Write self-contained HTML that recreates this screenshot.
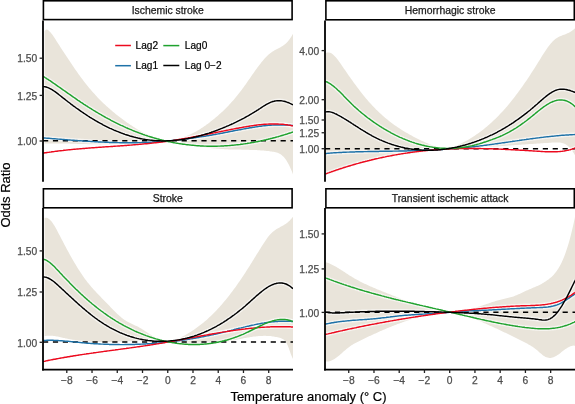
<!DOCTYPE html><html><head><meta charset="utf-8"><style>html,body{margin:0;padding:0;background:#fff;width:575px;height:404px;overflow:hidden;}svg{display:block;}text{font-family:"Liberation Sans",sans-serif;}</style></head><body>
<div style="position:absolute;left:0;top:0;width:575px;height:404px;will-change:transform">
<svg width="575" height="404" viewBox="0 0 575 404">
<rect width="575" height="404" fill="#fff"/>
<defs>
<clipPath id="cTL"><rect x="43.0" y="20.4" width="250.0" height="161.3"/></clipPath>
<clipPath id="cTR"><rect x="325.0" y="20.4" width="250.5" height="161.4"/></clipPath>
<clipPath id="cBL"><rect x="43.0" y="208.0" width="250.0" height="161.7"/></clipPath>
<clipPath id="cBR"><rect x="325.0" y="208.0" width="250.5" height="161.7"/></clipPath>
</defs>
<g clip-path="url(#cTL)">
<path d="M44.6,31.1 L45.6,29.9 L46.6,29.5 L47.6,29.7 L48.6,30.4 L49.6,31.4 L50.6,32.5 L51.6,33.7 L52.6,35.1 L53.6,36.6 L54.6,38.1 L55.6,39.6 L56.6,41.2 L57.6,42.7 L58.6,44.3 L59.6,45.8 L60.6,47.4 L61.6,48.9 L62.6,50.5 L63.6,52.0 L64.6,53.5 L65.6,55.1 L66.6,56.6 L67.6,58.1 L68.6,59.6 L69.6,61.1 L70.6,62.6 L71.6,64.1 L72.6,65.6 L73.6,67.0 L74.6,68.5 L75.6,69.9 L76.6,71.3 L77.6,72.8 L78.6,74.2 L79.6,75.5 L80.6,76.9 L81.6,78.3 L82.6,79.6 L83.6,80.9 L84.6,82.2 L85.6,83.5 L86.6,84.8 L87.6,86.0 L88.6,87.2 L89.6,88.4 L90.6,89.6 L91.6,90.8 L92.6,91.9 L93.6,93.0 L94.6,94.1 L95.6,95.2 L96.6,96.3 L97.6,97.4 L98.6,98.4 L99.6,99.4 L100.6,100.4 L101.6,101.4 L102.6,102.4 L103.6,103.4 L104.6,104.3 L105.6,105.2 L106.6,106.2 L107.6,107.1 L108.6,108.0 L109.6,108.8 L110.6,109.7 L111.6,110.6 L112.6,111.4 L113.6,112.2 L114.6,113.1 L115.6,113.9 L116.6,114.7 L117.6,115.5 L118.6,116.3 L119.6,117.0 L120.6,117.8 L121.6,118.5 L122.6,119.3 L123.6,120.0 L124.6,120.7 L125.6,121.5 L126.6,122.2 L127.6,122.9 L128.6,123.6 L129.6,124.3 L130.6,124.9 L131.6,125.6 L132.6,126.3 L133.6,126.9 L134.6,127.6 L135.6,128.2 L136.6,128.8 L137.6,129.4 L138.6,130.0 L139.6,130.6 L140.6,131.1 L141.6,131.7 L142.6,132.2 L143.6,132.7 L144.6,133.2 L145.6,133.7 L146.6,134.2 L147.6,134.6 L148.6,135.1 L149.6,135.5 L150.6,135.9 L151.6,136.3 L152.6,136.7 L153.6,137.0 L154.6,137.3 L155.6,137.6 L156.6,137.9 L157.6,138.2 L158.6,138.5 L159.6,138.7 L160.6,138.9 L161.6,139.1 L162.6,139.2 L163.6,139.4 L164.6,139.5 L165.6,139.6 L166.6,139.6 L167.6,139.7 L168.6,139.7 L169.6,139.7 L170.6,139.7 L171.6,139.6 L172.6,139.5 L173.6,139.4 L174.6,139.3 L175.6,139.1 L176.6,139.0 L177.6,138.8 L178.6,138.6 L179.6,138.3 L180.6,138.1 L181.6,137.8 L182.6,137.5 L183.6,137.1 L184.6,136.8 L185.6,136.4 L186.6,136.0 L187.6,135.6 L188.6,135.2 L189.6,134.8 L190.6,134.3 L191.6,133.8 L192.6,133.3 L193.6,132.8 L194.6,132.3 L195.6,131.7 L196.6,131.2 L197.6,130.6 L198.6,130.0 L199.6,129.4 L200.6,128.7 L201.6,128.1 L202.6,127.4 L203.6,126.7 L204.6,126.1 L205.6,125.4 L206.6,124.6 L207.6,123.9 L208.6,123.2 L209.6,122.4 L210.6,121.6 L211.6,120.8 L212.6,120.0 L213.6,119.2 L214.6,118.4 L215.6,117.6 L216.6,116.7 L217.6,115.9 L218.6,115.0 L219.6,114.1 L220.6,113.2 L221.6,112.3 L222.6,111.4 L223.6,110.4 L224.6,109.4 L225.6,108.4 L226.6,107.4 L227.6,106.4 L228.6,105.4 L229.6,104.3 L230.6,103.2 L231.6,102.1 L232.6,101.0 L233.6,99.9 L234.6,98.7 L235.6,97.5 L236.6,96.3 L237.6,95.1 L238.6,93.8 L239.6,92.6 L240.6,91.3 L241.6,89.9 L242.6,88.6 L243.6,87.2 L244.6,85.8 L245.6,84.4 L246.6,83.0 L247.6,81.6 L248.6,80.1 L249.6,78.7 L250.6,77.2 L251.6,75.8 L252.6,74.3 L253.6,72.9 L254.6,71.5 L255.6,70.1 L256.6,68.7 L257.6,67.3 L258.6,66.0 L259.6,64.7 L260.6,63.4 L261.6,62.1 L262.6,60.9 L263.6,59.7 L264.6,58.6 L265.6,57.5 L266.6,56.5 L267.6,55.5 L268.6,54.6 L269.6,53.7 L270.6,52.9 L271.6,52.2 L272.6,51.5 L273.6,50.9 L274.6,50.3 L275.6,49.8 L276.6,49.3 L277.6,48.8 L278.6,48.3 L279.6,47.7 L280.6,47.2 L281.6,46.6 L282.6,46.0 L283.6,45.3 L284.6,44.5 L285.6,43.7 L286.6,42.7 L287.6,41.7 L288.6,40.5 L289.6,39.2 L290.6,37.8 L291.6,36.2 L292.6,34.5 L293.0,33.7 L293.0,174.4 L292.6,173.3 L291.6,170.8 L290.6,168.5 L289.6,166.3 L288.6,164.3 L287.6,162.5 L286.6,160.8 L285.6,159.3 L284.6,158.0 L283.6,156.8 L282.6,155.9 L281.6,155.0 L280.6,154.3 L279.6,153.7 L278.6,153.2 L277.6,152.8 L276.6,152.5 L275.6,152.2 L274.6,152.0 L273.6,151.8 L272.6,151.7 L271.6,151.5 L270.6,151.4 L269.6,151.3 L268.6,151.1 L267.6,151.0 L266.6,150.9 L265.6,150.8 L264.6,150.7 L263.6,150.6 L262.6,150.5 L261.6,150.5 L260.6,150.4 L259.6,150.3 L258.6,150.2 L257.6,150.2 L256.6,150.1 L255.6,150.1 L254.6,150.0 L253.6,150.0 L252.6,150.0 L251.6,149.9 L250.6,149.9 L249.6,149.9 L248.6,149.8 L247.6,149.8 L246.6,149.8 L245.6,149.7 L244.6,149.7 L243.6,149.7 L242.6,149.7 L241.6,149.7 L240.6,149.6 L239.6,149.6 L238.6,149.6 L237.6,149.6 L236.6,149.6 L235.6,149.5 L234.6,149.5 L233.6,149.5 L232.6,149.5 L231.6,149.5 L230.6,149.4 L229.6,149.4 L228.6,149.4 L227.6,149.3 L226.6,149.3 L225.6,149.2 L224.6,149.2 L223.6,149.1 L222.6,149.1 L221.6,149.0 L220.6,149.0 L219.6,148.9 L218.6,148.8 L217.6,148.8 L216.6,148.7 L215.6,148.6 L214.6,148.5 L213.6,148.4 L212.6,148.3 L211.6,148.2 L210.6,148.0 L209.6,147.9 L208.6,147.8 L207.6,147.7 L206.6,147.5 L205.6,147.4 L204.6,147.2 L203.6,147.0 L202.6,146.9 L201.6,146.7 L200.6,146.5 L199.6,146.4 L198.6,146.2 L197.6,146.0 L196.6,145.8 L195.6,145.7 L194.6,145.5 L193.6,145.3 L192.6,145.1 L191.6,144.9 L190.6,144.8 L189.6,144.6 L188.6,144.4 L187.6,144.2 L186.6,144.0 L185.6,143.9 L184.6,143.7 L183.6,143.5 L182.6,143.4 L181.6,143.2 L180.6,143.0 L179.6,142.9 L178.6,142.7 L177.6,142.6 L176.6,142.5 L175.6,142.3 L174.6,142.2 L173.6,142.1 L172.6,142.0 L171.6,141.8 L170.6,141.7 L169.6,141.7 L168.6,141.6 L167.6,141.5 L166.6,141.4 L165.6,141.4 L164.6,141.3 L163.6,141.3 L162.6,141.2 L161.6,141.2 L160.6,141.2 L159.6,141.2 L158.6,141.2 L157.6,141.2 L156.6,141.2 L155.6,141.2 L154.6,141.2 L153.6,141.2 L152.6,141.3 L151.6,141.3 L150.6,141.4 L149.6,141.4 L148.6,141.4 L147.6,141.5 L146.6,141.6 L145.6,141.6 L144.6,141.7 L143.6,141.8 L142.6,141.8 L141.6,141.9 L140.6,142.0 L139.6,142.0 L138.6,142.1 L137.6,142.2 L136.6,142.3 L135.6,142.4 L134.6,142.5 L133.6,142.5 L132.6,142.6 L131.6,142.7 L130.6,142.8 L129.6,142.9 L128.6,143.0 L127.6,143.1 L126.6,143.1 L125.6,143.2 L124.6,143.3 L123.6,143.4 L122.6,143.5 L121.6,143.5 L120.6,143.6 L119.6,143.7 L118.6,143.8 L117.6,143.8 L116.6,143.9 L115.6,143.9 L114.6,144.0 L113.6,144.1 L112.6,144.1 L111.6,144.1 L110.6,144.2 L109.6,144.2 L108.6,144.2 L107.6,144.3 L106.6,144.3 L105.6,144.3 L104.6,144.3 L103.6,144.3 L102.6,144.3 L101.6,144.3 L100.6,144.4 L99.6,144.4 L98.6,144.3 L97.6,144.3 L96.6,144.3 L95.6,144.3 L94.6,144.3 L93.6,144.3 L92.6,144.3 L91.6,144.3 L90.6,144.2 L89.6,144.2 L88.6,144.2 L87.6,144.2 L86.6,144.1 L85.6,144.1 L84.6,144.1 L83.6,144.1 L82.6,144.0 L81.6,144.0 L80.6,144.0 L79.6,143.9 L78.6,143.9 L77.6,143.9 L76.6,143.8 L75.6,143.8 L74.6,143.8 L73.6,143.8 L72.6,143.7 L71.6,143.7 L70.6,143.7 L69.6,143.6 L68.6,143.6 L67.6,143.6 L66.6,143.6 L65.6,143.5 L64.6,143.5 L63.6,143.5 L62.6,143.5 L61.6,143.5 L60.6,143.5 L59.6,143.5 L58.6,143.4 L57.6,143.4 L56.6,143.4 L55.6,143.4 L54.6,143.4 L53.6,143.4 L52.6,143.5 L51.6,143.5 L50.6,143.5 L49.6,143.5 L48.6,143.5 L47.6,143.6 L46.6,143.6 L45.6,143.6 L44.6,143.7 Z" fill="#E9E4DA"/>
<path d="M43.0,153.2 L44.0,153.0 L45.0,152.8 L46.0,152.7 L47.0,152.5 L48.0,152.4 L49.0,152.3 L50.0,152.1 L51.0,152.0 L52.0,151.8 L53.0,151.7 L54.0,151.6 L55.0,151.4 L56.0,151.3 L57.0,151.2 L58.0,151.0 L59.0,150.9 L60.0,150.8 L61.0,150.7 L62.0,150.6 L63.0,150.5 L64.0,150.3 L65.0,150.2 L66.0,150.1 L67.0,150.0 L68.0,149.9 L69.0,149.8 L70.0,149.7 L71.0,149.6 L72.0,149.5 L73.0,149.4 L74.0,149.3 L75.0,149.2 L76.0,149.1 L77.0,149.0 L78.0,149.0 L79.0,148.9 L80.0,148.8 L81.0,148.7 L82.0,148.6 L83.0,148.5 L84.0,148.4 L85.0,148.4 L86.0,148.3 L87.0,148.2 L88.0,148.1 L89.0,148.0 L90.0,148.0 L91.0,147.9 L92.0,147.8 L93.0,147.7 L94.0,147.7 L95.0,147.6 L96.0,147.5 L97.0,147.5 L98.0,147.4 L99.0,147.3 L100.0,147.2 L101.0,147.2 L102.0,147.1 L103.0,147.0 L104.0,147.0 L105.0,146.9 L106.0,146.8 L107.0,146.8 L108.0,146.7 L109.0,146.6 L110.0,146.6 L111.0,146.5 L112.0,146.4 L113.0,146.4 L114.0,146.3 L115.0,146.2 L116.0,146.1 L117.0,146.1 L118.0,146.0 L119.0,145.9 L120.0,145.9 L121.0,145.8 L122.0,145.7 L123.0,145.7 L124.0,145.6 L125.0,145.5 L126.0,145.4 L127.0,145.4 L128.0,145.3 L129.0,145.2 L130.0,145.1 L131.0,145.1 L132.0,145.0 L133.0,144.9 L134.0,144.8 L135.0,144.7 L136.0,144.6 L137.0,144.6 L138.0,144.5 L139.0,144.4 L140.0,144.3 L141.0,144.2 L142.0,144.1 L143.0,144.0 L144.0,143.9 L145.0,143.8 L146.0,143.8 L147.0,143.7 L148.0,143.6 L149.0,143.5 L150.0,143.4 L151.0,143.3 L152.0,143.1 L153.0,143.0 L154.0,142.9 L155.0,142.8 L156.0,142.7 L157.0,142.6 L158.0,142.5 L159.0,142.4 L160.0,142.2 L161.0,142.1 L162.0,142.0 L163.0,141.9 L164.0,141.7 L165.0,141.6 L166.0,141.5 L167.0,141.3 L168.0,141.2 L169.0,141.0 L170.0,140.9 L171.0,140.8 L172.0,140.6 L173.0,140.5 L174.0,140.3 L175.0,140.1 L176.0,140.0 L177.0,139.8 L178.0,139.7 L179.0,139.5 L180.0,139.3 L181.0,139.2 L182.0,139.0 L183.0,138.8 L184.0,138.7 L185.0,138.5 L186.0,138.3 L187.0,138.1 L188.0,138.0 L189.0,137.8 L190.0,137.6 L191.0,137.4 L192.0,137.2 L193.0,137.0 L194.0,136.8 L195.0,136.7 L196.0,136.5 L197.0,136.3 L198.0,136.1 L199.0,135.9 L200.0,135.7 L201.0,135.5 L202.0,135.3 L203.0,135.1 L204.0,134.9 L205.0,134.7 L206.0,134.5 L207.0,134.3 L208.0,134.1 L209.0,133.9 L210.0,133.7 L211.0,133.5 L212.0,133.3 L213.0,133.1 L214.0,132.9 L215.0,132.7 L216.0,132.5 L217.0,132.3 L218.0,132.1 L219.0,131.9 L220.0,131.7 L221.0,131.5 L222.0,131.3 L223.0,131.1 L224.0,130.9 L225.0,130.7 L226.0,130.5 L227.0,130.3 L228.0,130.1 L229.0,129.9 L230.0,129.7 L231.0,129.5 L232.0,129.3 L233.0,129.1 L234.0,128.9 L235.0,128.7 L236.0,128.5 L237.0,128.3 L238.0,128.2 L239.0,128.0 L240.0,127.8 L241.0,127.6 L242.0,127.4 L243.0,127.2 L244.0,127.0 L245.0,126.9 L246.0,126.7 L247.0,126.5 L248.0,126.4 L249.0,126.2 L250.0,126.0 L251.0,125.9 L252.0,125.7 L253.0,125.6 L254.0,125.4 L255.0,125.3 L256.0,125.2 L257.0,125.0 L258.0,124.9 L259.0,124.8 L260.0,124.7 L261.0,124.6 L262.0,124.5 L263.0,124.4 L264.0,124.3 L265.0,124.3 L266.0,124.2 L267.0,124.1 L268.0,124.1 L269.0,124.0 L270.0,124.0 L271.0,124.0 L272.0,123.9 L273.0,123.9 L274.0,123.9 L275.0,123.9 L276.0,124.0 L277.0,124.0 L278.0,124.0 L279.0,124.1 L280.0,124.1 L281.0,124.2 L282.0,124.3 L283.0,124.3 L284.0,124.4 L285.0,124.6 L286.0,124.7 L287.0,124.8 L288.0,125.0 L289.0,125.1 L290.0,125.3 L291.0,125.5 L292.0,125.7 L293.0,125.9" fill="none" stroke="#fff" stroke-opacity="0.6" stroke-width="4.2" stroke-linejoin="round"/>
<path d="M43.0,137.9 L44.0,137.9 L45.0,138.0 L46.0,138.1 L47.0,138.2 L48.0,138.3 L49.0,138.3 L50.0,138.4 L51.0,138.5 L52.0,138.6 L53.0,138.7 L54.0,138.7 L55.0,138.8 L56.0,138.9 L57.0,139.0 L58.0,139.1 L59.0,139.1 L60.0,139.2 L61.0,139.3 L62.0,139.4 L63.0,139.5 L64.0,139.5 L65.0,139.6 L66.0,139.7 L67.0,139.8 L68.0,139.9 L69.0,139.9 L70.0,140.0 L71.0,140.1 L72.0,140.2 L73.0,140.2 L74.0,140.3 L75.0,140.4 L76.0,140.5 L77.0,140.5 L78.0,140.6 L79.0,140.7 L80.0,140.7 L81.0,140.8 L82.0,140.9 L83.0,140.9 L84.0,141.0 L85.0,141.1 L86.0,141.1 L87.0,141.2 L88.0,141.3 L89.0,141.3 L90.0,141.4 L91.0,141.5 L92.0,141.5 L93.0,141.6 L94.0,141.6 L95.0,141.7 L96.0,141.8 L97.0,141.8 L98.0,141.9 L99.0,141.9 L100.0,142.0 L101.0,142.0 L102.0,142.1 L103.0,142.1 L104.0,142.1 L105.0,142.2 L106.0,142.2 L107.0,142.3 L108.0,142.3 L109.0,142.4 L110.0,142.4 L111.0,142.4 L112.0,142.5 L113.0,142.5 L114.0,142.5 L115.0,142.5 L116.0,142.6 L117.0,142.6 L118.0,142.6 L119.0,142.6 L120.0,142.7 L121.0,142.7 L122.0,142.7 L123.0,142.7 L124.0,142.7 L125.0,142.7 L126.0,142.7 L127.0,142.7 L128.0,142.7 L129.0,142.7 L130.0,142.7 L131.0,142.7 L132.0,142.7 L133.0,142.7 L134.0,142.7 L135.0,142.7 L136.0,142.7 L137.0,142.7 L138.0,142.6 L139.0,142.6 L140.0,142.6 L141.0,142.6 L142.0,142.5 L143.0,142.5 L144.0,142.5 L145.0,142.4 L146.0,142.4 L147.0,142.4 L148.0,142.3 L149.0,142.3 L150.0,142.2 L151.0,142.2 L152.0,142.1 L153.0,142.1 L154.0,142.0 L155.0,141.9 L156.0,141.9 L157.0,141.8 L158.0,141.7 L159.0,141.7 L160.0,141.6 L161.0,141.5 L162.0,141.4 L163.0,141.4 L164.0,141.3 L165.0,141.2 L166.0,141.1 L167.0,141.0 L168.0,140.9 L169.0,140.8 L170.0,140.7 L171.0,140.6 L172.0,140.5 L173.0,140.4 L174.0,140.3 L175.0,140.2 L176.0,140.1 L177.0,140.0 L178.0,139.9 L179.0,139.8 L180.0,139.7 L181.0,139.6 L182.0,139.4 L183.0,139.3 L184.0,139.2 L185.0,139.1 L186.0,138.9 L187.0,138.8 L188.0,138.7 L189.0,138.5 L190.0,138.4 L191.0,138.3 L192.0,138.1 L193.0,138.0 L194.0,137.8 L195.0,137.7 L196.0,137.6 L197.0,137.4 L198.0,137.3 L199.0,137.1 L200.0,136.9 L201.0,136.8 L202.0,136.6 L203.0,136.5 L204.0,136.3 L205.0,136.2 L206.0,136.0 L207.0,135.8 L208.0,135.7 L209.0,135.5 L210.0,135.3 L211.0,135.2 L212.0,135.0 L213.0,134.8 L214.0,134.6 L215.0,134.5 L216.0,134.3 L217.0,134.1 L218.0,133.9 L219.0,133.7 L220.0,133.5 L221.0,133.4 L222.0,133.2 L223.0,133.0 L224.0,132.8 L225.0,132.6 L226.0,132.4 L227.0,132.2 L228.0,132.0 L229.0,131.8 L230.0,131.6 L231.0,131.4 L232.0,131.2 L233.0,131.0 L234.0,130.8 L235.0,130.6 L236.0,130.4 L237.0,130.2 L238.0,130.0 L239.0,129.9 L240.0,129.7 L241.0,129.5 L242.0,129.3 L243.0,129.1 L244.0,128.9 L245.0,128.7 L246.0,128.5 L247.0,128.4 L248.0,128.2 L249.0,128.0 L250.0,127.8 L251.0,127.7 L252.0,127.5 L253.0,127.3 L254.0,127.2 L255.0,127.0 L256.0,126.9 L257.0,126.7 L258.0,126.6 L259.0,126.4 L260.0,126.3 L261.0,126.2 L262.0,126.0 L263.0,125.9 L264.0,125.8 L265.0,125.7 L266.0,125.6 L267.0,125.5 L268.0,125.4 L269.0,125.3 L270.0,125.3 L271.0,125.2 L272.0,125.1 L273.0,125.1 L274.0,125.0 L275.0,125.0 L276.0,124.9 L277.0,124.9 L278.0,124.9 L279.0,124.9 L280.0,124.9 L281.0,124.9 L282.0,124.9 L283.0,124.9 L284.0,124.9 L285.0,125.0 L286.0,125.0 L287.0,125.1 L288.0,125.1 L289.0,125.2 L290.0,125.3 L291.0,125.4 L292.0,125.5 L293.0,125.6" fill="none" stroke="#fff" stroke-opacity="0.6" stroke-width="4.2" stroke-linejoin="round"/>
<path d="M43.0,76.2 L44.0,76.8 L45.0,77.5 L46.0,78.1 L47.0,78.8 L48.0,79.4 L49.0,80.1 L50.0,80.7 L51.0,81.4 L52.0,82.1 L53.0,82.8 L54.0,83.5 L55.0,84.2 L56.0,84.9 L57.0,85.6 L58.0,86.3 L59.0,87.0 L60.0,87.7 L61.0,88.4 L62.0,89.1 L63.0,89.8 L64.0,90.5 L65.0,91.2 L66.0,91.9 L67.0,92.6 L68.0,93.3 L69.0,94.0 L70.0,94.7 L71.0,95.4 L72.0,96.1 L73.0,96.8 L74.0,97.5 L75.0,98.2 L76.0,98.9 L77.0,99.6 L78.0,100.3 L79.0,100.9 L80.0,101.6 L81.0,102.3 L82.0,102.9 L83.0,103.6 L84.0,104.3 L85.0,104.9 L86.0,105.6 L87.0,106.2 L88.0,106.9 L89.0,107.5 L90.0,108.1 L91.0,108.7 L92.0,109.4 L93.0,110.0 L94.0,110.6 L95.0,111.2 L96.0,111.8 L97.0,112.4 L98.0,113.0 L99.0,113.6 L100.0,114.2 L101.0,114.7 L102.0,115.3 L103.0,115.9 L104.0,116.5 L105.0,117.0 L106.0,117.6 L107.0,118.1 L108.0,118.7 L109.0,119.2 L110.0,119.7 L111.0,120.3 L112.0,120.8 L113.0,121.3 L114.0,121.8 L115.0,122.3 L116.0,122.8 L117.0,123.3 L118.0,123.8 L119.0,124.3 L120.0,124.8 L121.0,125.3 L122.0,125.7 L123.0,126.2 L124.0,126.7 L125.0,127.1 L126.0,127.6 L127.0,128.0 L128.0,128.5 L129.0,128.9 L130.0,129.3 L131.0,129.7 L132.0,130.2 L133.0,130.6 L134.0,131.0 L135.0,131.4 L136.0,131.8 L137.0,132.1 L138.0,132.5 L139.0,132.9 L140.0,133.3 L141.0,133.6 L142.0,134.0 L143.0,134.4 L144.0,134.7 L145.0,135.1 L146.0,135.4 L147.0,135.7 L148.0,136.1 L149.0,136.4 L150.0,136.7 L151.0,137.0 L152.0,137.3 L153.0,137.6 L154.0,137.9 L155.0,138.2 L156.0,138.5 L157.0,138.8 L158.0,139.0 L159.0,139.3 L160.0,139.6 L161.0,139.8 L162.0,140.1 L163.0,140.3 L164.0,140.6 L165.0,140.8 L166.0,141.0 L167.0,141.3 L168.0,141.5 L169.0,141.7 L170.0,141.9 L171.0,142.1 L172.0,142.3 L173.0,142.5 L174.0,142.7 L175.0,142.9 L176.0,143.1 L177.0,143.2 L178.0,143.4 L179.0,143.6 L180.0,143.7 L181.0,143.9 L182.0,144.0 L183.0,144.2 L184.0,144.3 L185.0,144.4 L186.0,144.6 L187.0,144.7 L188.0,144.8 L189.0,144.9 L190.0,145.0 L191.0,145.1 L192.0,145.2 L193.0,145.3 L194.0,145.4 L195.0,145.5 L196.0,145.6 L197.0,145.7 L198.0,145.7 L199.0,145.8 L200.0,145.9 L201.0,145.9 L202.0,146.0 L203.0,146.0 L204.0,146.1 L205.0,146.1 L206.0,146.1 L207.0,146.2 L208.0,146.2 L209.0,146.2 L210.0,146.2 L211.0,146.2 L212.0,146.2 L213.0,146.2 L214.0,146.2 L215.0,146.2 L216.0,146.2 L217.0,146.2 L218.0,146.1 L219.0,146.1 L220.0,146.1 L221.0,146.0 L222.0,146.0 L223.0,145.9 L224.0,145.9 L225.0,145.8 L226.0,145.8 L227.0,145.7 L228.0,145.6 L229.0,145.6 L230.0,145.5 L231.0,145.4 L232.0,145.3 L233.0,145.2 L234.0,145.1 L235.0,145.0 L236.0,144.9 L237.0,144.8 L238.0,144.7 L239.0,144.6 L240.0,144.5 L241.0,144.3 L242.0,144.2 L243.0,144.1 L244.0,143.9 L245.0,143.8 L246.0,143.6 L247.0,143.5 L248.0,143.3 L249.0,143.1 L250.0,143.0 L251.0,142.8 L252.0,142.6 L253.0,142.5 L254.0,142.3 L255.0,142.1 L256.0,141.9 L257.0,141.7 L258.0,141.5 L259.0,141.3 L260.0,141.1 L261.0,140.9 L262.0,140.7 L263.0,140.4 L264.0,140.2 L265.0,140.0 L266.0,139.8 L267.0,139.5 L268.0,139.3 L269.0,139.0 L270.0,138.8 L271.0,138.5 L272.0,138.3 L273.0,138.0 L274.0,137.7 L275.0,137.5 L276.0,137.2 L277.0,136.9 L278.0,136.7 L279.0,136.4 L280.0,136.1 L281.0,135.8 L282.0,135.5 L283.0,135.2 L284.0,134.9 L285.0,134.6 L286.0,134.3 L287.0,134.0 L288.0,133.6 L289.0,133.3 L290.0,133.0 L291.0,132.7 L292.0,132.3 L293.0,132.0" fill="none" stroke="#fff" stroke-opacity="0.6" stroke-width="4.2" stroke-linejoin="round"/>
<path d="M43.0,86.5 L44.0,86.6 L45.0,86.8 L46.0,87.0 L47.0,87.3 L48.0,87.7 L49.0,88.1 L50.0,88.6 L51.0,89.1 L52.0,89.7 L53.0,90.3 L54.0,91.0 L55.0,91.7 L56.0,92.4 L57.0,93.1 L58.0,93.9 L59.0,94.7 L60.0,95.5 L61.0,96.3 L62.0,97.1 L63.0,97.9 L64.0,98.6 L65.0,99.4 L66.0,100.2 L67.0,101.0 L68.0,101.8 L69.0,102.5 L70.0,103.3 L71.0,104.1 L72.0,104.8 L73.0,105.6 L74.0,106.3 L75.0,107.0 L76.0,107.8 L77.0,108.5 L78.0,109.2 L79.0,109.9 L80.0,110.6 L81.0,111.3 L82.0,112.0 L83.0,112.7 L84.0,113.4 L85.0,114.0 L86.0,114.7 L87.0,115.3 L88.0,116.0 L89.0,116.6 L90.0,117.3 L91.0,117.9 L92.0,118.5 L93.0,119.1 L94.0,119.7 L95.0,120.3 L96.0,120.9 L97.0,121.5 L98.0,122.0 L99.0,122.6 L100.0,123.2 L101.0,123.7 L102.0,124.2 L103.0,124.8 L104.0,125.3 L105.0,125.8 L106.0,126.3 L107.0,126.8 L108.0,127.3 L109.0,127.8 L110.0,128.3 L111.0,128.7 L112.0,129.2 L113.0,129.6 L114.0,130.1 L115.0,130.5 L116.0,130.9 L117.0,131.3 L118.0,131.7 L119.0,132.1 L120.0,132.5 L121.0,132.9 L122.0,133.3 L123.0,133.6 L124.0,134.0 L125.0,134.4 L126.0,134.7 L127.0,135.0 L128.0,135.3 L129.0,135.6 L130.0,136.0 L131.0,136.2 L132.0,136.5 L133.0,136.8 L134.0,137.1 L135.0,137.3 L136.0,137.6 L137.0,137.8 L138.0,138.1 L139.0,138.3 L140.0,138.5 L141.0,138.7 L142.0,138.9 L143.0,139.1 L144.0,139.2 L145.0,139.4 L146.0,139.6 L147.0,139.7 L148.0,139.9 L149.0,140.0 L150.0,140.1 L151.0,140.2 L152.0,140.3 L153.0,140.4 L154.0,140.5 L155.0,140.6 L156.0,140.6 L157.0,140.7 L158.0,140.8 L159.0,140.8 L160.0,140.8 L161.0,140.9 L162.0,140.9 L163.0,140.9 L164.0,140.9 L165.0,140.9 L166.0,140.9 L167.0,140.8 L168.0,140.8 L169.0,140.8 L170.0,140.7 L171.0,140.6 L172.0,140.6 L173.0,140.5 L174.0,140.4 L175.0,140.3 L176.0,140.2 L177.0,140.1 L178.0,140.0 L179.0,139.9 L180.0,139.8 L181.0,139.7 L182.0,139.5 L183.0,139.4 L184.0,139.2 L185.0,139.0 L186.0,138.9 L187.0,138.7 L188.0,138.5 L189.0,138.3 L190.0,138.1 L191.0,137.9 L192.0,137.7 L193.0,137.5 L194.0,137.2 L195.0,137.0 L196.0,136.8 L197.0,136.5 L198.0,136.3 L199.0,136.0 L200.0,135.7 L201.0,135.5 L202.0,135.2 L203.0,134.9 L204.0,134.6 L205.0,134.3 L206.0,134.0 L207.0,133.7 L208.0,133.4 L209.0,133.1 L210.0,132.7 L211.0,132.4 L212.0,132.0 L213.0,131.7 L214.0,131.3 L215.0,131.0 L216.0,130.6 L217.0,130.3 L218.0,129.9 L219.0,129.5 L220.0,129.1 L221.0,128.7 L222.0,128.3 L223.0,127.9 L224.0,127.5 L225.0,127.1 L226.0,126.7 L227.0,126.2 L228.0,125.8 L229.0,125.4 L230.0,124.9 L231.0,124.5 L232.0,124.0 L233.0,123.6 L234.0,123.1 L235.0,122.6 L236.0,122.2 L237.0,121.7 L238.0,121.2 L239.0,120.7 L240.0,120.2 L241.0,119.7 L242.0,119.1 L243.0,118.6 L244.0,118.1 L245.0,117.5 L246.0,117.0 L247.0,116.4 L248.0,115.9 L249.0,115.3 L250.0,114.7 L251.0,114.1 L252.0,113.5 L253.0,112.9 L254.0,112.3 L255.0,111.7 L256.0,111.1 L257.0,110.4 L258.0,109.8 L259.0,109.1 L260.0,108.5 L261.0,107.8 L262.0,107.2 L263.0,106.5 L264.0,105.9 L265.0,105.3 L266.0,104.7 L267.0,104.1 L268.0,103.6 L269.0,103.1 L270.0,102.6 L271.0,102.2 L272.0,101.8 L273.0,101.5 L274.0,101.3 L275.0,101.0 L276.0,100.9 L277.0,100.8 L278.0,100.7 L279.0,100.7 L280.0,100.7 L281.0,100.8 L282.0,100.9 L283.0,101.1 L284.0,101.3 L285.0,101.5 L286.0,101.8 L287.0,102.2 L288.0,102.5 L289.0,102.9 L290.0,103.4 L291.0,103.8 L292.0,104.3 L293.0,104.9" fill="none" stroke="#fff" stroke-opacity="0.6" stroke-width="4.2" stroke-linejoin="round"/>
<line x1="43.0" y1="140.80" x2="293.0" y2="140.80" stroke="#000" stroke-width="1.4" stroke-dasharray="5.2 4.7"/>
<path d="M43.0,137.9 L44.0,137.9 L45.0,138.0 L46.0,138.1 L47.0,138.2 L48.0,138.3 L49.0,138.3 L50.0,138.4 L51.0,138.5 L52.0,138.6 L53.0,138.7 L54.0,138.7 L55.0,138.8 L56.0,138.9 L57.0,139.0 L58.0,139.1 L59.0,139.1 L60.0,139.2 L61.0,139.3 L62.0,139.4 L63.0,139.5 L64.0,139.5 L65.0,139.6 L66.0,139.7 L67.0,139.8 L68.0,139.9 L69.0,139.9 L70.0,140.0 L71.0,140.1 L72.0,140.2 L73.0,140.2 L74.0,140.3 L75.0,140.4 L76.0,140.5 L77.0,140.5 L78.0,140.6 L79.0,140.7 L80.0,140.7 L81.0,140.8 L82.0,140.9 L83.0,140.9 L84.0,141.0 L85.0,141.1 L86.0,141.1 L87.0,141.2 L88.0,141.3 L89.0,141.3 L90.0,141.4 L91.0,141.5 L92.0,141.5 L93.0,141.6 L94.0,141.6 L95.0,141.7 L96.0,141.8 L97.0,141.8 L98.0,141.9 L99.0,141.9 L100.0,142.0 L101.0,142.0 L102.0,142.1 L103.0,142.1 L104.0,142.1 L105.0,142.2 L106.0,142.2 L107.0,142.3 L108.0,142.3 L109.0,142.4 L110.0,142.4 L111.0,142.4 L112.0,142.5 L113.0,142.5 L114.0,142.5 L115.0,142.5 L116.0,142.6 L117.0,142.6 L118.0,142.6 L119.0,142.6 L120.0,142.7 L121.0,142.7 L122.0,142.7 L123.0,142.7 L124.0,142.7 L125.0,142.7 L126.0,142.7 L127.0,142.7 L128.0,142.7 L129.0,142.7 L130.0,142.7 L131.0,142.7 L132.0,142.7 L133.0,142.7 L134.0,142.7 L135.0,142.7 L136.0,142.7 L137.0,142.7 L138.0,142.6 L139.0,142.6 L140.0,142.6 L141.0,142.6 L142.0,142.5 L143.0,142.5 L144.0,142.5 L145.0,142.4 L146.0,142.4 L147.0,142.4 L148.0,142.3 L149.0,142.3 L150.0,142.2 L151.0,142.2 L152.0,142.1 L153.0,142.1 L154.0,142.0 L155.0,141.9 L156.0,141.9 L157.0,141.8 L158.0,141.7 L159.0,141.7 L160.0,141.6 L161.0,141.5 L162.0,141.4 L163.0,141.4 L164.0,141.3 L165.0,141.2 L166.0,141.1 L167.0,141.0 L168.0,140.9 L169.0,140.8 L170.0,140.7 L171.0,140.6 L172.0,140.5 L173.0,140.4 L174.0,140.3 L175.0,140.2 L176.0,140.1 L177.0,140.0 L178.0,139.9 L179.0,139.8 L180.0,139.7 L181.0,139.6 L182.0,139.4 L183.0,139.3 L184.0,139.2 L185.0,139.1 L186.0,138.9 L187.0,138.8 L188.0,138.7 L189.0,138.5 L190.0,138.4 L191.0,138.3 L192.0,138.1 L193.0,138.0 L194.0,137.8 L195.0,137.7 L196.0,137.6 L197.0,137.4 L198.0,137.3 L199.0,137.1 L200.0,136.9 L201.0,136.8 L202.0,136.6 L203.0,136.5 L204.0,136.3 L205.0,136.2 L206.0,136.0 L207.0,135.8 L208.0,135.7 L209.0,135.5 L210.0,135.3 L211.0,135.2 L212.0,135.0 L213.0,134.8 L214.0,134.6 L215.0,134.5 L216.0,134.3 L217.0,134.1 L218.0,133.9 L219.0,133.7 L220.0,133.5 L221.0,133.4 L222.0,133.2 L223.0,133.0 L224.0,132.8 L225.0,132.6 L226.0,132.4 L227.0,132.2 L228.0,132.0 L229.0,131.8 L230.0,131.6 L231.0,131.4 L232.0,131.2 L233.0,131.0 L234.0,130.8 L235.0,130.6 L236.0,130.4 L237.0,130.2 L238.0,130.0 L239.0,129.9 L240.0,129.7 L241.0,129.5 L242.0,129.3 L243.0,129.1 L244.0,128.9 L245.0,128.7 L246.0,128.5 L247.0,128.4 L248.0,128.2 L249.0,128.0 L250.0,127.8 L251.0,127.7 L252.0,127.5 L253.0,127.3 L254.0,127.2 L255.0,127.0 L256.0,126.9 L257.0,126.7 L258.0,126.6 L259.0,126.4 L260.0,126.3 L261.0,126.2 L262.0,126.0 L263.0,125.9 L264.0,125.8 L265.0,125.7 L266.0,125.6 L267.0,125.5 L268.0,125.4 L269.0,125.3 L270.0,125.3 L271.0,125.2 L272.0,125.1 L273.0,125.1 L274.0,125.0 L275.0,125.0 L276.0,124.9 L277.0,124.9 L278.0,124.9 L279.0,124.9 L280.0,124.9 L281.0,124.9 L282.0,124.9 L283.0,124.9 L284.0,124.9 L285.0,125.0 L286.0,125.0 L287.0,125.1 L288.0,125.1 L289.0,125.2 L290.0,125.3 L291.0,125.4 L292.0,125.5 L293.0,125.6" fill="none" stroke="#1E72A8" stroke-width="1.45" stroke-linejoin="round"/>
<path d="M43.0,153.2 L44.0,153.0 L45.0,152.8 L46.0,152.7 L47.0,152.5 L48.0,152.4 L49.0,152.3 L50.0,152.1 L51.0,152.0 L52.0,151.8 L53.0,151.7 L54.0,151.6 L55.0,151.4 L56.0,151.3 L57.0,151.2 L58.0,151.0 L59.0,150.9 L60.0,150.8 L61.0,150.7 L62.0,150.6 L63.0,150.5 L64.0,150.3 L65.0,150.2 L66.0,150.1 L67.0,150.0 L68.0,149.9 L69.0,149.8 L70.0,149.7 L71.0,149.6 L72.0,149.5 L73.0,149.4 L74.0,149.3 L75.0,149.2 L76.0,149.1 L77.0,149.0 L78.0,149.0 L79.0,148.9 L80.0,148.8 L81.0,148.7 L82.0,148.6 L83.0,148.5 L84.0,148.4 L85.0,148.4 L86.0,148.3 L87.0,148.2 L88.0,148.1 L89.0,148.0 L90.0,148.0 L91.0,147.9 L92.0,147.8 L93.0,147.7 L94.0,147.7 L95.0,147.6 L96.0,147.5 L97.0,147.5 L98.0,147.4 L99.0,147.3 L100.0,147.2 L101.0,147.2 L102.0,147.1 L103.0,147.0 L104.0,147.0 L105.0,146.9 L106.0,146.8 L107.0,146.8 L108.0,146.7 L109.0,146.6 L110.0,146.6 L111.0,146.5 L112.0,146.4 L113.0,146.4 L114.0,146.3 L115.0,146.2 L116.0,146.1 L117.0,146.1 L118.0,146.0 L119.0,145.9 L120.0,145.9 L121.0,145.8 L122.0,145.7 L123.0,145.7 L124.0,145.6 L125.0,145.5 L126.0,145.4 L127.0,145.4 L128.0,145.3 L129.0,145.2 L130.0,145.1 L131.0,145.1 L132.0,145.0 L133.0,144.9 L134.0,144.8 L135.0,144.7 L136.0,144.6 L137.0,144.6 L138.0,144.5 L139.0,144.4 L140.0,144.3 L141.0,144.2 L142.0,144.1 L143.0,144.0 L144.0,143.9 L145.0,143.8 L146.0,143.8 L147.0,143.7 L148.0,143.6 L149.0,143.5 L150.0,143.4 L151.0,143.3 L152.0,143.1 L153.0,143.0 L154.0,142.9 L155.0,142.8 L156.0,142.7 L157.0,142.6 L158.0,142.5 L159.0,142.4 L160.0,142.2 L161.0,142.1 L162.0,142.0 L163.0,141.9 L164.0,141.7 L165.0,141.6 L166.0,141.5 L167.0,141.3 L168.0,141.2 L169.0,141.0 L170.0,140.9 L171.0,140.8 L172.0,140.6 L173.0,140.5 L174.0,140.3 L175.0,140.1 L176.0,140.0 L177.0,139.8 L178.0,139.7 L179.0,139.5 L180.0,139.3 L181.0,139.2 L182.0,139.0 L183.0,138.8 L184.0,138.7 L185.0,138.5 L186.0,138.3 L187.0,138.1 L188.0,138.0 L189.0,137.8 L190.0,137.6 L191.0,137.4 L192.0,137.2 L193.0,137.0 L194.0,136.8 L195.0,136.7 L196.0,136.5 L197.0,136.3 L198.0,136.1 L199.0,135.9 L200.0,135.7 L201.0,135.5 L202.0,135.3 L203.0,135.1 L204.0,134.9 L205.0,134.7 L206.0,134.5 L207.0,134.3 L208.0,134.1 L209.0,133.9 L210.0,133.7 L211.0,133.5 L212.0,133.3 L213.0,133.1 L214.0,132.9 L215.0,132.7 L216.0,132.5 L217.0,132.3 L218.0,132.1 L219.0,131.9 L220.0,131.7 L221.0,131.5 L222.0,131.3 L223.0,131.1 L224.0,130.9 L225.0,130.7 L226.0,130.5 L227.0,130.3 L228.0,130.1 L229.0,129.9 L230.0,129.7 L231.0,129.5 L232.0,129.3 L233.0,129.1 L234.0,128.9 L235.0,128.7 L236.0,128.5 L237.0,128.3 L238.0,128.2 L239.0,128.0 L240.0,127.8 L241.0,127.6 L242.0,127.4 L243.0,127.2 L244.0,127.0 L245.0,126.9 L246.0,126.7 L247.0,126.5 L248.0,126.4 L249.0,126.2 L250.0,126.0 L251.0,125.9 L252.0,125.7 L253.0,125.6 L254.0,125.4 L255.0,125.3 L256.0,125.2 L257.0,125.0 L258.0,124.9 L259.0,124.8 L260.0,124.7 L261.0,124.6 L262.0,124.5 L263.0,124.4 L264.0,124.3 L265.0,124.3 L266.0,124.2 L267.0,124.1 L268.0,124.1 L269.0,124.0 L270.0,124.0 L271.0,124.0 L272.0,123.9 L273.0,123.9 L274.0,123.9 L275.0,123.9 L276.0,124.0 L277.0,124.0 L278.0,124.0 L279.0,124.1 L280.0,124.1 L281.0,124.2 L282.0,124.3 L283.0,124.3 L284.0,124.4 L285.0,124.6 L286.0,124.7 L287.0,124.8 L288.0,125.0 L289.0,125.1 L290.0,125.3 L291.0,125.5 L292.0,125.7 L293.0,125.9" fill="none" stroke="#EC0A1E" stroke-width="1.45" stroke-linejoin="round"/>
<path d="M43.0,76.2 L44.0,76.8 L45.0,77.5 L46.0,78.1 L47.0,78.8 L48.0,79.4 L49.0,80.1 L50.0,80.7 L51.0,81.4 L52.0,82.1 L53.0,82.8 L54.0,83.5 L55.0,84.2 L56.0,84.9 L57.0,85.6 L58.0,86.3 L59.0,87.0 L60.0,87.7 L61.0,88.4 L62.0,89.1 L63.0,89.8 L64.0,90.5 L65.0,91.2 L66.0,91.9 L67.0,92.6 L68.0,93.3 L69.0,94.0 L70.0,94.7 L71.0,95.4 L72.0,96.1 L73.0,96.8 L74.0,97.5 L75.0,98.2 L76.0,98.9 L77.0,99.6 L78.0,100.3 L79.0,100.9 L80.0,101.6 L81.0,102.3 L82.0,102.9 L83.0,103.6 L84.0,104.3 L85.0,104.9 L86.0,105.6 L87.0,106.2 L88.0,106.9 L89.0,107.5 L90.0,108.1 L91.0,108.7 L92.0,109.4 L93.0,110.0 L94.0,110.6 L95.0,111.2 L96.0,111.8 L97.0,112.4 L98.0,113.0 L99.0,113.6 L100.0,114.2 L101.0,114.7 L102.0,115.3 L103.0,115.9 L104.0,116.5 L105.0,117.0 L106.0,117.6 L107.0,118.1 L108.0,118.7 L109.0,119.2 L110.0,119.7 L111.0,120.3 L112.0,120.8 L113.0,121.3 L114.0,121.8 L115.0,122.3 L116.0,122.8 L117.0,123.3 L118.0,123.8 L119.0,124.3 L120.0,124.8 L121.0,125.3 L122.0,125.7 L123.0,126.2 L124.0,126.7 L125.0,127.1 L126.0,127.6 L127.0,128.0 L128.0,128.5 L129.0,128.9 L130.0,129.3 L131.0,129.7 L132.0,130.2 L133.0,130.6 L134.0,131.0 L135.0,131.4 L136.0,131.8 L137.0,132.1 L138.0,132.5 L139.0,132.9 L140.0,133.3 L141.0,133.6 L142.0,134.0 L143.0,134.4 L144.0,134.7 L145.0,135.1 L146.0,135.4 L147.0,135.7 L148.0,136.1 L149.0,136.4 L150.0,136.7 L151.0,137.0 L152.0,137.3 L153.0,137.6 L154.0,137.9 L155.0,138.2 L156.0,138.5 L157.0,138.8 L158.0,139.0 L159.0,139.3 L160.0,139.6 L161.0,139.8 L162.0,140.1 L163.0,140.3 L164.0,140.6 L165.0,140.8 L166.0,141.0 L167.0,141.3 L168.0,141.5 L169.0,141.7 L170.0,141.9 L171.0,142.1 L172.0,142.3 L173.0,142.5 L174.0,142.7 L175.0,142.9 L176.0,143.1 L177.0,143.2 L178.0,143.4 L179.0,143.6 L180.0,143.7 L181.0,143.9 L182.0,144.0 L183.0,144.2 L184.0,144.3 L185.0,144.4 L186.0,144.6 L187.0,144.7 L188.0,144.8 L189.0,144.9 L190.0,145.0 L191.0,145.1 L192.0,145.2 L193.0,145.3 L194.0,145.4 L195.0,145.5 L196.0,145.6 L197.0,145.7 L198.0,145.7 L199.0,145.8 L200.0,145.9 L201.0,145.9 L202.0,146.0 L203.0,146.0 L204.0,146.1 L205.0,146.1 L206.0,146.1 L207.0,146.2 L208.0,146.2 L209.0,146.2 L210.0,146.2 L211.0,146.2 L212.0,146.2 L213.0,146.2 L214.0,146.2 L215.0,146.2 L216.0,146.2 L217.0,146.2 L218.0,146.1 L219.0,146.1 L220.0,146.1 L221.0,146.0 L222.0,146.0 L223.0,145.9 L224.0,145.9 L225.0,145.8 L226.0,145.8 L227.0,145.7 L228.0,145.6 L229.0,145.6 L230.0,145.5 L231.0,145.4 L232.0,145.3 L233.0,145.2 L234.0,145.1 L235.0,145.0 L236.0,144.9 L237.0,144.8 L238.0,144.7 L239.0,144.6 L240.0,144.5 L241.0,144.3 L242.0,144.2 L243.0,144.1 L244.0,143.9 L245.0,143.8 L246.0,143.6 L247.0,143.5 L248.0,143.3 L249.0,143.1 L250.0,143.0 L251.0,142.8 L252.0,142.6 L253.0,142.5 L254.0,142.3 L255.0,142.1 L256.0,141.9 L257.0,141.7 L258.0,141.5 L259.0,141.3 L260.0,141.1 L261.0,140.9 L262.0,140.7 L263.0,140.4 L264.0,140.2 L265.0,140.0 L266.0,139.8 L267.0,139.5 L268.0,139.3 L269.0,139.0 L270.0,138.8 L271.0,138.5 L272.0,138.3 L273.0,138.0 L274.0,137.7 L275.0,137.5 L276.0,137.2 L277.0,136.9 L278.0,136.7 L279.0,136.4 L280.0,136.1 L281.0,135.8 L282.0,135.5 L283.0,135.2 L284.0,134.9 L285.0,134.6 L286.0,134.3 L287.0,134.0 L288.0,133.6 L289.0,133.3 L290.0,133.0 L291.0,132.7 L292.0,132.3 L293.0,132.0" fill="none" stroke="#1FA22E" stroke-width="1.45" stroke-linejoin="round"/>
<path d="M43.0,86.5 L44.0,86.6 L45.0,86.8 L46.0,87.0 L47.0,87.3 L48.0,87.7 L49.0,88.1 L50.0,88.6 L51.0,89.1 L52.0,89.7 L53.0,90.3 L54.0,91.0 L55.0,91.7 L56.0,92.4 L57.0,93.1 L58.0,93.9 L59.0,94.7 L60.0,95.5 L61.0,96.3 L62.0,97.1 L63.0,97.9 L64.0,98.6 L65.0,99.4 L66.0,100.2 L67.0,101.0 L68.0,101.8 L69.0,102.5 L70.0,103.3 L71.0,104.1 L72.0,104.8 L73.0,105.6 L74.0,106.3 L75.0,107.0 L76.0,107.8 L77.0,108.5 L78.0,109.2 L79.0,109.9 L80.0,110.6 L81.0,111.3 L82.0,112.0 L83.0,112.7 L84.0,113.4 L85.0,114.0 L86.0,114.7 L87.0,115.3 L88.0,116.0 L89.0,116.6 L90.0,117.3 L91.0,117.9 L92.0,118.5 L93.0,119.1 L94.0,119.7 L95.0,120.3 L96.0,120.9 L97.0,121.5 L98.0,122.0 L99.0,122.6 L100.0,123.2 L101.0,123.7 L102.0,124.2 L103.0,124.8 L104.0,125.3 L105.0,125.8 L106.0,126.3 L107.0,126.8 L108.0,127.3 L109.0,127.8 L110.0,128.3 L111.0,128.7 L112.0,129.2 L113.0,129.6 L114.0,130.1 L115.0,130.5 L116.0,130.9 L117.0,131.3 L118.0,131.7 L119.0,132.1 L120.0,132.5 L121.0,132.9 L122.0,133.3 L123.0,133.6 L124.0,134.0 L125.0,134.4 L126.0,134.7 L127.0,135.0 L128.0,135.3 L129.0,135.6 L130.0,136.0 L131.0,136.2 L132.0,136.5 L133.0,136.8 L134.0,137.1 L135.0,137.3 L136.0,137.6 L137.0,137.8 L138.0,138.1 L139.0,138.3 L140.0,138.5 L141.0,138.7 L142.0,138.9 L143.0,139.1 L144.0,139.2 L145.0,139.4 L146.0,139.6 L147.0,139.7 L148.0,139.9 L149.0,140.0 L150.0,140.1 L151.0,140.2 L152.0,140.3 L153.0,140.4 L154.0,140.5 L155.0,140.6 L156.0,140.6 L157.0,140.7 L158.0,140.8 L159.0,140.8 L160.0,140.8 L161.0,140.9 L162.0,140.9 L163.0,140.9 L164.0,140.9 L165.0,140.9 L166.0,140.9 L167.0,140.8 L168.0,140.8 L169.0,140.8 L170.0,140.7 L171.0,140.6 L172.0,140.6 L173.0,140.5 L174.0,140.4 L175.0,140.3 L176.0,140.2 L177.0,140.1 L178.0,140.0 L179.0,139.9 L180.0,139.8 L181.0,139.7 L182.0,139.5 L183.0,139.4 L184.0,139.2 L185.0,139.0 L186.0,138.9 L187.0,138.7 L188.0,138.5 L189.0,138.3 L190.0,138.1 L191.0,137.9 L192.0,137.7 L193.0,137.5 L194.0,137.2 L195.0,137.0 L196.0,136.8 L197.0,136.5 L198.0,136.3 L199.0,136.0 L200.0,135.7 L201.0,135.5 L202.0,135.2 L203.0,134.9 L204.0,134.6 L205.0,134.3 L206.0,134.0 L207.0,133.7 L208.0,133.4 L209.0,133.1 L210.0,132.7 L211.0,132.4 L212.0,132.0 L213.0,131.7 L214.0,131.3 L215.0,131.0 L216.0,130.6 L217.0,130.3 L218.0,129.9 L219.0,129.5 L220.0,129.1 L221.0,128.7 L222.0,128.3 L223.0,127.9 L224.0,127.5 L225.0,127.1 L226.0,126.7 L227.0,126.2 L228.0,125.8 L229.0,125.4 L230.0,124.9 L231.0,124.5 L232.0,124.0 L233.0,123.6 L234.0,123.1 L235.0,122.6 L236.0,122.2 L237.0,121.7 L238.0,121.2 L239.0,120.7 L240.0,120.2 L241.0,119.7 L242.0,119.1 L243.0,118.6 L244.0,118.1 L245.0,117.5 L246.0,117.0 L247.0,116.4 L248.0,115.9 L249.0,115.3 L250.0,114.7 L251.0,114.1 L252.0,113.5 L253.0,112.9 L254.0,112.3 L255.0,111.7 L256.0,111.1 L257.0,110.4 L258.0,109.8 L259.0,109.1 L260.0,108.5 L261.0,107.8 L262.0,107.2 L263.0,106.5 L264.0,105.9 L265.0,105.3 L266.0,104.7 L267.0,104.1 L268.0,103.6 L269.0,103.1 L270.0,102.6 L271.0,102.2 L272.0,101.8 L273.0,101.5 L274.0,101.3 L275.0,101.0 L276.0,100.9 L277.0,100.8 L278.0,100.7 L279.0,100.7 L280.0,100.7 L281.0,100.8 L282.0,100.9 L283.0,101.1 L284.0,101.3 L285.0,101.5 L286.0,101.8 L287.0,102.2 L288.0,102.5 L289.0,102.9 L290.0,103.4 L291.0,103.8 L292.0,104.3 L293.0,104.9" fill="none" stroke="#000000" stroke-width="1.45" stroke-linejoin="round"/>
</g>
<line x1="43.00" y1="20.4" x2="43.00" y2="181.7" stroke="#000" stroke-width="1.8"/>
<line x1="39.60" y1="58.20" x2="43.00" y2="58.20" stroke="#222" stroke-width="1.3"/>
<text x="37.20" y="62.40" font-size="10.25" fill="#4D4D4D" stroke="#4D4D4D" stroke-width="0.25" text-anchor="end">1.50</text>
<line x1="39.60" y1="95.40" x2="43.00" y2="95.40" stroke="#222" stroke-width="1.3"/>
<text x="37.20" y="99.60" font-size="10.25" fill="#4D4D4D" stroke="#4D4D4D" stroke-width="0.25" text-anchor="end">1.25</text>
<line x1="39.60" y1="141.00" x2="43.00" y2="141.00" stroke="#222" stroke-width="1.3"/>
<text x="37.20" y="145.20" font-size="10.25" fill="#4D4D4D" stroke="#4D4D4D" stroke-width="0.25" text-anchor="end">1.00</text>
<g clip-path="url(#cTR)">
<path d="M326.0,52.9 L327.0,52.6 L328.0,52.4 L329.0,52.5 L330.0,52.7 L331.0,53.1 L332.0,53.7 L333.0,54.5 L334.0,55.4 L335.0,56.4 L336.0,57.5 L337.0,58.7 L338.0,60.0 L339.0,61.4 L340.0,62.8 L341.0,64.3 L342.0,65.7 L343.0,67.2 L344.0,68.7 L345.0,70.1 L346.0,71.6 L347.0,73.0 L348.0,74.5 L349.0,75.9 L350.0,77.3 L351.0,78.7 L352.0,80.1 L353.0,81.5 L354.0,82.9 L355.0,84.3 L356.0,85.6 L357.0,87.0 L358.0,88.3 L359.0,89.6 L360.0,90.9 L361.0,92.2 L362.0,93.5 L363.0,94.7 L364.0,95.9 L365.0,97.2 L366.0,98.4 L367.0,99.6 L368.0,100.7 L369.0,101.9 L370.0,103.0 L371.0,104.1 L372.0,105.2 L373.0,106.3 L374.0,107.3 L375.0,108.3 L376.0,109.4 L377.0,110.3 L378.0,111.3 L379.0,112.3 L380.0,113.2 L381.0,114.1 L382.0,115.0 L383.0,115.9 L384.0,116.8 L385.0,117.7 L386.0,118.5 L387.0,119.3 L388.0,120.1 L389.0,120.9 L390.0,121.7 L391.0,122.5 L392.0,123.2 L393.0,124.0 L394.0,124.7 L395.0,125.4 L396.0,126.1 L397.0,126.8 L398.0,127.5 L399.0,128.1 L400.0,128.8 L401.0,129.4 L402.0,130.1 L403.0,130.7 L404.0,131.3 L405.0,131.9 L406.0,132.5 L407.0,133.1 L408.0,133.6 L409.0,134.2 L410.0,134.8 L411.0,135.3 L412.0,135.8 L413.0,136.4 L414.0,136.9 L415.0,137.4 L416.0,137.9 L417.0,138.4 L418.0,138.9 L419.0,139.4 L420.0,139.9 L421.0,140.4 L422.0,140.9 L423.0,141.3 L424.0,141.8 L425.0,142.3 L426.0,142.7 L427.0,143.1 L428.0,143.6 L429.0,144.0 L430.0,144.4 L431.0,144.8 L432.0,145.2 L433.0,145.5 L434.0,145.9 L435.0,146.2 L436.0,146.5 L437.0,146.8 L438.0,147.0 L439.0,147.2 L440.0,147.4 L441.0,147.6 L442.0,147.8 L443.0,147.9 L444.0,148.0 L445.0,148.0 L446.0,148.1 L447.0,148.0 L448.0,148.0 L449.0,147.9 L450.0,147.7 L451.0,147.5 L452.0,147.3 L453.0,147.0 L454.0,146.7 L455.0,146.3 L456.0,145.9 L457.0,145.5 L458.0,145.1 L459.0,144.6 L460.0,144.1 L461.0,143.6 L462.0,143.1 L463.0,142.6 L464.0,142.1 L465.0,141.6 L466.0,141.0 L467.0,140.4 L468.0,139.9 L469.0,139.3 L470.0,138.7 L471.0,138.1 L472.0,137.4 L473.0,136.8 L474.0,136.2 L475.0,135.5 L476.0,134.8 L477.0,134.1 L478.0,133.4 L479.0,132.7 L480.0,132.0 L481.0,131.2 L482.0,130.4 L483.0,129.7 L484.0,128.9 L485.0,128.1 L486.0,127.2 L487.0,126.4 L488.0,125.5 L489.0,124.7 L490.0,123.8 L491.0,122.9 L492.0,122.0 L493.0,121.1 L494.0,120.1 L495.0,119.2 L496.0,118.2 L497.0,117.2 L498.0,116.2 L499.0,115.2 L500.0,114.1 L501.0,113.1 L502.0,112.0 L503.0,110.9 L504.0,109.8 L505.0,108.7 L506.0,107.5 L507.0,106.4 L508.0,105.2 L509.0,104.0 L510.0,102.8 L511.0,101.5 L512.0,100.3 L513.0,99.0 L514.0,97.8 L515.0,96.5 L516.0,95.1 L517.0,93.8 L518.0,92.5 L519.0,91.1 L520.0,89.7 L521.0,88.3 L522.0,86.9 L523.0,85.5 L524.0,84.1 L525.0,82.6 L526.0,81.2 L527.0,79.7 L528.0,78.2 L529.0,76.7 L530.0,75.2 L531.0,73.6 L532.0,72.1 L533.0,70.5 L534.0,69.0 L535.0,67.4 L536.0,65.8 L537.0,64.2 L538.0,62.6 L539.0,61.0 L540.0,59.4 L541.0,57.7 L542.0,56.1 L543.0,54.6 L544.0,53.0 L545.0,51.5 L546.0,50.0 L547.0,48.5 L548.0,47.1 L549.0,45.8 L550.0,44.5 L551.0,43.3 L552.0,42.2 L553.0,41.1 L554.0,40.2 L555.0,39.3 L556.0,38.5 L557.0,37.9 L558.0,37.3 L559.0,36.7 L560.0,36.3 L561.0,35.9 L562.0,35.5 L563.0,35.1 L564.0,34.7 L565.0,34.4 L566.0,34.0 L567.0,33.6 L568.0,33.1 L569.0,32.7 L570.0,32.1 L571.0,31.5 L572.0,30.8 L573.0,30.0 L574.0,29.2 L575.0,28.2 L575.5,27.6 L575.5,156.3 L575.0,155.3 L574.0,153.5 L573.0,151.9 L572.0,150.4 L571.0,149.1 L570.0,147.9 L569.0,146.9 L568.0,146.0 L567.0,145.2 L566.0,144.5 L565.0,144.0 L564.0,143.5 L563.0,143.2 L562.0,142.9 L561.0,142.7 L560.0,142.5 L559.0,142.4 L558.0,142.4 L557.0,142.4 L556.0,142.4 L555.0,142.4 L554.0,142.5 L553.0,142.6 L552.0,142.6 L551.0,142.7 L550.0,142.7 L549.0,142.8 L548.0,142.9 L547.0,142.9 L546.0,143.0 L545.0,143.1 L544.0,143.1 L543.0,143.2 L542.0,143.3 L541.0,143.3 L540.0,143.4 L539.0,143.5 L538.0,143.5 L537.0,143.6 L536.0,143.7 L535.0,143.7 L534.0,143.8 L533.0,143.9 L532.0,143.9 L531.0,144.0 L530.0,144.1 L529.0,144.1 L528.0,144.2 L527.0,144.3 L526.0,144.3 L525.0,144.4 L524.0,144.5 L523.0,144.6 L522.0,144.6 L521.0,144.7 L520.0,144.8 L519.0,144.8 L518.0,144.9 L517.0,145.0 L516.0,145.1 L515.0,145.1 L514.0,145.2 L513.0,145.3 L512.0,145.3 L511.0,145.4 L510.0,145.5 L509.0,145.6 L508.0,145.6 L507.0,145.7 L506.0,145.8 L505.0,145.9 L504.0,145.9 L503.0,146.0 L502.0,146.1 L501.0,146.2 L500.0,146.2 L499.0,146.3 L498.0,146.4 L497.0,146.4 L496.0,146.5 L495.0,146.6 L494.0,146.7 L493.0,146.7 L492.0,146.8 L491.0,146.9 L490.0,147.0 L489.0,147.0 L488.0,147.1 L487.0,147.2 L486.0,147.3 L485.0,147.3 L484.0,147.4 L483.0,147.5 L482.0,147.6 L481.0,147.6 L480.0,147.7 L479.0,147.8 L478.0,147.8 L477.0,147.9 L476.0,148.0 L475.0,148.1 L474.0,148.1 L473.0,148.2 L472.0,148.3 L471.0,148.4 L470.0,148.4 L469.0,148.5 L468.0,148.6 L467.0,148.6 L466.0,148.7 L465.0,148.8 L464.0,148.9 L463.0,148.9 L462.0,149.0 L461.0,149.1 L460.0,149.2 L459.0,149.2 L458.0,149.3 L457.0,149.4 L456.0,149.5 L455.0,149.5 L454.0,149.6 L453.0,149.7 L452.0,149.8 L451.0,149.8 L450.0,149.9 L449.0,150.0 L448.0,150.1 L447.0,150.1 L446.0,150.2 L445.0,150.3 L444.0,150.4 L443.0,150.5 L442.0,150.5 L441.0,150.6 L440.0,150.7 L439.0,150.8 L438.0,150.9 L437.0,151.0 L436.0,151.1 L435.0,151.1 L434.0,151.2 L433.0,151.3 L432.0,151.4 L431.0,151.5 L430.0,151.6 L429.0,151.7 L428.0,151.8 L427.0,151.9 L426.0,152.0 L425.0,152.1 L424.0,152.2 L423.0,152.3 L422.0,152.4 L421.0,152.5 L420.0,152.6 L419.0,152.8 L418.0,152.9 L417.0,153.0 L416.0,153.1 L415.0,153.2 L414.0,153.3 L413.0,153.5 L412.0,153.6 L411.0,153.7 L410.0,153.8 L409.0,154.0 L408.0,154.1 L407.0,154.2 L406.0,154.4 L405.0,154.5 L404.0,154.6 L403.0,154.8 L402.0,154.9 L401.0,155.1 L400.0,155.2 L399.0,155.4 L398.0,155.5 L397.0,155.7 L396.0,155.8 L395.0,156.0 L394.0,156.2 L393.0,156.3 L392.0,156.5 L391.0,156.7 L390.0,156.9 L389.0,157.0 L388.0,157.2 L387.0,157.4 L386.0,157.6 L385.0,157.8 L384.0,158.0 L383.0,158.1 L382.0,158.3 L381.0,158.5 L380.0,158.7 L379.0,159.0 L378.0,159.2 L377.0,159.4 L376.0,159.6 L375.0,159.8 L374.0,160.0 L373.0,160.3 L372.0,160.5 L371.0,160.7 L370.0,160.9 L369.0,161.2 L368.0,161.4 L367.0,161.7 L366.0,161.9 L365.0,162.2 L364.0,162.4 L363.0,162.7 L362.0,163.0 L361.0,163.2 L360.0,163.5 L359.0,163.8 L358.0,164.0 L357.0,164.3 L356.0,164.6 L355.0,164.9 L354.0,165.2 L353.0,165.5 L352.0,165.8 L351.0,166.1 L350.0,166.4 L349.0,166.7 L348.0,167.0 L347.0,167.4 L346.0,167.7 L345.0,168.0 L344.0,168.4 L343.0,168.7 L342.0,169.0 L341.0,169.4 L340.0,169.7 L339.0,170.1 L338.0,170.5 L337.0,170.8 L336.0,171.2 L335.0,171.6 L334.0,171.9 L333.0,172.3 L332.0,172.7 L331.0,173.1 L330.0,173.5 L329.0,173.9 L328.0,174.3 L327.0,174.7 L326.0,175.2 Z" fill="#E9E4DA"/>
<path d="M325.2,174.0 L326.2,173.7 L327.2,173.3 L328.2,172.9 L329.2,172.6 L330.2,172.2 L331.2,171.9 L332.2,171.5 L333.2,171.2 L334.2,170.8 L335.2,170.5 L336.2,170.1 L337.2,169.8 L338.2,169.5 L339.2,169.1 L340.2,168.8 L341.2,168.5 L342.2,168.2 L343.2,167.8 L344.2,167.5 L345.2,167.2 L346.2,166.9 L347.2,166.6 L348.2,166.3 L349.2,166.0 L350.2,165.7 L351.2,165.4 L352.2,165.1 L353.2,164.8 L354.2,164.5 L355.2,164.2 L356.2,163.9 L357.2,163.6 L358.2,163.4 L359.2,163.1 L360.2,162.8 L361.2,162.5 L362.2,162.3 L363.2,162.0 L364.2,161.7 L365.2,161.5 L366.2,161.2 L367.2,161.0 L368.2,160.7 L369.2,160.5 L370.2,160.2 L371.2,160.0 L372.2,159.7 L373.2,159.5 L374.2,159.3 L375.2,159.0 L376.2,158.8 L377.2,158.6 L378.2,158.4 L379.2,158.1 L380.2,157.9 L381.2,157.7 L382.2,157.5 L383.2,157.3 L384.2,157.1 L385.2,156.9 L386.2,156.6 L387.2,156.4 L388.2,156.2 L389.2,156.1 L390.2,155.9 L391.2,155.7 L392.2,155.5 L393.2,155.3 L394.2,155.1 L395.2,154.9 L396.2,154.8 L397.2,154.6 L398.2,154.4 L399.2,154.2 L400.2,154.1 L401.2,153.9 L402.2,153.7 L403.2,153.6 L404.2,153.4 L405.2,153.3 L406.2,153.1 L407.2,153.0 L408.2,152.8 L409.2,152.7 L410.2,152.5 L411.2,152.4 L412.2,152.3 L413.2,152.1 L414.2,152.0 L415.2,151.9 L416.2,151.7 L417.2,151.6 L418.2,151.5 L419.2,151.4 L420.2,151.3 L421.2,151.1 L422.2,151.0 L423.2,150.9 L424.2,150.8 L425.2,150.7 L426.2,150.6 L427.2,150.5 L428.2,150.4 L429.2,150.3 L430.2,150.2 L431.2,150.1 L432.2,150.0 L433.2,150.0 L434.2,149.9 L435.2,149.8 L436.2,149.7 L437.2,149.6 L438.2,149.6 L439.2,149.5 L440.2,149.4 L441.2,149.4 L442.2,149.3 L443.2,149.2 L444.2,149.2 L445.2,149.1 L446.2,149.1 L447.2,149.0 L448.2,149.0 L449.2,148.9 L450.2,148.9 L451.2,148.8 L452.2,148.8 L453.2,148.8 L454.2,148.7 L455.2,148.7 L456.2,148.7 L457.2,148.6 L458.2,148.6 L459.2,148.6 L460.2,148.6 L461.2,148.6 L462.2,148.5 L463.2,148.5 L464.2,148.5 L465.2,148.5 L466.2,148.5 L467.2,148.5 L468.2,148.5 L469.2,148.5 L470.2,148.5 L471.2,148.5 L472.2,148.5 L473.2,148.5 L474.2,148.5 L475.2,148.5 L476.2,148.5 L477.2,148.5 L478.2,148.5 L479.2,148.5 L480.2,148.5 L481.2,148.6 L482.2,148.6 L483.2,148.6 L484.2,148.6 L485.2,148.6 L486.2,148.7 L487.2,148.7 L488.2,148.7 L489.2,148.7 L490.2,148.8 L491.2,148.8 L492.2,148.8 L493.2,148.9 L494.2,148.9 L495.2,148.9 L496.2,149.0 L497.2,149.0 L498.2,149.1 L499.2,149.1 L500.2,149.1 L501.2,149.2 L502.2,149.2 L503.2,149.3 L504.2,149.3 L505.2,149.4 L506.2,149.4 L507.2,149.5 L508.2,149.5 L509.2,149.6 L510.2,149.6 L511.2,149.7 L512.2,149.7 L513.2,149.8 L514.2,149.8 L515.2,149.9 L516.2,149.9 L517.2,150.0 L518.2,150.0 L519.2,150.1 L520.2,150.2 L521.2,150.2 L522.2,150.3 L523.2,150.3 L524.2,150.4 L525.2,150.5 L526.2,150.5 L527.2,150.6 L528.2,150.6 L529.2,150.7 L530.2,150.8 L531.2,150.8 L532.2,150.9 L533.2,151.0 L534.2,151.0 L535.2,151.1 L536.2,151.1 L537.2,151.2 L538.2,151.3 L539.2,151.3 L540.2,151.4 L541.2,151.5 L542.2,151.5 L543.2,151.6 L544.2,151.6 L545.2,151.7 L546.2,151.7 L547.2,151.8 L548.2,151.8 L549.2,151.8 L550.2,151.8 L551.2,151.8 L552.2,151.8 L553.2,151.8 L554.2,151.8 L555.2,151.8 L556.2,151.8 L557.2,151.7 L558.2,151.6 L559.2,151.6 L560.2,151.5 L561.2,151.4 L562.2,151.3 L563.2,151.1 L564.2,151.0 L565.2,150.8 L566.2,150.6 L567.2,150.4 L568.2,150.2 L569.2,149.9 L570.2,149.7 L571.2,149.4 L572.2,149.1 L573.2,148.8 L574.2,148.4 L575.2,148.0 L575.5,147.9" fill="none" stroke="#fff" stroke-opacity="0.6" stroke-width="4.2" stroke-linejoin="round"/>
<path d="M325.0,153.5 L326.0,153.4 L327.0,153.4 L328.0,153.3 L329.0,153.2 L330.0,153.1 L331.0,153.0 L332.0,153.0 L333.0,152.9 L334.0,152.8 L335.0,152.8 L336.0,152.7 L337.0,152.6 L338.0,152.6 L339.0,152.5 L340.0,152.5 L341.0,152.4 L342.0,152.4 L343.0,152.3 L344.0,152.3 L345.0,152.2 L346.0,152.2 L347.0,152.1 L348.0,152.1 L349.0,152.1 L350.0,152.0 L351.0,152.0 L352.0,152.0 L353.0,151.9 L354.0,151.9 L355.0,151.9 L356.0,151.8 L357.0,151.8 L358.0,151.8 L359.0,151.8 L360.0,151.7 L361.0,151.7 L362.0,151.7 L363.0,151.7 L364.0,151.6 L365.0,151.6 L366.0,151.6 L367.0,151.6 L368.0,151.5 L369.0,151.5 L370.0,151.5 L371.0,151.5 L372.0,151.5 L373.0,151.5 L374.0,151.4 L375.0,151.4 L376.0,151.4 L377.0,151.4 L378.0,151.4 L379.0,151.4 L380.0,151.3 L381.0,151.3 L382.0,151.3 L383.0,151.3 L384.0,151.3 L385.0,151.3 L386.0,151.3 L387.0,151.2 L388.0,151.2 L389.0,151.2 L390.0,151.2 L391.0,151.2 L392.0,151.2 L393.0,151.1 L394.0,151.1 L395.0,151.1 L396.0,151.1 L397.0,151.1 L398.0,151.1 L399.0,151.0 L400.0,151.0 L401.0,151.0 L402.0,151.0 L403.0,151.0 L404.0,150.9 L405.0,150.9 L406.0,150.9 L407.0,150.9 L408.0,150.8 L409.0,150.8 L410.0,150.8 L411.0,150.8 L412.0,150.7 L413.0,150.7 L414.0,150.7 L415.0,150.6 L416.0,150.6 L417.0,150.6 L418.0,150.5 L419.0,150.5 L420.0,150.5 L421.0,150.4 L422.0,150.4 L423.0,150.4 L424.0,150.3 L425.0,150.3 L426.0,150.2 L427.0,150.2 L428.0,150.2 L429.0,150.1 L430.0,150.1 L431.0,150.0 L432.0,150.0 L433.0,149.9 L434.0,149.9 L435.0,149.8 L436.0,149.8 L437.0,149.7 L438.0,149.7 L439.0,149.6 L440.0,149.6 L441.0,149.5 L442.0,149.4 L443.0,149.4 L444.0,149.3 L445.0,149.2 L446.0,149.2 L447.0,149.1 L448.0,149.0 L449.0,149.0 L450.0,148.9 L451.0,148.8 L452.0,148.8 L453.0,148.7 L454.0,148.6 L455.0,148.5 L456.0,148.4 L457.0,148.4 L458.0,148.3 L459.0,148.2 L460.0,148.1 L461.0,148.0 L462.0,147.9 L463.0,147.8 L464.0,147.7 L465.0,147.6 L466.0,147.5 L467.0,147.4 L468.0,147.3 L469.0,147.2 L470.0,147.1 L471.0,147.0 L472.0,146.9 L473.0,146.8 L474.0,146.7 L475.0,146.5 L476.0,146.4 L477.0,146.3 L478.0,146.2 L479.0,146.1 L480.0,145.9 L481.0,145.8 L482.0,145.7 L483.0,145.6 L484.0,145.4 L485.0,145.3 L486.0,145.2 L487.0,145.0 L488.0,144.9 L489.0,144.8 L490.0,144.6 L491.0,144.5 L492.0,144.4 L493.0,144.2 L494.0,144.1 L495.0,143.9 L496.0,143.8 L497.0,143.7 L498.0,143.5 L499.0,143.4 L500.0,143.2 L501.0,143.1 L502.0,142.9 L503.0,142.8 L504.0,142.7 L505.0,142.5 L506.0,142.4 L507.0,142.2 L508.0,142.1 L509.0,141.9 L510.0,141.8 L511.0,141.6 L512.0,141.5 L513.0,141.3 L514.0,141.2 L515.0,141.1 L516.0,140.9 L517.0,140.8 L518.0,140.6 L519.0,140.5 L520.0,140.3 L521.0,140.2 L522.0,140.0 L523.0,139.9 L524.0,139.8 L525.0,139.6 L526.0,139.5 L527.0,139.3 L528.0,139.2 L529.0,139.1 L530.0,138.9 L531.0,138.8 L532.0,138.7 L533.0,138.5 L534.0,138.4 L535.0,138.3 L536.0,138.1 L537.0,138.0 L538.0,137.9 L539.0,137.8 L540.0,137.6 L541.0,137.5 L542.0,137.4 L543.0,137.3 L544.0,137.1 L545.0,137.0 L546.0,136.9 L547.0,136.8 L548.0,136.7 L549.0,136.6 L550.0,136.5 L551.0,136.4 L552.0,136.3 L553.0,136.2 L554.0,136.1 L555.0,136.0 L556.0,135.9 L557.0,135.8 L558.0,135.7 L559.0,135.6 L560.0,135.5 L561.0,135.4 L562.0,135.3 L563.0,135.3 L564.0,135.2 L565.0,135.1 L566.0,135.0 L567.0,135.0 L568.0,134.9 L569.0,134.9 L570.0,134.8 L571.0,134.7 L572.0,134.7 L573.0,134.6 L574.0,134.6 L575.0,134.5 L575.5,134.5" fill="none" stroke="#fff" stroke-opacity="0.6" stroke-width="4.2" stroke-linejoin="round"/>
<path d="M325.0,81.2 L326.0,81.6 L327.0,82.0 L328.0,82.5 L329.0,83.1 L330.0,83.7 L331.0,84.3 L332.0,85.1 L333.0,85.8 L334.0,86.6 L335.0,87.5 L336.0,88.3 L337.0,89.2 L338.0,90.2 L339.0,91.1 L340.0,92.1 L341.0,93.1 L342.0,94.1 L343.0,95.1 L344.0,96.2 L345.0,97.2 L346.0,98.2 L347.0,99.3 L348.0,100.3 L349.0,101.3 L350.0,102.3 L351.0,103.3 L352.0,104.3 L353.0,105.2 L354.0,106.2 L355.0,107.1 L356.0,108.0 L357.0,108.9 L358.0,109.8 L359.0,110.7 L360.0,111.5 L361.0,112.4 L362.0,113.2 L363.0,114.0 L364.0,114.8 L365.0,115.6 L366.0,116.4 L367.0,117.2 L368.0,118.0 L369.0,118.7 L370.0,119.4 L371.0,120.2 L372.0,120.9 L373.0,121.6 L374.0,122.3 L375.0,123.0 L376.0,123.7 L377.0,124.3 L378.0,125.0 L379.0,125.7 L380.0,126.3 L381.0,126.9 L382.0,127.6 L383.0,128.2 L384.0,128.8 L385.0,129.4 L386.0,130.0 L387.0,130.5 L388.0,131.1 L389.0,131.7 L390.0,132.2 L391.0,132.8 L392.0,133.3 L393.0,133.8 L394.0,134.3 L395.0,134.9 L396.0,135.4 L397.0,135.8 L398.0,136.3 L399.0,136.8 L400.0,137.3 L401.0,137.7 L402.0,138.1 L403.0,138.6 L404.0,139.0 L405.0,139.4 L406.0,139.8 L407.0,140.2 L408.0,140.6 L409.0,141.0 L410.0,141.4 L411.0,141.7 L412.0,142.1 L413.0,142.4 L414.0,142.7 L415.0,143.1 L416.0,143.4 L417.0,143.7 L418.0,144.0 L419.0,144.3 L420.0,144.5 L421.0,144.8 L422.0,145.1 L423.0,145.3 L424.0,145.5 L425.0,145.8 L426.0,146.0 L427.0,146.2 L428.0,146.4 L429.0,146.6 L430.0,146.8 L431.0,146.9 L432.0,147.1 L433.0,147.3 L434.0,147.4 L435.0,147.5 L436.0,147.7 L437.0,147.8 L438.0,147.9 L439.0,148.0 L440.0,148.1 L441.0,148.1 L442.0,148.2 L443.0,148.2 L444.0,148.3 L445.0,148.3 L446.0,148.4 L447.0,148.4 L448.0,148.4 L449.0,148.4 L450.0,148.4 L451.0,148.4 L452.0,148.3 L453.0,148.3 L454.0,148.2 L455.0,148.2 L456.0,148.1 L457.0,148.0 L458.0,147.9 L459.0,147.8 L460.0,147.7 L461.0,147.6 L462.0,147.5 L463.0,147.4 L464.0,147.2 L465.0,147.0 L466.0,146.9 L467.0,146.7 L468.0,146.5 L469.0,146.3 L470.0,146.1 L471.0,145.9 L472.0,145.7 L473.0,145.4 L474.0,145.2 L475.0,144.9 L476.0,144.7 L477.0,144.4 L478.0,144.1 L479.0,143.9 L480.0,143.6 L481.0,143.3 L482.0,143.0 L483.0,142.6 L484.0,142.3 L485.0,142.0 L486.0,141.7 L487.0,141.3 L488.0,141.0 L489.0,140.6 L490.0,140.3 L491.0,139.9 L492.0,139.6 L493.0,139.2 L494.0,138.8 L495.0,138.5 L496.0,138.1 L497.0,137.7 L498.0,137.3 L499.0,136.9 L500.0,136.5 L501.0,136.0 L502.0,135.6 L503.0,135.1 L504.0,134.6 L505.0,134.2 L506.0,133.7 L507.0,133.2 L508.0,132.6 L509.0,132.1 L510.0,131.5 L511.0,131.0 L512.0,130.4 L513.0,129.8 L514.0,129.2 L515.0,128.6 L516.0,128.0 L517.0,127.3 L518.0,126.7 L519.0,126.0 L520.0,125.3 L521.0,124.6 L522.0,123.9 L523.0,123.2 L524.0,122.5 L525.0,121.7 L526.0,121.0 L527.0,120.2 L528.0,119.4 L529.0,118.6 L530.0,117.9 L531.0,117.0 L532.0,116.2 L533.0,115.4 L534.0,114.6 L535.0,113.8 L536.0,112.9 L537.0,112.1 L538.0,111.3 L539.0,110.5 L540.0,109.7 L541.0,108.9 L542.0,108.2 L543.0,107.4 L544.0,106.7 L545.0,106.0 L546.0,105.3 L547.0,104.7 L548.0,104.1 L549.0,103.5 L550.0,102.9 L551.0,102.4 L552.0,102.0 L553.0,101.5 L554.0,101.2 L555.0,100.8 L556.0,100.6 L557.0,100.3 L558.0,100.1 L559.0,100.0 L560.0,100.0 L561.0,99.9 L562.0,100.0 L563.0,100.1 L564.0,100.3 L565.0,100.5 L566.0,100.8 L567.0,101.1 L568.0,101.6 L569.0,102.1 L570.0,102.6 L571.0,103.3 L572.0,104.0 L573.0,104.8 L574.0,105.7 L575.0,106.6 L575.5,107.1" fill="none" stroke="#fff" stroke-opacity="0.6" stroke-width="4.2" stroke-linejoin="round"/>
<path d="M325.0,112.2 L326.0,111.9 L327.0,111.8 L328.0,111.7 L329.0,111.8 L330.0,111.9 L331.0,112.1 L332.0,112.4 L333.0,112.7 L334.0,113.1 L335.0,113.6 L336.0,114.0 L337.0,114.5 L338.0,115.1 L339.0,115.6 L340.0,116.2 L341.0,116.7 L342.0,117.3 L343.0,117.9 L344.0,118.5 L345.0,119.1 L346.0,119.7 L347.0,120.3 L348.0,120.9 L349.0,121.6 L350.0,122.2 L351.0,122.8 L352.0,123.5 L353.0,124.1 L354.0,124.8 L355.0,125.4 L356.0,126.1 L357.0,126.7 L358.0,127.3 L359.0,128.0 L360.0,128.6 L361.0,129.3 L362.0,129.9 L363.0,130.5 L364.0,131.1 L365.0,131.7 L366.0,132.4 L367.0,133.0 L368.0,133.5 L369.0,134.1 L370.0,134.7 L371.0,135.2 L372.0,135.8 L373.0,136.3 L374.0,136.9 L375.0,137.4 L376.0,137.9 L377.0,138.4 L378.0,138.8 L379.0,139.3 L380.0,139.8 L381.0,140.2 L382.0,140.7 L383.0,141.1 L384.0,141.5 L385.0,141.9 L386.0,142.3 L387.0,142.7 L388.0,143.1 L389.0,143.4 L390.0,143.8 L391.0,144.1 L392.0,144.5 L393.0,144.8 L394.0,145.1 L395.0,145.4 L396.0,145.7 L397.0,146.0 L398.0,146.3 L399.0,146.6 L400.0,146.8 L401.0,147.1 L402.0,147.3 L403.0,147.5 L404.0,147.7 L405.0,148.0 L406.0,148.2 L407.0,148.3 L408.0,148.5 L409.0,148.7 L410.0,148.9 L411.0,149.0 L412.0,149.2 L413.0,149.3 L414.0,149.4 L415.0,149.5 L416.0,149.6 L417.0,149.7 L418.0,149.8 L419.0,149.9 L420.0,150.0 L421.0,150.0 L422.0,150.1 L423.0,150.2 L424.0,150.2 L425.0,150.2 L426.0,150.2 L427.0,150.3 L428.0,150.3 L429.0,150.3 L430.0,150.2 L431.0,150.2 L432.0,150.2 L433.0,150.2 L434.0,150.1 L435.0,150.1 L436.0,150.0 L437.0,149.9 L438.0,149.9 L439.0,149.8 L440.0,149.7 L441.0,149.6 L442.0,149.5 L443.0,149.4 L444.0,149.2 L445.0,149.1 L446.0,149.0 L447.0,148.8 L448.0,148.7 L449.0,148.5 L450.0,148.3 L451.0,148.2 L452.0,148.0 L453.0,147.8 L454.0,147.6 L455.0,147.4 L456.0,147.2 L457.0,147.0 L458.0,146.7 L459.0,146.5 L460.0,146.3 L461.0,146.0 L462.0,145.8 L463.0,145.5 L464.0,145.2 L465.0,145.0 L466.0,144.7 L467.0,144.4 L468.0,144.1 L469.0,143.8 L470.0,143.5 L471.0,143.2 L472.0,142.8 L473.0,142.5 L474.0,142.2 L475.0,141.8 L476.0,141.5 L477.0,141.1 L478.0,140.7 L479.0,140.4 L480.0,140.0 L481.0,139.6 L482.0,139.2 L483.0,138.8 L484.0,138.4 L485.0,137.9 L486.0,137.5 L487.0,137.1 L488.0,136.6 L489.0,136.2 L490.0,135.7 L491.0,135.2 L492.0,134.8 L493.0,134.3 L494.0,133.8 L495.0,133.3 L496.0,132.8 L497.0,132.3 L498.0,131.7 L499.0,131.2 L500.0,130.6 L501.0,130.1 L502.0,129.5 L503.0,129.0 L504.0,128.4 L505.0,127.8 L506.0,127.2 L507.0,126.6 L508.0,126.0 L509.0,125.4 L510.0,124.7 L511.0,124.1 L512.0,123.4 L513.0,122.8 L514.0,122.1 L515.0,121.4 L516.0,120.7 L517.0,120.0 L518.0,119.3 L519.0,118.6 L520.0,117.9 L521.0,117.2 L522.0,116.4 L523.0,115.7 L524.0,114.9 L525.0,114.1 L526.0,113.4 L527.0,112.6 L528.0,111.8 L529.0,111.0 L530.0,110.2 L531.0,109.3 L532.0,108.5 L533.0,107.6 L534.0,106.8 L535.0,105.9 L536.0,105.0 L537.0,104.2 L538.0,103.3 L539.0,102.4 L540.0,101.5 L541.0,100.6 L542.0,99.7 L543.0,98.9 L544.0,98.0 L545.0,97.2 L546.0,96.4 L547.0,95.6 L548.0,94.8 L549.0,94.1 L550.0,93.4 L551.0,92.8 L552.0,92.2 L553.0,91.6 L554.0,91.1 L555.0,90.6 L556.0,90.2 L557.0,89.9 L558.0,89.6 L559.0,89.4 L560.0,89.3 L561.0,89.2 L562.0,89.1 L563.0,89.2 L564.0,89.2 L565.0,89.4 L566.0,89.5 L567.0,89.7 L568.0,90.0 L569.0,90.2 L570.0,90.5 L571.0,90.9 L572.0,91.2 L573.0,91.6 L574.0,92.0 L575.0,92.4 L575.5,92.6" fill="none" stroke="#fff" stroke-opacity="0.6" stroke-width="4.2" stroke-linejoin="round"/>
<line x1="325.0" y1="148.80" x2="575.5" y2="148.80" stroke="#000" stroke-width="1.4" stroke-dasharray="5.2 4.7"/>
<path d="M325.0,153.5 L326.0,153.4 L327.0,153.4 L328.0,153.3 L329.0,153.2 L330.0,153.1 L331.0,153.0 L332.0,153.0 L333.0,152.9 L334.0,152.8 L335.0,152.8 L336.0,152.7 L337.0,152.6 L338.0,152.6 L339.0,152.5 L340.0,152.5 L341.0,152.4 L342.0,152.4 L343.0,152.3 L344.0,152.3 L345.0,152.2 L346.0,152.2 L347.0,152.1 L348.0,152.1 L349.0,152.1 L350.0,152.0 L351.0,152.0 L352.0,152.0 L353.0,151.9 L354.0,151.9 L355.0,151.9 L356.0,151.8 L357.0,151.8 L358.0,151.8 L359.0,151.8 L360.0,151.7 L361.0,151.7 L362.0,151.7 L363.0,151.7 L364.0,151.6 L365.0,151.6 L366.0,151.6 L367.0,151.6 L368.0,151.5 L369.0,151.5 L370.0,151.5 L371.0,151.5 L372.0,151.5 L373.0,151.5 L374.0,151.4 L375.0,151.4 L376.0,151.4 L377.0,151.4 L378.0,151.4 L379.0,151.4 L380.0,151.3 L381.0,151.3 L382.0,151.3 L383.0,151.3 L384.0,151.3 L385.0,151.3 L386.0,151.3 L387.0,151.2 L388.0,151.2 L389.0,151.2 L390.0,151.2 L391.0,151.2 L392.0,151.2 L393.0,151.1 L394.0,151.1 L395.0,151.1 L396.0,151.1 L397.0,151.1 L398.0,151.1 L399.0,151.0 L400.0,151.0 L401.0,151.0 L402.0,151.0 L403.0,151.0 L404.0,150.9 L405.0,150.9 L406.0,150.9 L407.0,150.9 L408.0,150.8 L409.0,150.8 L410.0,150.8 L411.0,150.8 L412.0,150.7 L413.0,150.7 L414.0,150.7 L415.0,150.6 L416.0,150.6 L417.0,150.6 L418.0,150.5 L419.0,150.5 L420.0,150.5 L421.0,150.4 L422.0,150.4 L423.0,150.4 L424.0,150.3 L425.0,150.3 L426.0,150.2 L427.0,150.2 L428.0,150.2 L429.0,150.1 L430.0,150.1 L431.0,150.0 L432.0,150.0 L433.0,149.9 L434.0,149.9 L435.0,149.8 L436.0,149.8 L437.0,149.7 L438.0,149.7 L439.0,149.6 L440.0,149.6 L441.0,149.5 L442.0,149.4 L443.0,149.4 L444.0,149.3 L445.0,149.2 L446.0,149.2 L447.0,149.1 L448.0,149.0 L449.0,149.0 L450.0,148.9 L451.0,148.8 L452.0,148.8 L453.0,148.7 L454.0,148.6 L455.0,148.5 L456.0,148.4 L457.0,148.4 L458.0,148.3 L459.0,148.2 L460.0,148.1 L461.0,148.0 L462.0,147.9 L463.0,147.8 L464.0,147.7 L465.0,147.6 L466.0,147.5 L467.0,147.4 L468.0,147.3 L469.0,147.2 L470.0,147.1 L471.0,147.0 L472.0,146.9 L473.0,146.8 L474.0,146.7 L475.0,146.5 L476.0,146.4 L477.0,146.3 L478.0,146.2 L479.0,146.1 L480.0,145.9 L481.0,145.8 L482.0,145.7 L483.0,145.6 L484.0,145.4 L485.0,145.3 L486.0,145.2 L487.0,145.0 L488.0,144.9 L489.0,144.8 L490.0,144.6 L491.0,144.5 L492.0,144.4 L493.0,144.2 L494.0,144.1 L495.0,143.9 L496.0,143.8 L497.0,143.7 L498.0,143.5 L499.0,143.4 L500.0,143.2 L501.0,143.1 L502.0,142.9 L503.0,142.8 L504.0,142.7 L505.0,142.5 L506.0,142.4 L507.0,142.2 L508.0,142.1 L509.0,141.9 L510.0,141.8 L511.0,141.6 L512.0,141.5 L513.0,141.3 L514.0,141.2 L515.0,141.1 L516.0,140.9 L517.0,140.8 L518.0,140.6 L519.0,140.5 L520.0,140.3 L521.0,140.2 L522.0,140.0 L523.0,139.9 L524.0,139.8 L525.0,139.6 L526.0,139.5 L527.0,139.3 L528.0,139.2 L529.0,139.1 L530.0,138.9 L531.0,138.8 L532.0,138.7 L533.0,138.5 L534.0,138.4 L535.0,138.3 L536.0,138.1 L537.0,138.0 L538.0,137.9 L539.0,137.8 L540.0,137.6 L541.0,137.5 L542.0,137.4 L543.0,137.3 L544.0,137.1 L545.0,137.0 L546.0,136.9 L547.0,136.8 L548.0,136.7 L549.0,136.6 L550.0,136.5 L551.0,136.4 L552.0,136.3 L553.0,136.2 L554.0,136.1 L555.0,136.0 L556.0,135.9 L557.0,135.8 L558.0,135.7 L559.0,135.6 L560.0,135.5 L561.0,135.4 L562.0,135.3 L563.0,135.3 L564.0,135.2 L565.0,135.1 L566.0,135.0 L567.0,135.0 L568.0,134.9 L569.0,134.9 L570.0,134.8 L571.0,134.7 L572.0,134.7 L573.0,134.6 L574.0,134.6 L575.0,134.5 L575.5,134.5" fill="none" stroke="#1E72A8" stroke-width="1.45" stroke-linejoin="round"/>
<path d="M325.2,174.0 L326.2,173.7 L327.2,173.3 L328.2,172.9 L329.2,172.6 L330.2,172.2 L331.2,171.9 L332.2,171.5 L333.2,171.2 L334.2,170.8 L335.2,170.5 L336.2,170.1 L337.2,169.8 L338.2,169.5 L339.2,169.1 L340.2,168.8 L341.2,168.5 L342.2,168.2 L343.2,167.8 L344.2,167.5 L345.2,167.2 L346.2,166.9 L347.2,166.6 L348.2,166.3 L349.2,166.0 L350.2,165.7 L351.2,165.4 L352.2,165.1 L353.2,164.8 L354.2,164.5 L355.2,164.2 L356.2,163.9 L357.2,163.6 L358.2,163.4 L359.2,163.1 L360.2,162.8 L361.2,162.5 L362.2,162.3 L363.2,162.0 L364.2,161.7 L365.2,161.5 L366.2,161.2 L367.2,161.0 L368.2,160.7 L369.2,160.5 L370.2,160.2 L371.2,160.0 L372.2,159.7 L373.2,159.5 L374.2,159.3 L375.2,159.0 L376.2,158.8 L377.2,158.6 L378.2,158.4 L379.2,158.1 L380.2,157.9 L381.2,157.7 L382.2,157.5 L383.2,157.3 L384.2,157.1 L385.2,156.9 L386.2,156.6 L387.2,156.4 L388.2,156.2 L389.2,156.1 L390.2,155.9 L391.2,155.7 L392.2,155.5 L393.2,155.3 L394.2,155.1 L395.2,154.9 L396.2,154.8 L397.2,154.6 L398.2,154.4 L399.2,154.2 L400.2,154.1 L401.2,153.9 L402.2,153.7 L403.2,153.6 L404.2,153.4 L405.2,153.3 L406.2,153.1 L407.2,153.0 L408.2,152.8 L409.2,152.7 L410.2,152.5 L411.2,152.4 L412.2,152.3 L413.2,152.1 L414.2,152.0 L415.2,151.9 L416.2,151.7 L417.2,151.6 L418.2,151.5 L419.2,151.4 L420.2,151.3 L421.2,151.1 L422.2,151.0 L423.2,150.9 L424.2,150.8 L425.2,150.7 L426.2,150.6 L427.2,150.5 L428.2,150.4 L429.2,150.3 L430.2,150.2 L431.2,150.1 L432.2,150.0 L433.2,150.0 L434.2,149.9 L435.2,149.8 L436.2,149.7 L437.2,149.6 L438.2,149.6 L439.2,149.5 L440.2,149.4 L441.2,149.4 L442.2,149.3 L443.2,149.2 L444.2,149.2 L445.2,149.1 L446.2,149.1 L447.2,149.0 L448.2,149.0 L449.2,148.9 L450.2,148.9 L451.2,148.8 L452.2,148.8 L453.2,148.8 L454.2,148.7 L455.2,148.7 L456.2,148.7 L457.2,148.6 L458.2,148.6 L459.2,148.6 L460.2,148.6 L461.2,148.6 L462.2,148.5 L463.2,148.5 L464.2,148.5 L465.2,148.5 L466.2,148.5 L467.2,148.5 L468.2,148.5 L469.2,148.5 L470.2,148.5 L471.2,148.5 L472.2,148.5 L473.2,148.5 L474.2,148.5 L475.2,148.5 L476.2,148.5 L477.2,148.5 L478.2,148.5 L479.2,148.5 L480.2,148.5 L481.2,148.6 L482.2,148.6 L483.2,148.6 L484.2,148.6 L485.2,148.6 L486.2,148.7 L487.2,148.7 L488.2,148.7 L489.2,148.7 L490.2,148.8 L491.2,148.8 L492.2,148.8 L493.2,148.9 L494.2,148.9 L495.2,148.9 L496.2,149.0 L497.2,149.0 L498.2,149.1 L499.2,149.1 L500.2,149.1 L501.2,149.2 L502.2,149.2 L503.2,149.3 L504.2,149.3 L505.2,149.4 L506.2,149.4 L507.2,149.5 L508.2,149.5 L509.2,149.6 L510.2,149.6 L511.2,149.7 L512.2,149.7 L513.2,149.8 L514.2,149.8 L515.2,149.9 L516.2,149.9 L517.2,150.0 L518.2,150.0 L519.2,150.1 L520.2,150.2 L521.2,150.2 L522.2,150.3 L523.2,150.3 L524.2,150.4 L525.2,150.5 L526.2,150.5 L527.2,150.6 L528.2,150.6 L529.2,150.7 L530.2,150.8 L531.2,150.8 L532.2,150.9 L533.2,151.0 L534.2,151.0 L535.2,151.1 L536.2,151.1 L537.2,151.2 L538.2,151.3 L539.2,151.3 L540.2,151.4 L541.2,151.5 L542.2,151.5 L543.2,151.6 L544.2,151.6 L545.2,151.7 L546.2,151.7 L547.2,151.8 L548.2,151.8 L549.2,151.8 L550.2,151.8 L551.2,151.8 L552.2,151.8 L553.2,151.8 L554.2,151.8 L555.2,151.8 L556.2,151.8 L557.2,151.7 L558.2,151.6 L559.2,151.6 L560.2,151.5 L561.2,151.4 L562.2,151.3 L563.2,151.1 L564.2,151.0 L565.2,150.8 L566.2,150.6 L567.2,150.4 L568.2,150.2 L569.2,149.9 L570.2,149.7 L571.2,149.4 L572.2,149.1 L573.2,148.8 L574.2,148.4 L575.2,148.0 L575.5,147.9" fill="none" stroke="#EC0A1E" stroke-width="1.45" stroke-linejoin="round"/>
<path d="M325.0,81.2 L326.0,81.6 L327.0,82.0 L328.0,82.5 L329.0,83.1 L330.0,83.7 L331.0,84.3 L332.0,85.1 L333.0,85.8 L334.0,86.6 L335.0,87.5 L336.0,88.3 L337.0,89.2 L338.0,90.2 L339.0,91.1 L340.0,92.1 L341.0,93.1 L342.0,94.1 L343.0,95.1 L344.0,96.2 L345.0,97.2 L346.0,98.2 L347.0,99.3 L348.0,100.3 L349.0,101.3 L350.0,102.3 L351.0,103.3 L352.0,104.3 L353.0,105.2 L354.0,106.2 L355.0,107.1 L356.0,108.0 L357.0,108.9 L358.0,109.8 L359.0,110.7 L360.0,111.5 L361.0,112.4 L362.0,113.2 L363.0,114.0 L364.0,114.8 L365.0,115.6 L366.0,116.4 L367.0,117.2 L368.0,118.0 L369.0,118.7 L370.0,119.4 L371.0,120.2 L372.0,120.9 L373.0,121.6 L374.0,122.3 L375.0,123.0 L376.0,123.7 L377.0,124.3 L378.0,125.0 L379.0,125.7 L380.0,126.3 L381.0,126.9 L382.0,127.6 L383.0,128.2 L384.0,128.8 L385.0,129.4 L386.0,130.0 L387.0,130.5 L388.0,131.1 L389.0,131.7 L390.0,132.2 L391.0,132.8 L392.0,133.3 L393.0,133.8 L394.0,134.3 L395.0,134.9 L396.0,135.4 L397.0,135.8 L398.0,136.3 L399.0,136.8 L400.0,137.3 L401.0,137.7 L402.0,138.1 L403.0,138.6 L404.0,139.0 L405.0,139.4 L406.0,139.8 L407.0,140.2 L408.0,140.6 L409.0,141.0 L410.0,141.4 L411.0,141.7 L412.0,142.1 L413.0,142.4 L414.0,142.7 L415.0,143.1 L416.0,143.4 L417.0,143.7 L418.0,144.0 L419.0,144.3 L420.0,144.5 L421.0,144.8 L422.0,145.1 L423.0,145.3 L424.0,145.5 L425.0,145.8 L426.0,146.0 L427.0,146.2 L428.0,146.4 L429.0,146.6 L430.0,146.8 L431.0,146.9 L432.0,147.1 L433.0,147.3 L434.0,147.4 L435.0,147.5 L436.0,147.7 L437.0,147.8 L438.0,147.9 L439.0,148.0 L440.0,148.1 L441.0,148.1 L442.0,148.2 L443.0,148.2 L444.0,148.3 L445.0,148.3 L446.0,148.4 L447.0,148.4 L448.0,148.4 L449.0,148.4 L450.0,148.4 L451.0,148.4 L452.0,148.3 L453.0,148.3 L454.0,148.2 L455.0,148.2 L456.0,148.1 L457.0,148.0 L458.0,147.9 L459.0,147.8 L460.0,147.7 L461.0,147.6 L462.0,147.5 L463.0,147.4 L464.0,147.2 L465.0,147.0 L466.0,146.9 L467.0,146.7 L468.0,146.5 L469.0,146.3 L470.0,146.1 L471.0,145.9 L472.0,145.7 L473.0,145.4 L474.0,145.2 L475.0,144.9 L476.0,144.7 L477.0,144.4 L478.0,144.1 L479.0,143.9 L480.0,143.6 L481.0,143.3 L482.0,143.0 L483.0,142.6 L484.0,142.3 L485.0,142.0 L486.0,141.7 L487.0,141.3 L488.0,141.0 L489.0,140.6 L490.0,140.3 L491.0,139.9 L492.0,139.6 L493.0,139.2 L494.0,138.8 L495.0,138.5 L496.0,138.1 L497.0,137.7 L498.0,137.3 L499.0,136.9 L500.0,136.5 L501.0,136.0 L502.0,135.6 L503.0,135.1 L504.0,134.6 L505.0,134.2 L506.0,133.7 L507.0,133.2 L508.0,132.6 L509.0,132.1 L510.0,131.5 L511.0,131.0 L512.0,130.4 L513.0,129.8 L514.0,129.2 L515.0,128.6 L516.0,128.0 L517.0,127.3 L518.0,126.7 L519.0,126.0 L520.0,125.3 L521.0,124.6 L522.0,123.9 L523.0,123.2 L524.0,122.5 L525.0,121.7 L526.0,121.0 L527.0,120.2 L528.0,119.4 L529.0,118.6 L530.0,117.9 L531.0,117.0 L532.0,116.2 L533.0,115.4 L534.0,114.6 L535.0,113.8 L536.0,112.9 L537.0,112.1 L538.0,111.3 L539.0,110.5 L540.0,109.7 L541.0,108.9 L542.0,108.2 L543.0,107.4 L544.0,106.7 L545.0,106.0 L546.0,105.3 L547.0,104.7 L548.0,104.1 L549.0,103.5 L550.0,102.9 L551.0,102.4 L552.0,102.0 L553.0,101.5 L554.0,101.2 L555.0,100.8 L556.0,100.6 L557.0,100.3 L558.0,100.1 L559.0,100.0 L560.0,100.0 L561.0,99.9 L562.0,100.0 L563.0,100.1 L564.0,100.3 L565.0,100.5 L566.0,100.8 L567.0,101.1 L568.0,101.6 L569.0,102.1 L570.0,102.6 L571.0,103.3 L572.0,104.0 L573.0,104.8 L574.0,105.7 L575.0,106.6 L575.5,107.1" fill="none" stroke="#1FA22E" stroke-width="1.45" stroke-linejoin="round"/>
<path d="M325.0,112.2 L326.0,111.9 L327.0,111.8 L328.0,111.7 L329.0,111.8 L330.0,111.9 L331.0,112.1 L332.0,112.4 L333.0,112.7 L334.0,113.1 L335.0,113.6 L336.0,114.0 L337.0,114.5 L338.0,115.1 L339.0,115.6 L340.0,116.2 L341.0,116.7 L342.0,117.3 L343.0,117.9 L344.0,118.5 L345.0,119.1 L346.0,119.7 L347.0,120.3 L348.0,120.9 L349.0,121.6 L350.0,122.2 L351.0,122.8 L352.0,123.5 L353.0,124.1 L354.0,124.8 L355.0,125.4 L356.0,126.1 L357.0,126.7 L358.0,127.3 L359.0,128.0 L360.0,128.6 L361.0,129.3 L362.0,129.9 L363.0,130.5 L364.0,131.1 L365.0,131.7 L366.0,132.4 L367.0,133.0 L368.0,133.5 L369.0,134.1 L370.0,134.7 L371.0,135.2 L372.0,135.8 L373.0,136.3 L374.0,136.9 L375.0,137.4 L376.0,137.9 L377.0,138.4 L378.0,138.8 L379.0,139.3 L380.0,139.8 L381.0,140.2 L382.0,140.7 L383.0,141.1 L384.0,141.5 L385.0,141.9 L386.0,142.3 L387.0,142.7 L388.0,143.1 L389.0,143.4 L390.0,143.8 L391.0,144.1 L392.0,144.5 L393.0,144.8 L394.0,145.1 L395.0,145.4 L396.0,145.7 L397.0,146.0 L398.0,146.3 L399.0,146.6 L400.0,146.8 L401.0,147.1 L402.0,147.3 L403.0,147.5 L404.0,147.7 L405.0,148.0 L406.0,148.2 L407.0,148.3 L408.0,148.5 L409.0,148.7 L410.0,148.9 L411.0,149.0 L412.0,149.2 L413.0,149.3 L414.0,149.4 L415.0,149.5 L416.0,149.6 L417.0,149.7 L418.0,149.8 L419.0,149.9 L420.0,150.0 L421.0,150.0 L422.0,150.1 L423.0,150.2 L424.0,150.2 L425.0,150.2 L426.0,150.2 L427.0,150.3 L428.0,150.3 L429.0,150.3 L430.0,150.2 L431.0,150.2 L432.0,150.2 L433.0,150.2 L434.0,150.1 L435.0,150.1 L436.0,150.0 L437.0,149.9 L438.0,149.9 L439.0,149.8 L440.0,149.7 L441.0,149.6 L442.0,149.5 L443.0,149.4 L444.0,149.2 L445.0,149.1 L446.0,149.0 L447.0,148.8 L448.0,148.7 L449.0,148.5 L450.0,148.3 L451.0,148.2 L452.0,148.0 L453.0,147.8 L454.0,147.6 L455.0,147.4 L456.0,147.2 L457.0,147.0 L458.0,146.7 L459.0,146.5 L460.0,146.3 L461.0,146.0 L462.0,145.8 L463.0,145.5 L464.0,145.2 L465.0,145.0 L466.0,144.7 L467.0,144.4 L468.0,144.1 L469.0,143.8 L470.0,143.5 L471.0,143.2 L472.0,142.8 L473.0,142.5 L474.0,142.2 L475.0,141.8 L476.0,141.5 L477.0,141.1 L478.0,140.7 L479.0,140.4 L480.0,140.0 L481.0,139.6 L482.0,139.2 L483.0,138.8 L484.0,138.4 L485.0,137.9 L486.0,137.5 L487.0,137.1 L488.0,136.6 L489.0,136.2 L490.0,135.7 L491.0,135.2 L492.0,134.8 L493.0,134.3 L494.0,133.8 L495.0,133.3 L496.0,132.8 L497.0,132.3 L498.0,131.7 L499.0,131.2 L500.0,130.6 L501.0,130.1 L502.0,129.5 L503.0,129.0 L504.0,128.4 L505.0,127.8 L506.0,127.2 L507.0,126.6 L508.0,126.0 L509.0,125.4 L510.0,124.7 L511.0,124.1 L512.0,123.4 L513.0,122.8 L514.0,122.1 L515.0,121.4 L516.0,120.7 L517.0,120.0 L518.0,119.3 L519.0,118.6 L520.0,117.9 L521.0,117.2 L522.0,116.4 L523.0,115.7 L524.0,114.9 L525.0,114.1 L526.0,113.4 L527.0,112.6 L528.0,111.8 L529.0,111.0 L530.0,110.2 L531.0,109.3 L532.0,108.5 L533.0,107.6 L534.0,106.8 L535.0,105.9 L536.0,105.0 L537.0,104.2 L538.0,103.3 L539.0,102.4 L540.0,101.5 L541.0,100.6 L542.0,99.7 L543.0,98.9 L544.0,98.0 L545.0,97.2 L546.0,96.4 L547.0,95.6 L548.0,94.8 L549.0,94.1 L550.0,93.4 L551.0,92.8 L552.0,92.2 L553.0,91.6 L554.0,91.1 L555.0,90.6 L556.0,90.2 L557.0,89.9 L558.0,89.6 L559.0,89.4 L560.0,89.3 L561.0,89.2 L562.0,89.1 L563.0,89.2 L564.0,89.2 L565.0,89.4 L566.0,89.5 L567.0,89.7 L568.0,90.0 L569.0,90.2 L570.0,90.5 L571.0,90.9 L572.0,91.2 L573.0,91.6 L574.0,92.0 L575.0,92.4 L575.5,92.6" fill="none" stroke="#000000" stroke-width="1.45" stroke-linejoin="round"/>
</g>
<line x1="325.00" y1="20.4" x2="325.00" y2="181.8" stroke="#000" stroke-width="1.8"/>
<line x1="321.60" y1="50.60" x2="325.00" y2="50.60" stroke="#222" stroke-width="1.3"/>
<text x="319.20" y="54.80" font-size="10.25" fill="#4D4D4D" stroke="#4D4D4D" stroke-width="0.25" text-anchor="end">4.00</text>
<line x1="321.60" y1="99.70" x2="325.00" y2="99.70" stroke="#222" stroke-width="1.3"/>
<text x="319.20" y="103.90" font-size="10.25" fill="#4D4D4D" stroke="#4D4D4D" stroke-width="0.25" text-anchor="end">2.00</text>
<line x1="321.60" y1="120.00" x2="325.00" y2="120.00" stroke="#222" stroke-width="1.3"/>
<text x="319.20" y="124.20" font-size="10.25" fill="#4D4D4D" stroke="#4D4D4D" stroke-width="0.25" text-anchor="end">1.50</text>
<line x1="321.60" y1="132.75" x2="325.00" y2="132.75" stroke="#222" stroke-width="1.3"/>
<text x="319.20" y="136.95" font-size="10.25" fill="#4D4D4D" stroke="#4D4D4D" stroke-width="0.25" text-anchor="end">1.25</text>
<line x1="321.60" y1="148.70" x2="325.00" y2="148.70" stroke="#222" stroke-width="1.3"/>
<text x="319.20" y="152.90" font-size="10.25" fill="#4D4D4D" stroke="#4D4D4D" stroke-width="0.25" text-anchor="end">1.00</text>
<g clip-path="url(#cBL)">
<path d="M44.6,218.1 L45.6,217.8 L46.6,217.8 L47.6,218.1 L48.6,218.7 L49.6,219.4 L50.6,220.4 L51.6,221.6 L52.6,223.0 L53.6,224.4 L54.6,226.1 L55.6,227.8 L56.6,229.6 L57.6,231.5 L58.6,233.4 L59.6,235.3 L60.6,237.3 L61.6,239.2 L62.6,241.1 L63.6,243.0 L64.6,244.9 L65.6,246.8 L66.6,248.7 L67.6,250.5 L68.6,252.3 L69.6,254.2 L70.6,256.0 L71.6,257.7 L72.6,259.5 L73.6,261.2 L74.6,262.9 L75.6,264.6 L76.6,266.2 L77.6,267.9 L78.6,269.5 L79.6,271.0 L80.6,272.6 L81.6,274.1 L82.6,275.5 L83.6,277.0 L84.6,278.4 L85.6,279.7 L86.6,281.1 L87.6,282.4 L88.6,283.6 L89.6,284.8 L90.6,286.0 L91.6,287.2 L92.6,288.3 L93.6,289.4 L94.6,290.5 L95.6,291.6 L96.6,292.7 L97.6,293.7 L98.6,294.8 L99.6,295.8 L100.6,296.8 L101.6,297.9 L102.6,298.9 L103.6,299.9 L104.6,300.9 L105.6,301.9 L106.6,303.0 L107.6,304.0 L108.6,305.1 L109.6,306.1 L110.6,307.2 L111.6,308.2 L112.6,309.2 L113.6,310.3 L114.6,311.3 L115.6,312.3 L116.6,313.2 L117.6,314.2 L118.6,315.1 L119.6,316.0 L120.6,316.8 L121.6,317.7 L122.6,318.5 L123.6,319.2 L124.6,319.9 L125.6,320.6 L126.6,321.2 L127.6,321.8 L128.6,322.3 L129.6,322.8 L130.6,323.3 L131.6,323.8 L132.6,324.3 L133.6,324.7 L134.6,325.2 L135.6,325.7 L136.6,326.1 L137.6,326.6 L138.6,327.1 L139.6,327.7 L140.6,328.2 L141.6,328.8 L142.6,329.4 L143.6,330.1 L144.6,330.7 L145.6,331.4 L146.6,332.0 L147.6,332.7 L148.6,333.4 L149.6,334.0 L150.6,334.7 L151.6,335.3 L152.6,336.0 L153.6,336.6 L154.6,337.1 L155.6,337.7 L156.6,338.2 L157.6,338.7 L158.6,339.1 L159.6,339.5 L160.6,339.8 L161.6,340.1 L162.6,340.3 L163.6,340.5 L164.6,340.6 L165.6,340.7 L166.6,340.8 L167.6,340.8 L168.6,340.7 L169.6,340.6 L170.6,340.5 L171.6,340.4 L172.6,340.2 L173.6,339.9 L174.6,339.7 L175.6,339.4 L176.6,339.0 L177.6,338.7 L178.6,338.3 L179.6,337.9 L180.6,337.4 L181.6,337.0 L182.6,336.5 L183.6,336.0 L184.6,335.4 L185.6,334.9 L186.6,334.3 L187.6,333.7 L188.6,333.1 L189.6,332.5 L190.6,331.9 L191.6,331.2 L192.6,330.6 L193.6,329.9 L194.6,329.2 L195.6,328.5 L196.6,327.8 L197.6,327.1 L198.6,326.3 L199.6,325.6 L200.6,324.8 L201.6,324.0 L202.6,323.2 L203.6,322.4 L204.6,321.6 L205.6,320.7 L206.6,319.9 L207.6,319.0 L208.6,318.1 L209.6,317.1 L210.6,316.2 L211.6,315.2 L212.6,314.3 L213.6,313.3 L214.6,312.3 L215.6,311.2 L216.6,310.2 L217.6,309.1 L218.6,308.0 L219.6,306.9 L220.6,305.8 L221.6,304.7 L222.6,303.5 L223.6,302.3 L224.6,301.1 L225.6,299.9 L226.6,298.7 L227.6,297.5 L228.6,296.2 L229.6,294.9 L230.6,293.6 L231.6,292.3 L232.6,291.0 L233.6,289.6 L234.6,288.3 L235.6,286.9 L236.6,285.5 L237.6,284.1 L238.6,282.6 L239.6,281.2 L240.6,279.7 L241.6,278.2 L242.6,276.7 L243.6,275.2 L244.6,273.7 L245.6,272.2 L246.6,270.6 L247.6,269.0 L248.6,267.5 L249.6,265.9 L250.6,264.3 L251.6,262.7 L252.6,261.1 L253.6,259.4 L254.6,257.8 L255.6,256.2 L256.6,254.6 L257.6,253.0 L258.6,251.4 L259.6,249.8 L260.6,248.2 L261.6,246.6 L262.6,245.0 L263.6,243.4 L264.6,241.9 L265.6,240.4 L266.6,239.0 L267.6,237.6 L268.6,236.3 L269.6,235.1 L270.6,234.0 L271.6,233.0 L272.6,232.0 L273.6,231.2 L274.6,230.4 L275.6,229.7 L276.6,229.1 L277.6,228.5 L278.6,227.9 L279.6,227.4 L280.6,226.8 L281.6,226.3 L282.6,225.7 L283.6,225.2 L284.6,224.6 L285.6,223.9 L286.6,223.2 L287.6,222.4 L288.6,221.6 L289.6,220.7 L290.6,219.6 L291.6,218.5 L292.6,217.3 L293.0,216.7 L293.0,358.8 L292.6,358.2 L291.6,356.1 L290.6,353.4 L289.6,350.6 L288.6,347.8 L287.6,345.3 L286.6,343.2 L285.6,341.7 L284.6,340.5 L283.6,339.6 L282.6,338.9 L281.6,338.4 L280.6,338.1 L279.6,337.8 L278.6,337.5 L277.6,337.3 L276.6,337.1 L275.6,336.9 L274.6,336.7 L273.6,336.5 L272.6,336.4 L271.6,336.2 L270.6,336.1 L269.6,336.0 L268.6,336.0 L267.6,335.9 L266.6,335.9 L265.6,335.8 L264.6,335.8 L263.6,335.8 L262.6,335.9 L261.6,335.9 L260.6,335.9 L259.6,336.0 L258.6,336.1 L257.6,336.2 L256.6,336.3 L255.6,336.4 L254.6,336.5 L253.6,336.6 L252.6,336.7 L251.6,336.9 L250.6,337.0 L249.6,337.2 L248.6,337.4 L247.6,337.5 L246.6,337.7 L245.6,337.9 L244.6,338.1 L243.6,338.3 L242.6,338.5 L241.6,338.7 L240.6,338.9 L239.6,339.1 L238.6,339.3 L237.6,339.5 L236.6,339.8 L235.6,340.0 L234.6,340.2 L233.6,340.4 L232.6,340.6 L231.6,340.8 L230.6,341.0 L229.6,341.3 L228.6,341.5 L227.6,341.7 L226.6,341.9 L225.6,342.1 L224.6,342.3 L223.6,342.4 L222.6,342.6 L221.6,342.8 L220.6,343.0 L219.6,343.2 L218.6,343.3 L217.6,343.5 L216.6,343.6 L215.6,343.8 L214.6,343.9 L213.6,344.1 L212.6,344.2 L211.6,344.3 L210.6,344.4 L209.6,344.5 L208.6,344.6 L207.6,344.7 L206.6,344.8 L205.6,344.9 L204.6,345.0 L203.6,345.1 L202.6,345.1 L201.6,345.2 L200.6,345.2 L199.6,345.3 L198.6,345.3 L197.6,345.3 L196.6,345.3 L195.6,345.3 L194.6,345.3 L193.6,345.3 L192.6,345.3 L191.6,345.3 L190.6,345.2 L189.6,345.2 L188.6,345.1 L187.6,345.1 L186.6,345.0 L185.6,344.9 L184.6,344.8 L183.6,344.7 L182.6,344.6 L181.6,344.5 L180.6,344.3 L179.6,344.2 L178.6,344.1 L177.6,343.9 L176.6,343.8 L175.6,343.6 L174.6,343.5 L173.6,343.3 L172.6,343.2 L171.6,343.0 L170.6,342.9 L169.6,342.8 L168.6,342.6 L167.6,342.5 L166.6,342.4 L165.6,342.3 L164.6,342.2 L163.6,342.0 L162.6,342.0 L161.6,341.9 L160.6,341.8 L159.6,341.7 L158.6,341.6 L157.6,341.6 L156.6,341.5 L155.6,341.4 L154.6,341.4 L153.6,341.3 L152.6,341.3 L151.6,341.2 L150.6,341.2 L149.6,341.2 L148.6,341.1 L147.6,341.1 L146.6,341.1 L145.6,341.1 L144.6,341.1 L143.6,341.1 L142.6,341.1 L141.6,341.1 L140.6,341.1 L139.6,341.1 L138.6,341.1 L137.6,341.1 L136.6,341.1 L135.6,341.1 L134.6,341.1 L133.6,341.1 L132.6,341.2 L131.6,341.2 L130.6,341.2 L129.6,341.2 L128.6,341.3 L127.6,341.3 L126.6,341.3 L125.6,341.4 L124.6,341.4 L123.6,341.4 L122.6,341.5 L121.6,341.5 L120.6,341.5 L119.6,341.6 L118.6,341.6 L117.6,341.7 L116.6,341.7 L115.6,341.7 L114.6,341.8 L113.6,341.8 L112.6,341.8 L111.6,341.9 L110.6,341.9 L109.6,341.9 L108.6,342.0 L107.6,342.0 L106.6,342.0 L105.6,342.0 L104.6,342.0 L103.6,342.1 L102.6,342.1 L101.6,342.1 L100.6,342.1 L99.6,342.1 L98.6,342.1 L97.6,342.1 L96.6,342.1 L95.6,342.0 L94.6,342.0 L93.6,342.0 L92.6,342.0 L91.6,341.9 L90.6,341.9 L89.6,341.8 L88.6,341.8 L87.6,341.7 L86.6,341.7 L85.6,341.6 L84.6,341.5 L83.6,341.4 L82.6,341.3 L81.6,341.2 L80.6,341.1 L79.6,341.0 L78.6,340.9 L77.6,340.7 L76.6,340.6 L75.6,340.4 L74.6,340.3 L73.6,340.1 L72.6,339.9 L71.6,339.7 L70.6,339.5 L69.6,339.3 L68.6,339.1 L67.6,338.8 L66.6,338.6 L65.6,338.4 L64.6,338.1 L63.6,337.9 L62.6,337.7 L61.6,337.4 L60.6,337.2 L59.6,337.0 L58.6,336.8 L57.6,336.6 L56.6,336.4 L55.6,336.2 L54.6,336.1 L53.6,335.9 L52.6,335.8 L51.6,335.7 L50.6,335.7 L49.6,335.7 L48.6,335.7 L47.6,335.7 L46.6,335.8 L45.6,335.9 L44.6,336.0 Z" fill="#E9E4DA"/>
<path d="M43.0,361.6 L44.0,361.4 L45.0,361.2 L46.0,360.9 L47.0,360.7 L48.0,360.5 L49.0,360.3 L50.0,360.1 L51.0,359.9 L52.0,359.7 L53.0,359.5 L54.0,359.3 L55.0,359.2 L56.0,359.0 L57.0,358.8 L58.0,358.6 L59.0,358.4 L60.0,358.2 L61.0,358.0 L62.0,357.9 L63.0,357.7 L64.0,357.5 L65.0,357.3 L66.0,357.2 L67.0,357.0 L68.0,356.8 L69.0,356.7 L70.0,356.5 L71.0,356.3 L72.0,356.2 L73.0,356.0 L74.0,355.8 L75.0,355.7 L76.0,355.5 L77.0,355.4 L78.0,355.2 L79.0,355.0 L80.0,354.9 L81.0,354.7 L82.0,354.6 L83.0,354.4 L84.0,354.3 L85.0,354.1 L86.0,354.0 L87.0,353.8 L88.0,353.7 L89.0,353.6 L90.0,353.4 L91.0,353.3 L92.0,353.1 L93.0,353.0 L94.0,352.8 L95.0,352.7 L96.0,352.6 L97.0,352.4 L98.0,352.3 L99.0,352.1 L100.0,352.0 L101.0,351.9 L102.0,351.7 L103.0,351.6 L104.0,351.4 L105.0,351.3 L106.0,351.2 L107.0,351.0 L108.0,350.9 L109.0,350.8 L110.0,350.6 L111.0,350.5 L112.0,350.4 L113.0,350.2 L114.0,350.1 L115.0,350.0 L116.0,349.8 L117.0,349.7 L118.0,349.6 L119.0,349.4 L120.0,349.3 L121.0,349.1 L122.0,349.0 L123.0,348.9 L124.0,348.7 L125.0,348.6 L126.0,348.5 L127.0,348.3 L128.0,348.2 L129.0,348.1 L130.0,347.9 L131.0,347.8 L132.0,347.6 L133.0,347.5 L134.0,347.4 L135.0,347.2 L136.0,347.1 L137.0,346.9 L138.0,346.8 L139.0,346.7 L140.0,346.5 L141.0,346.4 L142.0,346.2 L143.0,346.1 L144.0,345.9 L145.0,345.8 L146.0,345.6 L147.0,345.5 L148.0,345.3 L149.0,345.2 L150.0,345.0 L151.0,344.9 L152.0,344.7 L153.0,344.6 L154.0,344.4 L155.0,344.2 L156.0,344.1 L157.0,343.9 L158.0,343.8 L159.0,343.6 L160.0,343.4 L161.0,343.3 L162.0,343.1 L163.0,342.9 L164.0,342.8 L165.0,342.6 L166.0,342.4 L167.0,342.2 L168.0,342.1 L169.0,341.9 L170.0,341.7 L171.0,341.5 L172.0,341.3 L173.0,341.2 L174.0,341.0 L175.0,340.8 L176.0,340.6 L177.0,340.4 L178.0,340.3 L179.0,340.1 L180.0,339.9 L181.0,339.7 L182.0,339.5 L183.0,339.3 L184.0,339.1 L185.0,339.0 L186.0,338.8 L187.0,338.6 L188.0,338.4 L189.0,338.2 L190.0,338.0 L191.0,337.8 L192.0,337.6 L193.0,337.5 L194.0,337.3 L195.0,337.1 L196.0,336.9 L197.0,336.7 L198.0,336.5 L199.0,336.3 L200.0,336.2 L201.0,336.0 L202.0,335.8 L203.0,335.6 L204.0,335.4 L205.0,335.2 L206.0,335.1 L207.0,334.9 L208.0,334.7 L209.0,334.5 L210.0,334.3 L211.0,334.2 L212.0,334.0 L213.0,333.8 L214.0,333.6 L215.0,333.4 L216.0,333.3 L217.0,333.1 L218.0,332.9 L219.0,332.8 L220.0,332.6 L221.0,332.4 L222.0,332.3 L223.0,332.1 L224.0,331.9 L225.0,331.8 L226.0,331.6 L227.0,331.5 L228.0,331.3 L229.0,331.2 L230.0,331.0 L231.0,330.8 L232.0,330.7 L233.0,330.6 L234.0,330.4 L235.0,330.3 L236.0,330.1 L237.0,330.0 L238.0,329.9 L239.0,329.7 L240.0,329.6 L241.0,329.5 L242.0,329.3 L243.0,329.2 L244.0,329.1 L245.0,329.0 L246.0,328.8 L247.0,328.7 L248.0,328.6 L249.0,328.5 L250.0,328.4 L251.0,328.3 L252.0,328.2 L253.0,328.1 L254.0,328.0 L255.0,327.9 L256.0,327.8 L257.0,327.7 L258.0,327.6 L259.0,327.6 L260.0,327.5 L261.0,327.4 L262.0,327.3 L263.0,327.3 L264.0,327.2 L265.0,327.1 L266.0,327.1 L267.0,327.0 L268.0,327.0 L269.0,326.9 L270.0,326.9 L271.0,326.8 L272.0,326.8 L273.0,326.8 L274.0,326.7 L275.0,326.7 L276.0,326.7 L277.0,326.7 L278.0,326.7 L279.0,326.7 L280.0,326.7 L281.0,326.7 L282.0,326.7 L283.0,326.7 L284.0,326.7 L285.0,326.7 L286.0,326.7 L287.0,326.7 L288.0,326.8 L289.0,326.8 L290.0,326.8 L291.0,326.9 L292.0,326.9 L293.0,327.0" fill="none" stroke="#fff" stroke-opacity="0.6" stroke-width="4.2" stroke-linejoin="round"/>
<path d="M43.0,340.5 L44.0,340.5 L45.0,340.4 L46.0,340.4 L47.0,340.3 L48.0,340.3 L49.0,340.3 L50.0,340.3 L51.0,340.3 L52.0,340.3 L53.0,340.3 L54.0,340.4 L55.0,340.4 L56.0,340.4 L57.0,340.5 L58.0,340.5 L59.0,340.6 L60.0,340.7 L61.0,340.7 L62.0,340.8 L63.0,340.9 L64.0,341.0 L65.0,341.1 L66.0,341.2 L67.0,341.2 L68.0,341.3 L69.0,341.4 L70.0,341.5 L71.0,341.6 L72.0,341.7 L73.0,341.8 L74.0,341.9 L75.0,342.0 L76.0,342.1 L77.0,342.2 L78.0,342.3 L79.0,342.4 L80.0,342.5 L81.0,342.6 L82.0,342.7 L83.0,342.8 L84.0,342.9 L85.0,343.0 L86.0,343.1 L87.0,343.2 L88.0,343.2 L89.0,343.3 L90.0,343.4 L91.0,343.5 L92.0,343.5 L93.0,343.6 L94.0,343.7 L95.0,343.7 L96.0,343.8 L97.0,343.8 L98.0,343.9 L99.0,344.0 L100.0,344.0 L101.0,344.1 L102.0,344.1 L103.0,344.1 L104.0,344.2 L105.0,344.2 L106.0,344.3 L107.0,344.3 L108.0,344.3 L109.0,344.4 L110.0,344.4 L111.0,344.4 L112.0,344.4 L113.0,344.5 L114.0,344.5 L115.0,344.5 L116.0,344.5 L117.0,344.5 L118.0,344.5 L119.0,344.5 L120.0,344.6 L121.0,344.6 L122.0,344.6 L123.0,344.6 L124.0,344.6 L125.0,344.5 L126.0,344.5 L127.0,344.5 L128.0,344.5 L129.0,344.5 L130.0,344.5 L131.0,344.5 L132.0,344.4 L133.0,344.4 L134.0,344.4 L135.0,344.4 L136.0,344.3 L137.0,344.3 L138.0,344.3 L139.0,344.2 L140.0,344.2 L141.0,344.1 L142.0,344.1 L143.0,344.0 L144.0,344.0 L145.0,343.9 L146.0,343.9 L147.0,343.8 L148.0,343.8 L149.0,343.7 L150.0,343.6 L151.0,343.6 L152.0,343.5 L153.0,343.4 L154.0,343.3 L155.0,343.3 L156.0,343.2 L157.0,343.1 L158.0,343.0 L159.0,342.9 L160.0,342.8 L161.0,342.8 L162.0,342.7 L163.0,342.6 L164.0,342.5 L165.0,342.4 L166.0,342.3 L167.0,342.1 L168.0,342.0 L169.0,341.9 L170.0,341.8 L171.0,341.7 L172.0,341.6 L173.0,341.5 L174.0,341.3 L175.0,341.2 L176.0,341.1 L177.0,341.0 L178.0,340.8 L179.0,340.7 L180.0,340.6 L181.0,340.4 L182.0,340.3 L183.0,340.1 L184.0,340.0 L185.0,339.8 L186.0,339.7 L187.0,339.5 L188.0,339.4 L189.0,339.2 L190.0,339.0 L191.0,338.9 L192.0,338.7 L193.0,338.5 L194.0,338.4 L195.0,338.2 L196.0,338.0 L197.0,337.8 L198.0,337.7 L199.0,337.5 L200.0,337.3 L201.0,337.1 L202.0,336.9 L203.0,336.7 L204.0,336.5 L205.0,336.3 L206.0,336.1 L207.0,335.9 L208.0,335.7 L209.0,335.5 L210.0,335.3 L211.0,335.1 L212.0,334.9 L213.0,334.7 L214.0,334.4 L215.0,334.2 L216.0,334.0 L217.0,333.8 L218.0,333.5 L219.0,333.3 L220.0,333.1 L221.0,332.8 L222.0,332.6 L223.0,332.3 L224.0,332.1 L225.0,331.9 L226.0,331.6 L227.0,331.4 L228.0,331.1 L229.0,330.9 L230.0,330.6 L231.0,330.4 L232.0,330.1 L233.0,329.9 L234.0,329.6 L235.0,329.3 L236.0,329.1 L237.0,328.8 L238.0,328.6 L239.0,328.3 L240.0,328.1 L241.0,327.9 L242.0,327.6 L243.0,327.4 L244.0,327.1 L245.0,326.9 L246.0,326.6 L247.0,326.4 L248.0,326.2 L249.0,326.0 L250.0,325.7 L251.0,325.5 L252.0,325.3 L253.0,325.1 L254.0,324.9 L255.0,324.6 L256.0,324.4 L257.0,324.2 L258.0,324.0 L259.0,323.9 L260.0,323.7 L261.0,323.5 L262.0,323.3 L263.0,323.1 L264.0,323.0 L265.0,322.8 L266.0,322.7 L267.0,322.5 L268.0,322.4 L269.0,322.2 L270.0,322.1 L271.0,322.0 L272.0,321.9 L273.0,321.8 L274.0,321.7 L275.0,321.6 L276.0,321.5 L277.0,321.4 L278.0,321.4 L279.0,321.3 L280.0,321.3 L281.0,321.2 L282.0,321.2 L283.0,321.2 L284.0,321.2 L285.0,321.2 L286.0,321.2 L287.0,321.2 L288.0,321.2 L289.0,321.3 L290.0,321.3 L291.0,321.4 L292.0,321.4 L293.0,321.5" fill="none" stroke="#fff" stroke-opacity="0.6" stroke-width="4.2" stroke-linejoin="round"/>
<path d="M43.0,259.1 L44.0,259.4 L45.0,259.7 L46.0,260.2 L47.0,260.7 L48.0,261.3 L49.0,262.0 L50.0,262.7 L51.0,263.6 L52.0,264.4 L53.0,265.4 L54.0,266.3 L55.0,267.3 L56.0,268.4 L57.0,269.4 L58.0,270.5 L59.0,271.6 L60.0,272.7 L61.0,273.7 L62.0,274.8 L63.0,275.9 L64.0,276.9 L65.0,278.0 L66.0,279.0 L67.0,280.1 L68.0,281.1 L69.0,282.1 L70.0,283.2 L71.0,284.2 L72.0,285.2 L73.0,286.2 L74.0,287.2 L75.0,288.2 L76.0,289.2 L77.0,290.1 L78.0,291.1 L79.0,292.1 L80.0,293.0 L81.0,294.0 L82.0,294.9 L83.0,295.8 L84.0,296.7 L85.0,297.6 L86.0,298.5 L87.0,299.4 L88.0,300.3 L89.0,301.1 L90.0,302.0 L91.0,302.8 L92.0,303.7 L93.0,304.5 L94.0,305.3 L95.0,306.1 L96.0,306.9 L97.0,307.7 L98.0,308.5 L99.0,309.3 L100.0,310.0 L101.0,310.8 L102.0,311.5 L103.0,312.2 L104.0,313.0 L105.0,313.7 L106.0,314.4 L107.0,315.1 L108.0,315.8 L109.0,316.5 L110.0,317.1 L111.0,317.8 L112.0,318.4 L113.0,319.1 L114.0,319.7 L115.0,320.3 L116.0,321.0 L117.0,321.6 L118.0,322.2 L119.0,322.8 L120.0,323.3 L121.0,323.9 L122.0,324.5 L123.0,325.0 L124.0,325.6 L125.0,326.1 L126.0,326.7 L127.0,327.2 L128.0,327.7 L129.0,328.2 L130.0,328.7 L131.0,329.2 L132.0,329.7 L133.0,330.1 L134.0,330.6 L135.0,331.1 L136.0,331.5 L137.0,332.0 L138.0,332.4 L139.0,332.8 L140.0,333.2 L141.0,333.6 L142.0,334.0 L143.0,334.4 L144.0,334.8 L145.0,335.2 L146.0,335.6 L147.0,335.9 L148.0,336.3 L149.0,336.6 L150.0,337.0 L151.0,337.3 L152.0,337.6 L153.0,337.9 L154.0,338.3 L155.0,338.6 L156.0,338.9 L157.0,339.1 L158.0,339.4 L159.0,339.7 L160.0,340.0 L161.0,340.2 L162.0,340.5 L163.0,340.7 L164.0,341.0 L165.0,341.2 L166.0,341.4 L167.0,341.6 L168.0,341.8 L169.0,342.0 L170.0,342.2 L171.0,342.4 L172.0,342.6 L173.0,342.8 L174.0,342.9 L175.0,343.1 L176.0,343.2 L177.0,343.4 L178.0,343.5 L179.0,343.6 L180.0,343.7 L181.0,343.8 L182.0,343.9 L183.0,344.0 L184.0,344.1 L185.0,344.2 L186.0,344.3 L187.0,344.3 L188.0,344.4 L189.0,344.4 L190.0,344.5 L191.0,344.5 L192.0,344.5 L193.0,344.5 L194.0,344.5 L195.0,344.5 L196.0,344.5 L197.0,344.5 L198.0,344.5 L199.0,344.4 L200.0,344.4 L201.0,344.3 L202.0,344.3 L203.0,344.2 L204.0,344.1 L205.0,344.0 L206.0,344.0 L207.0,343.9 L208.0,343.7 L209.0,343.6 L210.0,343.5 L211.0,343.4 L212.0,343.2 L213.0,343.1 L214.0,342.9 L215.0,342.7 L216.0,342.5 L217.0,342.3 L218.0,342.2 L219.0,341.9 L220.0,341.7 L221.0,341.5 L222.0,341.3 L223.0,341.0 L224.0,340.8 L225.0,340.5 L226.0,340.2 L227.0,340.0 L228.0,339.7 L229.0,339.4 L230.0,339.1 L231.0,338.8 L232.0,338.4 L233.0,338.1 L234.0,337.8 L235.0,337.4 L236.0,337.0 L237.0,336.7 L238.0,336.3 L239.0,335.9 L240.0,335.5 L241.0,335.1 L242.0,334.7 L243.0,334.3 L244.0,333.8 L245.0,333.4 L246.0,332.9 L247.0,332.4 L248.0,332.0 L249.0,331.5 L250.0,331.0 L251.0,330.5 L252.0,330.0 L253.0,329.5 L254.0,329.0 L255.0,328.5 L256.0,328.0 L257.0,327.5 L258.0,327.0 L259.0,326.5 L260.0,326.0 L261.0,325.5 L262.0,325.1 L263.0,324.6 L264.0,324.2 L265.0,323.7 L266.0,323.3 L267.0,322.9 L268.0,322.5 L269.0,322.1 L270.0,321.8 L271.0,321.4 L272.0,321.1 L273.0,320.8 L274.0,320.6 L275.0,320.3 L276.0,320.1 L277.0,319.9 L278.0,319.7 L279.0,319.6 L280.0,319.5 L281.0,319.4 L282.0,319.4 L283.0,319.4 L284.0,319.4 L285.0,319.5 L286.0,319.6 L287.0,319.8 L288.0,320.0 L289.0,320.2 L290.0,320.5 L291.0,320.8 L292.0,321.2 L293.0,321.6" fill="none" stroke="#fff" stroke-opacity="0.6" stroke-width="4.2" stroke-linejoin="round"/>
<path d="M43.0,277.0 L44.0,277.0 L45.0,277.1 L46.0,277.3 L47.0,277.6 L48.0,278.0 L49.0,278.5 L50.0,279.0 L51.0,279.6 L52.0,280.3 L53.0,281.0 L54.0,281.8 L55.0,282.6 L56.0,283.5 L57.0,284.4 L58.0,285.3 L59.0,286.2 L60.0,287.1 L61.0,288.0 L62.0,289.0 L63.0,289.9 L64.0,290.8 L65.0,291.7 L66.0,292.7 L67.0,293.6 L68.0,294.5 L69.0,295.5 L70.0,296.4 L71.0,297.3 L72.0,298.2 L73.0,299.1 L74.0,300.1 L75.0,301.0 L76.0,301.9 L77.0,302.8 L78.0,303.7 L79.0,304.6 L80.0,305.5 L81.0,306.3 L82.0,307.2 L83.0,308.1 L84.0,308.9 L85.0,309.8 L86.0,310.6 L87.0,311.5 L88.0,312.3 L89.0,313.1 L90.0,313.9 L91.0,314.7 L92.0,315.5 L93.0,316.3 L94.0,317.0 L95.0,317.8 L96.0,318.5 L97.0,319.2 L98.0,320.0 L99.0,320.7 L100.0,321.4 L101.0,322.0 L102.0,322.7 L103.0,323.3 L104.0,324.0 L105.0,324.6 L106.0,325.2 L107.0,325.8 L108.0,326.4 L109.0,327.0 L110.0,327.6 L111.0,328.1 L112.0,328.7 L113.0,329.2 L114.0,329.7 L115.0,330.2 L116.0,330.7 L117.0,331.2 L118.0,331.6 L119.0,332.1 L120.0,332.6 L121.0,333.0 L122.0,333.4 L123.0,333.8 L124.0,334.2 L125.0,334.6 L126.0,335.0 L127.0,335.4 L128.0,335.7 L129.0,336.0 L130.0,336.4 L131.0,336.7 L132.0,337.0 L133.0,337.3 L134.0,337.6 L135.0,337.9 L136.0,338.1 L137.0,338.4 L138.0,338.6 L139.0,338.9 L140.0,339.1 L141.0,339.3 L142.0,339.5 L143.0,339.7 L144.0,339.9 L145.0,340.0 L146.0,340.2 L147.0,340.3 L148.0,340.5 L149.0,340.6 L150.0,340.7 L151.0,340.8 L152.0,340.9 L153.0,341.0 L154.0,341.1 L155.0,341.1 L156.0,341.2 L157.0,341.2 L158.0,341.3 L159.0,341.3 L160.0,341.3 L161.0,341.3 L162.0,341.3 L163.0,341.3 L164.0,341.3 L165.0,341.2 L166.0,341.2 L167.0,341.1 L168.0,341.1 L169.0,341.0 L170.0,340.9 L171.0,340.8 L172.0,340.7 L173.0,340.6 L174.0,340.5 L175.0,340.4 L176.0,340.2 L177.0,340.1 L178.0,339.9 L179.0,339.8 L180.0,339.6 L181.0,339.4 L182.0,339.2 L183.0,339.0 L184.0,338.8 L185.0,338.6 L186.0,338.3 L187.0,338.1 L188.0,337.8 L189.0,337.6 L190.0,337.3 L191.0,337.0 L192.0,336.7 L193.0,336.4 L194.0,336.1 L195.0,335.7 L196.0,335.4 L197.0,335.1 L198.0,334.7 L199.0,334.3 L200.0,334.0 L201.0,333.6 L202.0,333.2 L203.0,332.8 L204.0,332.4 L205.0,331.9 L206.0,331.5 L207.0,331.0 L208.0,330.6 L209.0,330.1 L210.0,329.6 L211.0,329.2 L212.0,328.7 L213.0,328.1 L214.0,327.6 L215.0,327.1 L216.0,326.6 L217.0,326.0 L218.0,325.4 L219.0,324.9 L220.0,324.3 L221.0,323.7 L222.0,323.1 L223.0,322.5 L224.0,321.8 L225.0,321.2 L226.0,320.6 L227.0,319.9 L228.0,319.2 L229.0,318.5 L230.0,317.9 L231.0,317.2 L232.0,316.4 L233.0,315.7 L234.0,315.0 L235.0,314.2 L236.0,313.5 L237.0,312.7 L238.0,311.9 L239.0,311.1 L240.0,310.3 L241.0,309.5 L242.0,308.7 L243.0,307.9 L244.0,307.0 L245.0,306.2 L246.0,305.3 L247.0,304.4 L248.0,303.5 L249.0,302.6 L250.0,301.7 L251.0,300.8 L252.0,299.9 L253.0,299.0 L254.0,298.1 L255.0,297.2 L256.0,296.3 L257.0,295.4 L258.0,294.6 L259.0,293.7 L260.0,292.9 L261.0,292.1 L262.0,291.3 L263.0,290.5 L264.0,289.7 L265.0,289.0 L266.0,288.3 L267.0,287.6 L268.0,287.0 L269.0,286.4 L270.0,285.9 L271.0,285.4 L272.0,284.9 L273.0,284.5 L274.0,284.1 L275.0,283.7 L276.0,283.5 L277.0,283.2 L278.0,283.1 L279.0,283.0 L280.0,282.9 L281.0,282.9 L282.0,283.0 L283.0,283.2 L284.0,283.4 L285.0,283.7 L286.0,284.0 L287.0,284.5 L288.0,285.0 L289.0,285.6 L290.0,286.2 L291.0,287.0 L292.0,287.9 L293.0,288.8" fill="none" stroke="#fff" stroke-opacity="0.6" stroke-width="4.2" stroke-linejoin="round"/>
<line x1="43.0" y1="342.00" x2="293.0" y2="342.00" stroke="#000" stroke-width="1.4" stroke-dasharray="5.2 4.7"/>
<path d="M43.0,340.5 L44.0,340.5 L45.0,340.4 L46.0,340.4 L47.0,340.3 L48.0,340.3 L49.0,340.3 L50.0,340.3 L51.0,340.3 L52.0,340.3 L53.0,340.3 L54.0,340.4 L55.0,340.4 L56.0,340.4 L57.0,340.5 L58.0,340.5 L59.0,340.6 L60.0,340.7 L61.0,340.7 L62.0,340.8 L63.0,340.9 L64.0,341.0 L65.0,341.1 L66.0,341.2 L67.0,341.2 L68.0,341.3 L69.0,341.4 L70.0,341.5 L71.0,341.6 L72.0,341.7 L73.0,341.8 L74.0,341.9 L75.0,342.0 L76.0,342.1 L77.0,342.2 L78.0,342.3 L79.0,342.4 L80.0,342.5 L81.0,342.6 L82.0,342.7 L83.0,342.8 L84.0,342.9 L85.0,343.0 L86.0,343.1 L87.0,343.2 L88.0,343.2 L89.0,343.3 L90.0,343.4 L91.0,343.5 L92.0,343.5 L93.0,343.6 L94.0,343.7 L95.0,343.7 L96.0,343.8 L97.0,343.8 L98.0,343.9 L99.0,344.0 L100.0,344.0 L101.0,344.1 L102.0,344.1 L103.0,344.1 L104.0,344.2 L105.0,344.2 L106.0,344.3 L107.0,344.3 L108.0,344.3 L109.0,344.4 L110.0,344.4 L111.0,344.4 L112.0,344.4 L113.0,344.5 L114.0,344.5 L115.0,344.5 L116.0,344.5 L117.0,344.5 L118.0,344.5 L119.0,344.5 L120.0,344.6 L121.0,344.6 L122.0,344.6 L123.0,344.6 L124.0,344.6 L125.0,344.5 L126.0,344.5 L127.0,344.5 L128.0,344.5 L129.0,344.5 L130.0,344.5 L131.0,344.5 L132.0,344.4 L133.0,344.4 L134.0,344.4 L135.0,344.4 L136.0,344.3 L137.0,344.3 L138.0,344.3 L139.0,344.2 L140.0,344.2 L141.0,344.1 L142.0,344.1 L143.0,344.0 L144.0,344.0 L145.0,343.9 L146.0,343.9 L147.0,343.8 L148.0,343.8 L149.0,343.7 L150.0,343.6 L151.0,343.6 L152.0,343.5 L153.0,343.4 L154.0,343.3 L155.0,343.3 L156.0,343.2 L157.0,343.1 L158.0,343.0 L159.0,342.9 L160.0,342.8 L161.0,342.8 L162.0,342.7 L163.0,342.6 L164.0,342.5 L165.0,342.4 L166.0,342.3 L167.0,342.1 L168.0,342.0 L169.0,341.9 L170.0,341.8 L171.0,341.7 L172.0,341.6 L173.0,341.5 L174.0,341.3 L175.0,341.2 L176.0,341.1 L177.0,341.0 L178.0,340.8 L179.0,340.7 L180.0,340.6 L181.0,340.4 L182.0,340.3 L183.0,340.1 L184.0,340.0 L185.0,339.8 L186.0,339.7 L187.0,339.5 L188.0,339.4 L189.0,339.2 L190.0,339.0 L191.0,338.9 L192.0,338.7 L193.0,338.5 L194.0,338.4 L195.0,338.2 L196.0,338.0 L197.0,337.8 L198.0,337.7 L199.0,337.5 L200.0,337.3 L201.0,337.1 L202.0,336.9 L203.0,336.7 L204.0,336.5 L205.0,336.3 L206.0,336.1 L207.0,335.9 L208.0,335.7 L209.0,335.5 L210.0,335.3 L211.0,335.1 L212.0,334.9 L213.0,334.7 L214.0,334.4 L215.0,334.2 L216.0,334.0 L217.0,333.8 L218.0,333.5 L219.0,333.3 L220.0,333.1 L221.0,332.8 L222.0,332.6 L223.0,332.3 L224.0,332.1 L225.0,331.9 L226.0,331.6 L227.0,331.4 L228.0,331.1 L229.0,330.9 L230.0,330.6 L231.0,330.4 L232.0,330.1 L233.0,329.9 L234.0,329.6 L235.0,329.3 L236.0,329.1 L237.0,328.8 L238.0,328.6 L239.0,328.3 L240.0,328.1 L241.0,327.9 L242.0,327.6 L243.0,327.4 L244.0,327.1 L245.0,326.9 L246.0,326.6 L247.0,326.4 L248.0,326.2 L249.0,326.0 L250.0,325.7 L251.0,325.5 L252.0,325.3 L253.0,325.1 L254.0,324.9 L255.0,324.6 L256.0,324.4 L257.0,324.2 L258.0,324.0 L259.0,323.9 L260.0,323.7 L261.0,323.5 L262.0,323.3 L263.0,323.1 L264.0,323.0 L265.0,322.8 L266.0,322.7 L267.0,322.5 L268.0,322.4 L269.0,322.2 L270.0,322.1 L271.0,322.0 L272.0,321.9 L273.0,321.8 L274.0,321.7 L275.0,321.6 L276.0,321.5 L277.0,321.4 L278.0,321.4 L279.0,321.3 L280.0,321.3 L281.0,321.2 L282.0,321.2 L283.0,321.2 L284.0,321.2 L285.0,321.2 L286.0,321.2 L287.0,321.2 L288.0,321.2 L289.0,321.3 L290.0,321.3 L291.0,321.4 L292.0,321.4 L293.0,321.5" fill="none" stroke="#1E72A8" stroke-width="1.45" stroke-linejoin="round"/>
<path d="M43.0,361.6 L44.0,361.4 L45.0,361.2 L46.0,360.9 L47.0,360.7 L48.0,360.5 L49.0,360.3 L50.0,360.1 L51.0,359.9 L52.0,359.7 L53.0,359.5 L54.0,359.3 L55.0,359.2 L56.0,359.0 L57.0,358.8 L58.0,358.6 L59.0,358.4 L60.0,358.2 L61.0,358.0 L62.0,357.9 L63.0,357.7 L64.0,357.5 L65.0,357.3 L66.0,357.2 L67.0,357.0 L68.0,356.8 L69.0,356.7 L70.0,356.5 L71.0,356.3 L72.0,356.2 L73.0,356.0 L74.0,355.8 L75.0,355.7 L76.0,355.5 L77.0,355.4 L78.0,355.2 L79.0,355.0 L80.0,354.9 L81.0,354.7 L82.0,354.6 L83.0,354.4 L84.0,354.3 L85.0,354.1 L86.0,354.0 L87.0,353.8 L88.0,353.7 L89.0,353.6 L90.0,353.4 L91.0,353.3 L92.0,353.1 L93.0,353.0 L94.0,352.8 L95.0,352.7 L96.0,352.6 L97.0,352.4 L98.0,352.3 L99.0,352.1 L100.0,352.0 L101.0,351.9 L102.0,351.7 L103.0,351.6 L104.0,351.4 L105.0,351.3 L106.0,351.2 L107.0,351.0 L108.0,350.9 L109.0,350.8 L110.0,350.6 L111.0,350.5 L112.0,350.4 L113.0,350.2 L114.0,350.1 L115.0,350.0 L116.0,349.8 L117.0,349.7 L118.0,349.6 L119.0,349.4 L120.0,349.3 L121.0,349.1 L122.0,349.0 L123.0,348.9 L124.0,348.7 L125.0,348.6 L126.0,348.5 L127.0,348.3 L128.0,348.2 L129.0,348.1 L130.0,347.9 L131.0,347.8 L132.0,347.6 L133.0,347.5 L134.0,347.4 L135.0,347.2 L136.0,347.1 L137.0,346.9 L138.0,346.8 L139.0,346.7 L140.0,346.5 L141.0,346.4 L142.0,346.2 L143.0,346.1 L144.0,345.9 L145.0,345.8 L146.0,345.6 L147.0,345.5 L148.0,345.3 L149.0,345.2 L150.0,345.0 L151.0,344.9 L152.0,344.7 L153.0,344.6 L154.0,344.4 L155.0,344.2 L156.0,344.1 L157.0,343.9 L158.0,343.8 L159.0,343.6 L160.0,343.4 L161.0,343.3 L162.0,343.1 L163.0,342.9 L164.0,342.8 L165.0,342.6 L166.0,342.4 L167.0,342.2 L168.0,342.1 L169.0,341.9 L170.0,341.7 L171.0,341.5 L172.0,341.3 L173.0,341.2 L174.0,341.0 L175.0,340.8 L176.0,340.6 L177.0,340.4 L178.0,340.3 L179.0,340.1 L180.0,339.9 L181.0,339.7 L182.0,339.5 L183.0,339.3 L184.0,339.1 L185.0,339.0 L186.0,338.8 L187.0,338.6 L188.0,338.4 L189.0,338.2 L190.0,338.0 L191.0,337.8 L192.0,337.6 L193.0,337.5 L194.0,337.3 L195.0,337.1 L196.0,336.9 L197.0,336.7 L198.0,336.5 L199.0,336.3 L200.0,336.2 L201.0,336.0 L202.0,335.8 L203.0,335.6 L204.0,335.4 L205.0,335.2 L206.0,335.1 L207.0,334.9 L208.0,334.7 L209.0,334.5 L210.0,334.3 L211.0,334.2 L212.0,334.0 L213.0,333.8 L214.0,333.6 L215.0,333.4 L216.0,333.3 L217.0,333.1 L218.0,332.9 L219.0,332.8 L220.0,332.6 L221.0,332.4 L222.0,332.3 L223.0,332.1 L224.0,331.9 L225.0,331.8 L226.0,331.6 L227.0,331.5 L228.0,331.3 L229.0,331.2 L230.0,331.0 L231.0,330.8 L232.0,330.7 L233.0,330.6 L234.0,330.4 L235.0,330.3 L236.0,330.1 L237.0,330.0 L238.0,329.9 L239.0,329.7 L240.0,329.6 L241.0,329.5 L242.0,329.3 L243.0,329.2 L244.0,329.1 L245.0,329.0 L246.0,328.8 L247.0,328.7 L248.0,328.6 L249.0,328.5 L250.0,328.4 L251.0,328.3 L252.0,328.2 L253.0,328.1 L254.0,328.0 L255.0,327.9 L256.0,327.8 L257.0,327.7 L258.0,327.6 L259.0,327.6 L260.0,327.5 L261.0,327.4 L262.0,327.3 L263.0,327.3 L264.0,327.2 L265.0,327.1 L266.0,327.1 L267.0,327.0 L268.0,327.0 L269.0,326.9 L270.0,326.9 L271.0,326.8 L272.0,326.8 L273.0,326.8 L274.0,326.7 L275.0,326.7 L276.0,326.7 L277.0,326.7 L278.0,326.7 L279.0,326.7 L280.0,326.7 L281.0,326.7 L282.0,326.7 L283.0,326.7 L284.0,326.7 L285.0,326.7 L286.0,326.7 L287.0,326.7 L288.0,326.8 L289.0,326.8 L290.0,326.8 L291.0,326.9 L292.0,326.9 L293.0,327.0" fill="none" stroke="#EC0A1E" stroke-width="1.45" stroke-linejoin="round"/>
<path d="M43.0,259.1 L44.0,259.4 L45.0,259.7 L46.0,260.2 L47.0,260.7 L48.0,261.3 L49.0,262.0 L50.0,262.7 L51.0,263.6 L52.0,264.4 L53.0,265.4 L54.0,266.3 L55.0,267.3 L56.0,268.4 L57.0,269.4 L58.0,270.5 L59.0,271.6 L60.0,272.7 L61.0,273.7 L62.0,274.8 L63.0,275.9 L64.0,276.9 L65.0,278.0 L66.0,279.0 L67.0,280.1 L68.0,281.1 L69.0,282.1 L70.0,283.2 L71.0,284.2 L72.0,285.2 L73.0,286.2 L74.0,287.2 L75.0,288.2 L76.0,289.2 L77.0,290.1 L78.0,291.1 L79.0,292.1 L80.0,293.0 L81.0,294.0 L82.0,294.9 L83.0,295.8 L84.0,296.7 L85.0,297.6 L86.0,298.5 L87.0,299.4 L88.0,300.3 L89.0,301.1 L90.0,302.0 L91.0,302.8 L92.0,303.7 L93.0,304.5 L94.0,305.3 L95.0,306.1 L96.0,306.9 L97.0,307.7 L98.0,308.5 L99.0,309.3 L100.0,310.0 L101.0,310.8 L102.0,311.5 L103.0,312.2 L104.0,313.0 L105.0,313.7 L106.0,314.4 L107.0,315.1 L108.0,315.8 L109.0,316.5 L110.0,317.1 L111.0,317.8 L112.0,318.4 L113.0,319.1 L114.0,319.7 L115.0,320.3 L116.0,321.0 L117.0,321.6 L118.0,322.2 L119.0,322.8 L120.0,323.3 L121.0,323.9 L122.0,324.5 L123.0,325.0 L124.0,325.6 L125.0,326.1 L126.0,326.7 L127.0,327.2 L128.0,327.7 L129.0,328.2 L130.0,328.7 L131.0,329.2 L132.0,329.7 L133.0,330.1 L134.0,330.6 L135.0,331.1 L136.0,331.5 L137.0,332.0 L138.0,332.4 L139.0,332.8 L140.0,333.2 L141.0,333.6 L142.0,334.0 L143.0,334.4 L144.0,334.8 L145.0,335.2 L146.0,335.6 L147.0,335.9 L148.0,336.3 L149.0,336.6 L150.0,337.0 L151.0,337.3 L152.0,337.6 L153.0,337.9 L154.0,338.3 L155.0,338.6 L156.0,338.9 L157.0,339.1 L158.0,339.4 L159.0,339.7 L160.0,340.0 L161.0,340.2 L162.0,340.5 L163.0,340.7 L164.0,341.0 L165.0,341.2 L166.0,341.4 L167.0,341.6 L168.0,341.8 L169.0,342.0 L170.0,342.2 L171.0,342.4 L172.0,342.6 L173.0,342.8 L174.0,342.9 L175.0,343.1 L176.0,343.2 L177.0,343.4 L178.0,343.5 L179.0,343.6 L180.0,343.7 L181.0,343.8 L182.0,343.9 L183.0,344.0 L184.0,344.1 L185.0,344.2 L186.0,344.3 L187.0,344.3 L188.0,344.4 L189.0,344.4 L190.0,344.5 L191.0,344.5 L192.0,344.5 L193.0,344.5 L194.0,344.5 L195.0,344.5 L196.0,344.5 L197.0,344.5 L198.0,344.5 L199.0,344.4 L200.0,344.4 L201.0,344.3 L202.0,344.3 L203.0,344.2 L204.0,344.1 L205.0,344.0 L206.0,344.0 L207.0,343.9 L208.0,343.7 L209.0,343.6 L210.0,343.5 L211.0,343.4 L212.0,343.2 L213.0,343.1 L214.0,342.9 L215.0,342.7 L216.0,342.5 L217.0,342.3 L218.0,342.2 L219.0,341.9 L220.0,341.7 L221.0,341.5 L222.0,341.3 L223.0,341.0 L224.0,340.8 L225.0,340.5 L226.0,340.2 L227.0,340.0 L228.0,339.7 L229.0,339.4 L230.0,339.1 L231.0,338.8 L232.0,338.4 L233.0,338.1 L234.0,337.8 L235.0,337.4 L236.0,337.0 L237.0,336.7 L238.0,336.3 L239.0,335.9 L240.0,335.5 L241.0,335.1 L242.0,334.7 L243.0,334.3 L244.0,333.8 L245.0,333.4 L246.0,332.9 L247.0,332.4 L248.0,332.0 L249.0,331.5 L250.0,331.0 L251.0,330.5 L252.0,330.0 L253.0,329.5 L254.0,329.0 L255.0,328.5 L256.0,328.0 L257.0,327.5 L258.0,327.0 L259.0,326.5 L260.0,326.0 L261.0,325.5 L262.0,325.1 L263.0,324.6 L264.0,324.2 L265.0,323.7 L266.0,323.3 L267.0,322.9 L268.0,322.5 L269.0,322.1 L270.0,321.8 L271.0,321.4 L272.0,321.1 L273.0,320.8 L274.0,320.6 L275.0,320.3 L276.0,320.1 L277.0,319.9 L278.0,319.7 L279.0,319.6 L280.0,319.5 L281.0,319.4 L282.0,319.4 L283.0,319.4 L284.0,319.4 L285.0,319.5 L286.0,319.6 L287.0,319.8 L288.0,320.0 L289.0,320.2 L290.0,320.5 L291.0,320.8 L292.0,321.2 L293.0,321.6" fill="none" stroke="#1FA22E" stroke-width="1.45" stroke-linejoin="round"/>
<path d="M43.0,277.0 L44.0,277.0 L45.0,277.1 L46.0,277.3 L47.0,277.6 L48.0,278.0 L49.0,278.5 L50.0,279.0 L51.0,279.6 L52.0,280.3 L53.0,281.0 L54.0,281.8 L55.0,282.6 L56.0,283.5 L57.0,284.4 L58.0,285.3 L59.0,286.2 L60.0,287.1 L61.0,288.0 L62.0,289.0 L63.0,289.9 L64.0,290.8 L65.0,291.7 L66.0,292.7 L67.0,293.6 L68.0,294.5 L69.0,295.5 L70.0,296.4 L71.0,297.3 L72.0,298.2 L73.0,299.1 L74.0,300.1 L75.0,301.0 L76.0,301.9 L77.0,302.8 L78.0,303.7 L79.0,304.6 L80.0,305.5 L81.0,306.3 L82.0,307.2 L83.0,308.1 L84.0,308.9 L85.0,309.8 L86.0,310.6 L87.0,311.5 L88.0,312.3 L89.0,313.1 L90.0,313.9 L91.0,314.7 L92.0,315.5 L93.0,316.3 L94.0,317.0 L95.0,317.8 L96.0,318.5 L97.0,319.2 L98.0,320.0 L99.0,320.7 L100.0,321.4 L101.0,322.0 L102.0,322.7 L103.0,323.3 L104.0,324.0 L105.0,324.6 L106.0,325.2 L107.0,325.8 L108.0,326.4 L109.0,327.0 L110.0,327.6 L111.0,328.1 L112.0,328.7 L113.0,329.2 L114.0,329.7 L115.0,330.2 L116.0,330.7 L117.0,331.2 L118.0,331.6 L119.0,332.1 L120.0,332.6 L121.0,333.0 L122.0,333.4 L123.0,333.8 L124.0,334.2 L125.0,334.6 L126.0,335.0 L127.0,335.4 L128.0,335.7 L129.0,336.0 L130.0,336.4 L131.0,336.7 L132.0,337.0 L133.0,337.3 L134.0,337.6 L135.0,337.9 L136.0,338.1 L137.0,338.4 L138.0,338.6 L139.0,338.9 L140.0,339.1 L141.0,339.3 L142.0,339.5 L143.0,339.7 L144.0,339.9 L145.0,340.0 L146.0,340.2 L147.0,340.3 L148.0,340.5 L149.0,340.6 L150.0,340.7 L151.0,340.8 L152.0,340.9 L153.0,341.0 L154.0,341.1 L155.0,341.1 L156.0,341.2 L157.0,341.2 L158.0,341.3 L159.0,341.3 L160.0,341.3 L161.0,341.3 L162.0,341.3 L163.0,341.3 L164.0,341.3 L165.0,341.2 L166.0,341.2 L167.0,341.1 L168.0,341.1 L169.0,341.0 L170.0,340.9 L171.0,340.8 L172.0,340.7 L173.0,340.6 L174.0,340.5 L175.0,340.4 L176.0,340.2 L177.0,340.1 L178.0,339.9 L179.0,339.8 L180.0,339.6 L181.0,339.4 L182.0,339.2 L183.0,339.0 L184.0,338.8 L185.0,338.6 L186.0,338.3 L187.0,338.1 L188.0,337.8 L189.0,337.6 L190.0,337.3 L191.0,337.0 L192.0,336.7 L193.0,336.4 L194.0,336.1 L195.0,335.7 L196.0,335.4 L197.0,335.1 L198.0,334.7 L199.0,334.3 L200.0,334.0 L201.0,333.6 L202.0,333.2 L203.0,332.8 L204.0,332.4 L205.0,331.9 L206.0,331.5 L207.0,331.0 L208.0,330.6 L209.0,330.1 L210.0,329.6 L211.0,329.2 L212.0,328.7 L213.0,328.1 L214.0,327.6 L215.0,327.1 L216.0,326.6 L217.0,326.0 L218.0,325.4 L219.0,324.9 L220.0,324.3 L221.0,323.7 L222.0,323.1 L223.0,322.5 L224.0,321.8 L225.0,321.2 L226.0,320.6 L227.0,319.9 L228.0,319.2 L229.0,318.5 L230.0,317.9 L231.0,317.2 L232.0,316.4 L233.0,315.7 L234.0,315.0 L235.0,314.2 L236.0,313.5 L237.0,312.7 L238.0,311.9 L239.0,311.1 L240.0,310.3 L241.0,309.5 L242.0,308.7 L243.0,307.9 L244.0,307.0 L245.0,306.2 L246.0,305.3 L247.0,304.4 L248.0,303.5 L249.0,302.6 L250.0,301.7 L251.0,300.8 L252.0,299.9 L253.0,299.0 L254.0,298.1 L255.0,297.2 L256.0,296.3 L257.0,295.4 L258.0,294.6 L259.0,293.7 L260.0,292.9 L261.0,292.1 L262.0,291.3 L263.0,290.5 L264.0,289.7 L265.0,289.0 L266.0,288.3 L267.0,287.6 L268.0,287.0 L269.0,286.4 L270.0,285.9 L271.0,285.4 L272.0,284.9 L273.0,284.5 L274.0,284.1 L275.0,283.7 L276.0,283.5 L277.0,283.2 L278.0,283.1 L279.0,283.0 L280.0,282.9 L281.0,282.9 L282.0,283.0 L283.0,283.2 L284.0,283.4 L285.0,283.7 L286.0,284.0 L287.0,284.5 L288.0,285.0 L289.0,285.6 L290.0,286.2 L291.0,287.0 L292.0,287.9 L293.0,288.8" fill="none" stroke="#000000" stroke-width="1.45" stroke-linejoin="round"/>
</g>
<line x1="43.00" y1="208.0" x2="43.00" y2="370.6" stroke="#000" stroke-width="1.8"/>
<line x1="39.60" y1="250.90" x2="43.00" y2="250.90" stroke="#222" stroke-width="1.3"/>
<text x="37.20" y="255.10" font-size="10.25" fill="#4D4D4D" stroke="#4D4D4D" stroke-width="0.25" text-anchor="end">1.50</text>
<line x1="39.60" y1="292.00" x2="43.00" y2="292.00" stroke="#222" stroke-width="1.3"/>
<text x="37.20" y="296.20" font-size="10.25" fill="#4D4D4D" stroke="#4D4D4D" stroke-width="0.25" text-anchor="end">1.25</text>
<line x1="39.60" y1="342.30" x2="43.00" y2="342.30" stroke="#222" stroke-width="1.3"/>
<text x="37.20" y="346.50" font-size="10.25" fill="#4D4D4D" stroke="#4D4D4D" stroke-width="0.25" text-anchor="end">1.00</text>
<line x1="42.10" y1="369.70" x2="293.00" y2="369.70" stroke="#000" stroke-width="1.7"/>
<line x1="66.79" y1="369.70" x2="66.79" y2="373.00" stroke="#222" stroke-width="1.3"/>
<text x="66.79" y="384.10" font-size="10.25" fill="#4D4D4D" stroke="#4D4D4D" stroke-width="0.25" text-anchor="middle">−8</text>
<line x1="92.03" y1="369.70" x2="92.03" y2="373.00" stroke="#222" stroke-width="1.3"/>
<text x="92.03" y="384.10" font-size="10.25" fill="#4D4D4D" stroke="#4D4D4D" stroke-width="0.25" text-anchor="middle">−6</text>
<line x1="117.27" y1="369.70" x2="117.27" y2="373.00" stroke="#222" stroke-width="1.3"/>
<text x="117.27" y="384.10" font-size="10.25" fill="#4D4D4D" stroke="#4D4D4D" stroke-width="0.25" text-anchor="middle">−4</text>
<line x1="142.51" y1="369.70" x2="142.51" y2="373.00" stroke="#222" stroke-width="1.3"/>
<text x="142.51" y="384.10" font-size="10.25" fill="#4D4D4D" stroke="#4D4D4D" stroke-width="0.25" text-anchor="middle">−2</text>
<line x1="167.75" y1="369.70" x2="167.75" y2="373.00" stroke="#222" stroke-width="1.3"/>
<text x="167.75" y="384.10" font-size="10.25" fill="#4D4D4D" stroke="#4D4D4D" stroke-width="0.25" text-anchor="middle">0</text>
<line x1="192.99" y1="369.70" x2="192.99" y2="373.00" stroke="#222" stroke-width="1.3"/>
<text x="192.99" y="384.10" font-size="10.25" fill="#4D4D4D" stroke="#4D4D4D" stroke-width="0.25" text-anchor="middle">2</text>
<line x1="218.23" y1="369.70" x2="218.23" y2="373.00" stroke="#222" stroke-width="1.3"/>
<text x="218.23" y="384.10" font-size="10.25" fill="#4D4D4D" stroke="#4D4D4D" stroke-width="0.25" text-anchor="middle">4</text>
<line x1="243.47" y1="369.70" x2="243.47" y2="373.00" stroke="#222" stroke-width="1.3"/>
<text x="243.47" y="384.10" font-size="10.25" fill="#4D4D4D" stroke="#4D4D4D" stroke-width="0.25" text-anchor="middle">6</text>
<line x1="268.71" y1="369.70" x2="268.71" y2="373.00" stroke="#222" stroke-width="1.3"/>
<text x="268.71" y="384.10" font-size="10.25" fill="#4D4D4D" stroke="#4D4D4D" stroke-width="0.25" text-anchor="middle">8</text>
<g clip-path="url(#cBR)">
<path d="M325.5,262.0 L326.5,262.4 L327.5,262.7 L328.5,263.1 L329.5,263.5 L330.5,264.0 L331.5,264.4 L332.5,264.9 L333.5,265.4 L334.5,266.0 L335.5,266.5 L336.5,267.1 L337.5,267.7 L338.5,268.3 L339.5,268.9 L340.5,269.6 L341.5,270.2 L342.5,270.8 L343.5,271.5 L344.5,272.1 L345.5,272.8 L346.5,273.4 L347.5,274.1 L348.5,274.7 L349.5,275.4 L350.5,276.0 L351.5,276.6 L352.5,277.2 L353.5,277.8 L354.5,278.4 L355.5,279.0 L356.5,279.6 L357.5,280.1 L358.5,280.6 L359.5,281.2 L360.5,281.7 L361.5,282.2 L362.5,282.7 L363.5,283.2 L364.5,283.7 L365.5,284.1 L366.5,284.6 L367.5,285.1 L368.5,285.5 L369.5,286.0 L370.5,286.4 L371.5,286.8 L372.5,287.3 L373.5,287.7 L374.5,288.1 L375.5,288.5 L376.5,288.9 L377.5,289.4 L378.5,289.8 L379.5,290.2 L380.5,290.6 L381.5,291.0 L382.5,291.4 L383.5,291.8 L384.5,292.2 L385.5,292.6 L386.5,293.0 L387.5,293.4 L388.5,293.8 L389.5,294.2 L390.5,294.6 L391.5,295.0 L392.5,295.4 L393.5,295.8 L394.5,296.2 L395.5,296.6 L396.5,297.0 L397.5,297.4 L398.5,297.8 L399.5,298.3 L400.5,298.7 L401.5,299.1 L402.5,299.5 L403.5,299.9 L404.5,300.3 L405.5,300.6 L406.5,301.0 L407.5,301.4 L408.5,301.8 L409.5,302.2 L410.5,302.6 L411.5,302.9 L412.5,303.3 L413.5,303.7 L414.5,304.0 L415.5,304.4 L416.5,304.7 L417.5,305.0 L418.5,305.4 L419.5,305.7 L420.5,306.0 L421.5,306.3 L422.5,306.6 L423.5,306.9 L424.5,307.2 L425.5,307.5 L426.5,307.8 L427.5,308.0 L428.5,308.3 L429.5,308.5 L430.5,308.8 L431.5,309.0 L432.5,309.2 L433.5,309.4 L434.5,309.6 L435.5,309.8 L436.5,310.0 L437.5,310.1 L438.5,310.3 L439.5,310.4 L440.5,310.6 L441.5,310.7 L442.5,310.8 L443.5,310.9 L444.5,310.9 L445.5,311.0 L446.5,311.1 L447.5,311.1 L448.5,311.2 L449.5,311.2 L450.5,311.2 L451.5,311.2 L452.5,311.2 L453.5,311.1 L454.5,311.1 L455.5,311.1 L456.5,311.0 L457.5,310.9 L458.5,310.8 L459.5,310.8 L460.5,310.6 L461.5,310.5 L462.5,310.4 L463.5,310.3 L464.5,310.1 L465.5,309.9 L466.5,309.8 L467.5,309.6 L468.5,309.4 L469.5,309.2 L470.5,308.9 L471.5,308.7 L472.5,308.5 L473.5,308.2 L474.5,307.9 L475.5,307.7 L476.5,307.4 L477.5,307.1 L478.5,306.8 L479.5,306.4 L480.5,306.1 L481.5,305.8 L482.5,305.4 L483.5,305.1 L484.5,304.8 L485.5,304.4 L486.5,304.1 L487.5,303.7 L488.5,303.4 L489.5,303.0 L490.5,302.7 L491.5,302.3 L492.5,302.0 L493.5,301.7 L494.5,301.4 L495.5,301.1 L496.5,300.8 L497.5,300.5 L498.5,300.2 L499.5,299.9 L500.5,299.7 L501.5,299.4 L502.5,299.2 L503.5,299.0 L504.5,298.8 L505.5,298.5 L506.5,298.3 L507.5,298.1 L508.5,297.8 L509.5,297.6 L510.5,297.3 L511.5,297.0 L512.5,296.7 L513.5,296.4 L514.5,296.0 L515.5,295.6 L516.5,295.2 L517.5,294.8 L518.5,294.3 L519.5,293.9 L520.5,293.4 L521.5,292.9 L522.5,292.4 L523.5,292.0 L524.5,291.5 L525.5,291.0 L526.5,290.6 L527.5,290.2 L528.5,289.7 L529.5,289.3 L530.5,288.9 L531.5,288.5 L532.5,288.0 L533.5,287.6 L534.5,287.2 L535.5,286.8 L536.5,286.3 L537.5,285.9 L538.5,285.4 L539.5,284.9 L540.5,284.4 L541.5,283.9 L542.5,283.3 L543.5,282.7 L544.5,282.1 L545.5,281.5 L546.5,280.8 L547.5,280.1 L548.5,279.4 L549.5,278.6 L550.5,277.8 L551.5,276.9 L552.5,276.0 L553.5,274.9 L554.5,273.8 L555.5,272.6 L556.5,271.3 L557.5,269.8 L558.5,268.2 L559.5,266.5 L560.5,264.7 L561.5,262.7 L562.5,260.5 L563.5,258.2 L564.5,255.7 L565.5,253.0 L566.5,250.1 L567.5,247.0 L568.5,243.7 L569.5,240.2 L570.5,236.4 L571.5,232.5 L572.5,228.3 L573.5,223.9 L574.5,219.2 L575.5,214.3 L575.5,345.8 L574.5,345.7 L573.5,345.6 L572.5,345.7 L571.5,345.9 L570.5,346.2 L569.5,346.7 L568.5,347.2 L567.5,347.7 L566.5,348.4 L565.5,349.1 L564.5,349.8 L563.5,350.6 L562.5,351.3 L561.5,352.1 L560.5,352.9 L559.5,353.7 L558.5,354.4 L557.5,355.1 L556.5,355.7 L555.5,356.3 L554.5,356.8 L553.5,357.2 L552.5,357.5 L551.5,357.8 L550.5,357.9 L549.5,357.9 L548.5,357.8 L547.5,357.6 L546.5,357.3 L545.5,356.9 L544.5,356.3 L543.5,355.7 L542.5,354.9 L541.5,354.1 L540.5,353.2 L539.5,352.4 L538.5,351.5 L537.5,350.6 L536.5,349.8 L535.5,349.0 L534.5,348.2 L533.5,347.5 L532.5,346.8 L531.5,346.2 L530.5,345.5 L529.5,344.9 L528.5,344.4 L527.5,343.8 L526.5,343.3 L525.5,342.7 L524.5,342.2 L523.5,341.7 L522.5,341.2 L521.5,340.7 L520.5,340.2 L519.5,339.7 L518.5,339.2 L517.5,338.7 L516.5,338.2 L515.5,337.7 L514.5,337.2 L513.5,336.7 L512.5,336.2 L511.5,335.7 L510.5,335.2 L509.5,334.8 L508.5,334.3 L507.5,333.8 L506.5,333.3 L505.5,332.8 L504.5,332.4 L503.5,331.9 L502.5,331.4 L501.5,331.0 L500.5,330.5 L499.5,330.0 L498.5,329.6 L497.5,329.1 L496.5,328.6 L495.5,328.2 L494.5,327.7 L493.5,327.3 L492.5,326.8 L491.5,326.3 L490.5,325.9 L489.5,325.4 L488.5,325.0 L487.5,324.5 L486.5,324.1 L485.5,323.6 L484.5,323.2 L483.5,322.7 L482.5,322.3 L481.5,321.8 L480.5,321.4 L479.5,321.0 L478.5,320.5 L477.5,320.1 L476.5,319.7 L475.5,319.3 L474.5,318.9 L473.5,318.5 L472.5,318.2 L471.5,317.8 L470.5,317.4 L469.5,317.1 L468.5,316.8 L467.5,316.5 L466.5,316.2 L465.5,315.9 L464.5,315.6 L463.5,315.4 L462.5,315.1 L461.5,314.9 L460.5,314.7 L459.5,314.5 L458.5,314.4 L457.5,314.2 L456.5,314.1 L455.5,313.9 L454.5,313.8 L453.5,313.7 L452.5,313.7 L451.5,313.6 L450.5,313.5 L449.5,313.5 L448.5,313.5 L447.5,313.5 L446.5,313.5 L445.5,313.5 L444.5,313.5 L443.5,313.5 L442.5,313.6 L441.5,313.6 L440.5,313.7 L439.5,313.8 L438.5,313.9 L437.5,314.0 L436.5,314.1 L435.5,314.2 L434.5,314.3 L433.5,314.4 L432.5,314.6 L431.5,314.7 L430.5,314.9 L429.5,315.0 L428.5,315.2 L427.5,315.4 L426.5,315.6 L425.5,315.8 L424.5,316.0 L423.5,316.2 L422.5,316.4 L421.5,316.7 L420.5,316.9 L419.5,317.1 L418.5,317.4 L417.5,317.7 L416.5,317.9 L415.5,318.2 L414.5,318.5 L413.5,318.8 L412.5,319.0 L411.5,319.3 L410.5,319.6 L409.5,320.0 L408.5,320.3 L407.5,320.6 L406.5,320.9 L405.5,321.3 L404.5,321.6 L403.5,321.9 L402.5,322.3 L401.5,322.7 L400.5,323.0 L399.5,323.4 L398.5,323.7 L397.5,324.1 L396.5,324.5 L395.5,324.9 L394.5,325.3 L393.5,325.7 L392.5,326.1 L391.5,326.5 L390.5,326.9 L389.5,327.3 L388.5,327.7 L387.5,328.1 L386.5,328.5 L385.5,329.0 L384.5,329.4 L383.5,329.8 L382.5,330.3 L381.5,330.7 L380.5,331.1 L379.5,331.6 L378.5,332.0 L377.5,332.5 L376.5,332.9 L375.5,333.4 L374.5,333.8 L373.5,334.3 L372.5,334.7 L371.5,335.2 L370.5,335.7 L369.5,336.1 L368.5,336.6 L367.5,337.1 L366.5,337.5 L365.5,338.0 L364.5,338.5 L363.5,338.9 L362.5,339.4 L361.5,339.9 L360.5,340.4 L359.5,340.9 L358.5,341.4 L357.5,341.9 L356.5,342.4 L355.5,342.9 L354.5,343.5 L353.5,344.1 L352.5,344.7 L351.5,345.3 L350.5,346.0 L349.5,346.7 L348.5,347.4 L347.5,348.2 L346.5,349.0 L345.5,349.9 L344.5,350.7 L343.5,351.6 L342.5,352.5 L341.5,353.4 L340.5,354.3 L339.5,355.2 L338.5,356.0 L337.5,356.8 L336.5,357.6 L335.5,358.3 L334.5,359.0 L333.5,359.6 L332.5,360.1 L331.5,360.6 L330.5,361.0 L329.5,361.3 L328.5,361.4 L327.5,361.5 L326.5,361.5 L325.5,361.3 Z" fill="#E9E4DA"/>
<path d="M325.0,334.6 L326.0,334.3 L327.0,334.1 L328.0,333.9 L329.0,333.6 L330.0,333.4 L331.0,333.2 L332.0,332.9 L333.0,332.7 L334.0,332.5 L335.0,332.2 L336.0,332.0 L337.0,331.8 L338.0,331.6 L339.0,331.3 L340.0,331.1 L341.0,330.9 L342.0,330.7 L343.0,330.4 L344.0,330.2 L345.0,330.0 L346.0,329.8 L347.0,329.6 L348.0,329.3 L349.0,329.1 L350.0,328.9 L351.0,328.7 L352.0,328.5 L353.0,328.3 L354.0,328.1 L355.0,327.9 L356.0,327.7 L357.0,327.4 L358.0,327.2 L359.0,327.0 L360.0,326.8 L361.0,326.6 L362.0,326.4 L363.0,326.2 L364.0,326.0 L365.0,325.8 L366.0,325.6 L367.0,325.4 L368.0,325.2 L369.0,325.0 L370.0,324.8 L371.0,324.6 L372.0,324.4 L373.0,324.2 L374.0,324.1 L375.0,323.9 L376.0,323.7 L377.0,323.5 L378.0,323.3 L379.0,323.1 L380.0,322.9 L381.0,322.7 L382.0,322.6 L383.0,322.4 L384.0,322.2 L385.0,322.0 L386.0,321.8 L387.0,321.6 L388.0,321.5 L389.0,321.3 L390.0,321.1 L391.0,320.9 L392.0,320.8 L393.0,320.6 L394.0,320.4 L395.0,320.2 L396.0,320.1 L397.0,319.9 L398.0,319.7 L399.0,319.5 L400.0,319.4 L401.0,319.2 L402.0,319.0 L403.0,318.9 L404.0,318.7 L405.0,318.6 L406.0,318.4 L407.0,318.2 L408.0,318.1 L409.0,317.9 L410.0,317.7 L411.0,317.6 L412.0,317.4 L413.0,317.3 L414.0,317.1 L415.0,317.0 L416.0,316.8 L417.0,316.7 L418.0,316.5 L419.0,316.3 L420.0,316.2 L421.0,316.0 L422.0,315.9 L423.0,315.8 L424.0,315.6 L425.0,315.5 L426.0,315.3 L427.0,315.2 L428.0,315.0 L429.0,314.9 L430.0,314.7 L431.0,314.6 L432.0,314.5 L433.0,314.3 L434.0,314.2 L435.0,314.0 L436.0,313.9 L437.0,313.8 L438.0,313.6 L439.0,313.5 L440.0,313.4 L441.0,313.2 L442.0,313.1 L443.0,313.0 L444.0,312.8 L445.0,312.7 L446.0,312.6 L447.0,312.4 L448.0,312.3 L449.0,312.2 L450.0,312.1 L451.0,311.9 L452.0,311.8 L453.0,311.7 L454.0,311.6 L455.0,311.5 L456.0,311.3 L457.0,311.2 L458.0,311.1 L459.0,311.0 L460.0,310.9 L461.0,310.7 L462.0,310.6 L463.0,310.5 L464.0,310.4 L465.0,310.3 L466.0,310.2 L467.0,310.1 L468.0,310.0 L469.0,309.9 L470.0,309.7 L471.0,309.6 L472.0,309.5 L473.0,309.4 L474.0,309.3 L475.0,309.2 L476.0,309.1 L477.0,309.0 L478.0,308.9 L479.0,308.8 L480.0,308.7 L481.0,308.6 L482.0,308.5 L483.0,308.4 L484.0,308.3 L485.0,308.2 L486.0,308.2 L487.0,308.1 L488.0,308.0 L489.0,307.9 L490.0,307.8 L491.0,307.7 L492.0,307.6 L493.0,307.5 L494.0,307.5 L495.0,307.4 L496.0,307.3 L497.0,307.2 L498.0,307.2 L499.0,307.1 L500.0,307.0 L501.0,306.9 L502.0,306.9 L503.0,306.8 L504.0,306.7 L505.0,306.7 L506.0,306.6 L507.0,306.5 L508.0,306.5 L509.0,306.4 L510.0,306.4 L511.0,306.3 L512.0,306.2 L513.0,306.2 L514.0,306.1 L515.0,306.1 L516.0,306.0 L517.0,306.0 L518.0,306.0 L519.0,305.9 L520.0,305.9 L521.0,305.8 L522.0,305.8 L523.0,305.8 L524.0,305.7 L525.0,305.7 L526.0,305.7 L527.0,305.6 L528.0,305.6 L529.0,305.6 L530.0,305.6 L531.0,305.5 L532.0,305.5 L533.0,305.5 L534.0,305.4 L535.0,305.4 L536.0,305.3 L537.0,305.3 L538.0,305.2 L539.0,305.1 L540.0,305.1 L541.0,305.0 L542.0,304.9 L543.0,304.8 L544.0,304.7 L545.0,304.6 L546.0,304.4 L547.0,304.3 L548.0,304.1 L549.0,303.9 L550.0,303.8 L551.0,303.6 L552.0,303.3 L553.0,303.1 L554.0,302.8 L555.0,302.6 L556.0,302.3 L557.0,302.0 L558.0,301.6 L559.0,301.3 L560.0,300.9 L561.0,300.5 L562.0,300.1 L563.0,299.6 L564.0,299.2 L565.0,298.7 L566.0,298.2 L567.0,297.6 L568.0,297.1 L569.0,296.5 L570.0,295.9 L571.0,295.3 L572.0,294.6 L573.0,293.9 L574.0,293.2 L575.0,292.5 L575.5,292.1" fill="none" stroke="#fff" stroke-opacity="0.6" stroke-width="4.2" stroke-linejoin="round"/>
<path d="M325.0,324.3 L326.0,324.0 L327.0,323.8 L328.0,323.6 L329.0,323.4 L330.0,323.2 L331.0,323.0 L332.0,322.8 L333.0,322.7 L334.0,322.5 L335.0,322.3 L336.0,322.2 L337.0,322.0 L338.0,321.9 L339.0,321.7 L340.0,321.6 L341.0,321.5 L342.0,321.4 L343.0,321.3 L344.0,321.2 L345.0,321.1 L346.0,321.0 L347.0,320.9 L348.0,320.8 L349.0,320.7 L350.0,320.6 L351.0,320.5 L352.0,320.4 L353.0,320.3 L354.0,320.3 L355.0,320.2 L356.0,320.1 L357.0,320.1 L358.0,320.0 L359.0,319.9 L360.0,319.8 L361.0,319.8 L362.0,319.7 L363.0,319.6 L364.0,319.6 L365.0,319.5 L366.0,319.4 L367.0,319.4 L368.0,319.3 L369.0,319.2 L370.0,319.1 L371.0,319.0 L372.0,319.0 L373.0,318.9 L374.0,318.8 L375.0,318.7 L376.0,318.6 L377.0,318.5 L378.0,318.4 L379.0,318.3 L380.0,318.2 L381.0,318.0 L382.0,317.9 L383.0,317.8 L384.0,317.7 L385.0,317.6 L386.0,317.5 L387.0,317.3 L388.0,317.2 L389.0,317.1 L390.0,317.0 L391.0,316.8 L392.0,316.7 L393.0,316.6 L394.0,316.5 L395.0,316.4 L396.0,316.2 L397.0,316.1 L398.0,316.0 L399.0,315.9 L400.0,315.8 L401.0,315.7 L402.0,315.6 L403.0,315.5 L404.0,315.4 L405.0,315.3 L406.0,315.3 L407.0,315.2 L408.0,315.1 L409.0,315.0 L410.0,314.9 L411.0,314.9 L412.0,314.8 L413.0,314.7 L414.0,314.7 L415.0,314.6 L416.0,314.5 L417.0,314.5 L418.0,314.4 L419.0,314.3 L420.0,314.3 L421.0,314.2 L422.0,314.2 L423.0,314.1 L424.0,314.1 L425.0,314.0 L426.0,313.9 L427.0,313.9 L428.0,313.8 L429.0,313.8 L430.0,313.7 L431.0,313.7 L432.0,313.6 L433.0,313.5 L434.0,313.5 L435.0,313.4 L436.0,313.4 L437.0,313.3 L438.0,313.2 L439.0,313.2 L440.0,313.1 L441.0,313.0 L442.0,313.0 L443.0,312.9 L444.0,312.8 L445.0,312.7 L446.0,312.7 L447.0,312.6 L448.0,312.5 L449.0,312.4 L450.0,312.3 L451.0,312.2 L452.0,312.1 L453.0,312.0 L454.0,312.0 L455.0,311.9 L456.0,311.8 L457.0,311.7 L458.0,311.6 L459.0,311.5 L460.0,311.4 L461.0,311.3 L462.0,311.2 L463.0,311.2 L464.0,311.1 L465.0,311.1 L466.0,311.0 L467.0,310.9 L468.0,310.9 L469.0,310.9 L470.0,310.8 L471.0,310.8 L472.0,310.7 L473.0,310.7 L474.0,310.7 L475.0,310.6 L476.0,310.6 L477.0,310.5 L478.0,310.5 L479.0,310.5 L480.0,310.4 L481.0,310.4 L482.0,310.3 L483.0,310.3 L484.0,310.2 L485.0,310.2 L486.0,310.2 L487.0,310.1 L488.0,310.1 L489.0,310.0 L490.0,310.0 L491.0,309.9 L492.0,309.9 L493.0,309.8 L494.0,309.8 L495.0,309.7 L496.0,309.7 L497.0,309.6 L498.0,309.5 L499.0,309.5 L500.0,309.4 L501.0,309.4 L502.0,309.3 L503.0,309.3 L504.0,309.2 L505.0,309.2 L506.0,309.1 L507.0,309.1 L508.0,309.0 L509.0,309.0 L510.0,308.9 L511.0,308.8 L512.0,308.8 L513.0,308.7 L514.0,308.7 L515.0,308.6 L516.0,308.6 L517.0,308.5 L518.0,308.5 L519.0,308.4 L520.0,308.4 L521.0,308.3 L522.0,308.3 L523.0,308.2 L524.0,308.2 L525.0,308.1 L526.0,308.1 L527.0,308.0 L528.0,308.0 L529.0,308.0 L530.0,307.9 L531.0,307.9 L532.0,307.8 L533.0,307.8 L534.0,307.7 L535.0,307.7 L536.0,307.7 L537.0,307.6 L538.0,307.6 L539.0,307.6 L540.0,307.5 L541.0,307.5 L542.0,307.4 L543.0,307.4 L544.0,307.3 L545.0,307.3 L546.0,307.2 L547.0,307.1 L548.0,307.0 L549.0,306.8 L550.0,306.7 L551.0,306.5 L552.0,306.3 L553.0,306.1 L554.0,305.8 L555.0,305.5 L556.0,305.2 L557.0,304.9 L558.0,304.5 L559.0,304.1 L560.0,303.6 L561.0,303.1 L562.0,302.5 L563.0,302.0 L564.0,301.4 L565.0,300.7 L566.0,300.1 L567.0,299.4 L568.0,298.7 L569.0,298.1 L570.0,297.4 L571.0,296.7 L572.0,296.0 L573.0,295.3 L574.0,294.6 L575.0,294.0 L575.5,293.6" fill="none" stroke="#fff" stroke-opacity="0.6" stroke-width="4.2" stroke-linejoin="round"/>
<path d="M325.0,277.7 L326.0,278.1 L327.0,278.4 L328.0,278.8 L329.0,279.2 L330.0,279.6 L331.0,279.9 L332.0,280.3 L333.0,280.7 L334.0,281.1 L335.0,281.4 L336.0,281.8 L337.0,282.1 L338.0,282.5 L339.0,282.8 L340.0,283.2 L341.0,283.5 L342.0,283.9 L343.0,284.2 L344.0,284.6 L345.0,284.9 L346.0,285.2 L347.0,285.6 L348.0,285.9 L349.0,286.2 L350.0,286.5 L351.0,286.9 L352.0,287.2 L353.0,287.5 L354.0,287.8 L355.0,288.1 L356.0,288.4 L357.0,288.8 L358.0,289.1 L359.0,289.4 L360.0,289.7 L361.0,290.0 L362.0,290.3 L363.0,290.6 L364.0,290.9 L365.0,291.2 L366.0,291.4 L367.0,291.7 L368.0,292.0 L369.0,292.3 L370.0,292.6 L371.0,292.9 L372.0,293.2 L373.0,293.4 L374.0,293.7 L375.0,294.0 L376.0,294.3 L377.0,294.5 L378.0,294.8 L379.0,295.1 L380.0,295.3 L381.0,295.6 L382.0,295.9 L383.0,296.1 L384.0,296.4 L385.0,296.7 L386.0,296.9 L387.0,297.2 L388.0,297.4 L389.0,297.7 L390.0,297.9 L391.0,298.2 L392.0,298.5 L393.0,298.7 L394.0,299.0 L395.0,299.2 L396.0,299.5 L397.0,299.7 L398.0,299.9 L399.0,300.2 L400.0,300.4 L401.0,300.7 L402.0,300.9 L403.0,301.2 L404.0,301.4 L405.0,301.6 L406.0,301.9 L407.0,302.1 L408.0,302.4 L409.0,302.6 L410.0,302.8 L411.0,303.1 L412.0,303.3 L413.0,303.5 L414.0,303.8 L415.0,304.0 L416.0,304.2 L417.0,304.5 L418.0,304.7 L419.0,304.9 L420.0,305.2 L421.0,305.4 L422.0,305.6 L423.0,305.9 L424.0,306.1 L425.0,306.3 L426.0,306.6 L427.0,306.8 L428.0,307.0 L429.0,307.3 L430.0,307.5 L431.0,307.7 L432.0,307.9 L433.0,308.2 L434.0,308.4 L435.0,308.6 L436.0,308.9 L437.0,309.1 L438.0,309.3 L439.0,309.6 L440.0,309.8 L441.0,310.0 L442.0,310.2 L443.0,310.5 L444.0,310.7 L445.0,310.9 L446.0,311.2 L447.0,311.4 L448.0,311.6 L449.0,311.9 L450.0,312.1 L451.0,312.3 L452.0,312.6 L453.0,312.8 L454.0,313.1 L455.0,313.3 L456.0,313.5 L457.0,313.8 L458.0,314.0 L459.0,314.2 L460.0,314.5 L461.0,314.7 L462.0,314.9 L463.0,315.2 L464.0,315.4 L465.0,315.7 L466.0,315.9 L467.0,316.1 L468.0,316.4 L469.0,316.6 L470.0,316.8 L471.0,317.1 L472.0,317.3 L473.0,317.5 L474.0,317.8 L475.0,318.0 L476.0,318.2 L477.0,318.5 L478.0,318.7 L479.0,318.9 L480.0,319.1 L481.0,319.4 L482.0,319.6 L483.0,319.8 L484.0,320.0 L485.0,320.3 L486.0,320.5 L487.0,320.7 L488.0,320.9 L489.0,321.1 L490.0,321.3 L491.0,321.5 L492.0,321.8 L493.0,322.0 L494.0,322.2 L495.0,322.4 L496.0,322.6 L497.0,322.8 L498.0,323.0 L499.0,323.2 L500.0,323.4 L501.0,323.6 L502.0,323.8 L503.0,323.9 L504.0,324.1 L505.0,324.3 L506.0,324.5 L507.0,324.7 L508.0,324.9 L509.0,325.0 L510.0,325.2 L511.0,325.4 L512.0,325.5 L513.0,325.7 L514.0,325.9 L515.0,326.0 L516.0,326.2 L517.0,326.3 L518.0,326.5 L519.0,326.6 L520.0,326.8 L521.0,326.9 L522.0,327.1 L523.0,327.2 L524.0,327.3 L525.0,327.5 L526.0,327.6 L527.0,327.7 L528.0,327.8 L529.0,327.9 L530.0,328.0 L531.0,328.1 L532.0,328.2 L533.0,328.3 L534.0,328.4 L535.0,328.5 L536.0,328.6 L537.0,328.6 L538.0,328.7 L539.0,328.7 L540.0,328.8 L541.0,328.8 L542.0,328.8 L543.0,328.8 L544.0,328.8 L545.0,328.8 L546.0,328.8 L547.0,328.8 L548.0,328.7 L549.0,328.7 L550.0,328.6 L551.0,328.5 L552.0,328.4 L553.0,328.3 L554.0,328.2 L555.0,328.1 L556.0,327.9 L557.0,327.8 L558.0,327.6 L559.0,327.4 L560.0,327.2 L561.0,326.9 L562.0,326.7 L563.0,326.4 L564.0,326.1 L565.0,325.8 L566.0,325.5 L567.0,325.2 L568.0,324.8 L569.0,324.4 L570.0,324.1 L571.0,323.6 L572.0,323.2 L573.0,322.7 L574.0,322.3 L575.0,321.7 L575.5,321.5" fill="none" stroke="#fff" stroke-opacity="0.6" stroke-width="4.2" stroke-linejoin="round"/>
<path d="M325.0,312.1 L326.0,312.3 L327.0,312.4 L328.0,312.5 L329.0,312.7 L330.0,312.8 L331.0,312.8 L332.0,312.9 L333.0,312.9 L334.0,313.0 L335.0,313.0 L336.0,313.0 L337.0,313.0 L338.0,312.9 L339.0,312.9 L340.0,312.9 L341.0,312.8 L342.0,312.8 L343.0,312.7 L344.0,312.7 L345.0,312.6 L346.0,312.6 L347.0,312.5 L348.0,312.4 L349.0,312.4 L350.0,312.3 L351.0,312.3 L352.0,312.2 L353.0,312.2 L354.0,312.1 L355.0,312.1 L356.0,312.0 L357.0,312.0 L358.0,311.9 L359.0,311.9 L360.0,311.8 L361.0,311.8 L362.0,311.7 L363.0,311.7 L364.0,311.7 L365.0,311.6 L366.0,311.6 L367.0,311.6 L368.0,311.5 L369.0,311.5 L370.0,311.5 L371.0,311.5 L372.0,311.4 L373.0,311.4 L374.0,311.4 L375.0,311.4 L376.0,311.3 L377.0,311.3 L378.0,311.3 L379.0,311.3 L380.0,311.3 L381.0,311.3 L382.0,311.2 L383.0,311.2 L384.0,311.2 L385.0,311.2 L386.0,311.2 L387.0,311.2 L388.0,311.2 L389.0,311.2 L390.0,311.2 L391.0,311.2 L392.0,311.2 L393.0,311.2 L394.0,311.2 L395.0,311.2 L396.0,311.2 L397.0,311.2 L398.0,311.2 L399.0,311.2 L400.0,311.2 L401.0,311.2 L402.0,311.2 L403.0,311.2 L404.0,311.2 L405.0,311.2 L406.0,311.2 L407.0,311.2 L408.0,311.3 L409.0,311.3 L410.0,311.3 L411.0,311.3 L412.0,311.3 L413.0,311.3 L414.0,311.3 L415.0,311.4 L416.0,311.4 L417.0,311.4 L418.0,311.4 L419.0,311.4 L420.0,311.5 L421.0,311.5 L422.0,311.5 L423.0,311.5 L424.0,311.5 L425.0,311.6 L426.0,311.6 L427.0,311.6 L428.0,311.6 L429.0,311.7 L430.0,311.7 L431.0,311.7 L432.0,311.8 L433.0,311.8 L434.0,311.8 L435.0,311.8 L436.0,311.9 L437.0,311.9 L438.0,311.9 L439.0,312.0 L440.0,312.0 L441.0,312.0 L442.0,312.1 L443.0,312.1 L444.0,312.1 L445.0,312.2 L446.0,312.2 L447.0,312.2 L448.0,312.3 L449.0,312.3 L450.0,312.3 L451.0,312.4 L452.0,312.4 L453.0,312.4 L454.0,312.5 L455.0,312.5 L456.0,312.5 L457.0,312.6 L458.0,312.6 L459.0,312.7 L460.0,312.7 L461.0,312.7 L462.0,312.8 L463.0,312.8 L464.0,312.9 L465.0,312.9 L466.0,313.0 L467.0,313.0 L468.0,313.1 L469.0,313.1 L470.0,313.2 L471.0,313.2 L472.0,313.3 L473.0,313.3 L474.0,313.4 L475.0,313.5 L476.0,313.5 L477.0,313.6 L478.0,313.7 L479.0,313.7 L480.0,313.8 L481.0,313.9 L482.0,313.9 L483.0,314.0 L484.0,314.1 L485.0,314.2 L486.0,314.3 L487.0,314.4 L488.0,314.4 L489.0,314.5 L490.0,314.6 L491.0,314.7 L492.0,314.8 L493.0,314.9 L494.0,315.0 L495.0,315.1 L496.0,315.2 L497.0,315.4 L498.0,315.5 L499.0,315.6 L500.0,315.7 L501.0,315.8 L502.0,315.9 L503.0,316.0 L504.0,316.1 L505.0,316.2 L506.0,316.3 L507.0,316.4 L508.0,316.5 L509.0,316.6 L510.0,316.7 L511.0,316.8 L512.0,316.9 L513.0,317.0 L514.0,317.1 L515.0,317.2 L516.0,317.3 L517.0,317.4 L518.0,317.5 L519.0,317.5 L520.0,317.6 L521.0,317.7 L522.0,317.8 L523.0,317.9 L524.0,318.0 L525.0,318.0 L526.0,318.1 L527.0,318.2 L528.0,318.3 L529.0,318.4 L530.0,318.5 L531.0,318.6 L532.0,318.7 L533.0,318.8 L534.0,318.9 L535.0,319.0 L536.0,319.2 L537.0,319.3 L538.0,319.4 L539.0,319.6 L540.0,319.7 L541.0,319.8 L542.0,320.0 L543.0,320.1 L544.0,320.1 L545.0,320.1 L546.0,320.0 L547.0,319.9 L548.0,319.6 L549.0,319.2 L550.0,318.8 L551.0,318.2 L552.0,317.6 L553.0,316.8 L554.0,315.9 L555.0,315.0 L556.0,313.9 L557.0,312.7 L558.0,311.5 L559.0,310.1 L560.0,308.7 L561.0,307.2 L562.0,305.6 L563.0,303.9 L564.0,302.2 L565.0,300.5 L566.0,298.7 L567.0,296.8 L568.0,294.9 L569.0,292.9 L570.0,290.9 L571.0,288.9 L572.0,286.8 L573.0,284.8 L574.0,282.7 L575.0,280.8 L575.5,279.9" fill="none" stroke="#fff" stroke-opacity="0.6" stroke-width="4.2" stroke-linejoin="round"/>
<line x1="325.0" y1="312.30" x2="575.5" y2="312.30" stroke="#000" stroke-width="1.4" stroke-dasharray="5.2 4.7"/>
<path d="M325.0,324.3 L326.0,324.0 L327.0,323.8 L328.0,323.6 L329.0,323.4 L330.0,323.2 L331.0,323.0 L332.0,322.8 L333.0,322.7 L334.0,322.5 L335.0,322.3 L336.0,322.2 L337.0,322.0 L338.0,321.9 L339.0,321.7 L340.0,321.6 L341.0,321.5 L342.0,321.4 L343.0,321.3 L344.0,321.2 L345.0,321.1 L346.0,321.0 L347.0,320.9 L348.0,320.8 L349.0,320.7 L350.0,320.6 L351.0,320.5 L352.0,320.4 L353.0,320.3 L354.0,320.3 L355.0,320.2 L356.0,320.1 L357.0,320.1 L358.0,320.0 L359.0,319.9 L360.0,319.8 L361.0,319.8 L362.0,319.7 L363.0,319.6 L364.0,319.6 L365.0,319.5 L366.0,319.4 L367.0,319.4 L368.0,319.3 L369.0,319.2 L370.0,319.1 L371.0,319.0 L372.0,319.0 L373.0,318.9 L374.0,318.8 L375.0,318.7 L376.0,318.6 L377.0,318.5 L378.0,318.4 L379.0,318.3 L380.0,318.2 L381.0,318.0 L382.0,317.9 L383.0,317.8 L384.0,317.7 L385.0,317.6 L386.0,317.5 L387.0,317.3 L388.0,317.2 L389.0,317.1 L390.0,317.0 L391.0,316.8 L392.0,316.7 L393.0,316.6 L394.0,316.5 L395.0,316.4 L396.0,316.2 L397.0,316.1 L398.0,316.0 L399.0,315.9 L400.0,315.8 L401.0,315.7 L402.0,315.6 L403.0,315.5 L404.0,315.4 L405.0,315.3 L406.0,315.3 L407.0,315.2 L408.0,315.1 L409.0,315.0 L410.0,314.9 L411.0,314.9 L412.0,314.8 L413.0,314.7 L414.0,314.7 L415.0,314.6 L416.0,314.5 L417.0,314.5 L418.0,314.4 L419.0,314.3 L420.0,314.3 L421.0,314.2 L422.0,314.2 L423.0,314.1 L424.0,314.1 L425.0,314.0 L426.0,313.9 L427.0,313.9 L428.0,313.8 L429.0,313.8 L430.0,313.7 L431.0,313.7 L432.0,313.6 L433.0,313.5 L434.0,313.5 L435.0,313.4 L436.0,313.4 L437.0,313.3 L438.0,313.2 L439.0,313.2 L440.0,313.1 L441.0,313.0 L442.0,313.0 L443.0,312.9 L444.0,312.8 L445.0,312.7 L446.0,312.7 L447.0,312.6 L448.0,312.5 L449.0,312.4 L450.0,312.3 L451.0,312.2 L452.0,312.1 L453.0,312.0 L454.0,312.0 L455.0,311.9 L456.0,311.8 L457.0,311.7 L458.0,311.6 L459.0,311.5 L460.0,311.4 L461.0,311.3 L462.0,311.2 L463.0,311.2 L464.0,311.1 L465.0,311.1 L466.0,311.0 L467.0,310.9 L468.0,310.9 L469.0,310.9 L470.0,310.8 L471.0,310.8 L472.0,310.7 L473.0,310.7 L474.0,310.7 L475.0,310.6 L476.0,310.6 L477.0,310.5 L478.0,310.5 L479.0,310.5 L480.0,310.4 L481.0,310.4 L482.0,310.3 L483.0,310.3 L484.0,310.2 L485.0,310.2 L486.0,310.2 L487.0,310.1 L488.0,310.1 L489.0,310.0 L490.0,310.0 L491.0,309.9 L492.0,309.9 L493.0,309.8 L494.0,309.8 L495.0,309.7 L496.0,309.7 L497.0,309.6 L498.0,309.5 L499.0,309.5 L500.0,309.4 L501.0,309.4 L502.0,309.3 L503.0,309.3 L504.0,309.2 L505.0,309.2 L506.0,309.1 L507.0,309.1 L508.0,309.0 L509.0,309.0 L510.0,308.9 L511.0,308.8 L512.0,308.8 L513.0,308.7 L514.0,308.7 L515.0,308.6 L516.0,308.6 L517.0,308.5 L518.0,308.5 L519.0,308.4 L520.0,308.4 L521.0,308.3 L522.0,308.3 L523.0,308.2 L524.0,308.2 L525.0,308.1 L526.0,308.1 L527.0,308.0 L528.0,308.0 L529.0,308.0 L530.0,307.9 L531.0,307.9 L532.0,307.8 L533.0,307.8 L534.0,307.7 L535.0,307.7 L536.0,307.7 L537.0,307.6 L538.0,307.6 L539.0,307.6 L540.0,307.5 L541.0,307.5 L542.0,307.4 L543.0,307.4 L544.0,307.3 L545.0,307.3 L546.0,307.2 L547.0,307.1 L548.0,307.0 L549.0,306.8 L550.0,306.7 L551.0,306.5 L552.0,306.3 L553.0,306.1 L554.0,305.8 L555.0,305.5 L556.0,305.2 L557.0,304.9 L558.0,304.5 L559.0,304.1 L560.0,303.6 L561.0,303.1 L562.0,302.5 L563.0,302.0 L564.0,301.4 L565.0,300.7 L566.0,300.1 L567.0,299.4 L568.0,298.7 L569.0,298.1 L570.0,297.4 L571.0,296.7 L572.0,296.0 L573.0,295.3 L574.0,294.6 L575.0,294.0 L575.5,293.6" fill="none" stroke="#1E72A8" stroke-width="1.45" stroke-linejoin="round"/>
<path d="M325.0,334.6 L326.0,334.3 L327.0,334.1 L328.0,333.9 L329.0,333.6 L330.0,333.4 L331.0,333.2 L332.0,332.9 L333.0,332.7 L334.0,332.5 L335.0,332.2 L336.0,332.0 L337.0,331.8 L338.0,331.6 L339.0,331.3 L340.0,331.1 L341.0,330.9 L342.0,330.7 L343.0,330.4 L344.0,330.2 L345.0,330.0 L346.0,329.8 L347.0,329.6 L348.0,329.3 L349.0,329.1 L350.0,328.9 L351.0,328.7 L352.0,328.5 L353.0,328.3 L354.0,328.1 L355.0,327.9 L356.0,327.7 L357.0,327.4 L358.0,327.2 L359.0,327.0 L360.0,326.8 L361.0,326.6 L362.0,326.4 L363.0,326.2 L364.0,326.0 L365.0,325.8 L366.0,325.6 L367.0,325.4 L368.0,325.2 L369.0,325.0 L370.0,324.8 L371.0,324.6 L372.0,324.4 L373.0,324.2 L374.0,324.1 L375.0,323.9 L376.0,323.7 L377.0,323.5 L378.0,323.3 L379.0,323.1 L380.0,322.9 L381.0,322.7 L382.0,322.6 L383.0,322.4 L384.0,322.2 L385.0,322.0 L386.0,321.8 L387.0,321.6 L388.0,321.5 L389.0,321.3 L390.0,321.1 L391.0,320.9 L392.0,320.8 L393.0,320.6 L394.0,320.4 L395.0,320.2 L396.0,320.1 L397.0,319.9 L398.0,319.7 L399.0,319.5 L400.0,319.4 L401.0,319.2 L402.0,319.0 L403.0,318.9 L404.0,318.7 L405.0,318.6 L406.0,318.4 L407.0,318.2 L408.0,318.1 L409.0,317.9 L410.0,317.7 L411.0,317.6 L412.0,317.4 L413.0,317.3 L414.0,317.1 L415.0,317.0 L416.0,316.8 L417.0,316.7 L418.0,316.5 L419.0,316.3 L420.0,316.2 L421.0,316.0 L422.0,315.9 L423.0,315.8 L424.0,315.6 L425.0,315.5 L426.0,315.3 L427.0,315.2 L428.0,315.0 L429.0,314.9 L430.0,314.7 L431.0,314.6 L432.0,314.5 L433.0,314.3 L434.0,314.2 L435.0,314.0 L436.0,313.9 L437.0,313.8 L438.0,313.6 L439.0,313.5 L440.0,313.4 L441.0,313.2 L442.0,313.1 L443.0,313.0 L444.0,312.8 L445.0,312.7 L446.0,312.6 L447.0,312.4 L448.0,312.3 L449.0,312.2 L450.0,312.1 L451.0,311.9 L452.0,311.8 L453.0,311.7 L454.0,311.6 L455.0,311.5 L456.0,311.3 L457.0,311.2 L458.0,311.1 L459.0,311.0 L460.0,310.9 L461.0,310.7 L462.0,310.6 L463.0,310.5 L464.0,310.4 L465.0,310.3 L466.0,310.2 L467.0,310.1 L468.0,310.0 L469.0,309.9 L470.0,309.7 L471.0,309.6 L472.0,309.5 L473.0,309.4 L474.0,309.3 L475.0,309.2 L476.0,309.1 L477.0,309.0 L478.0,308.9 L479.0,308.8 L480.0,308.7 L481.0,308.6 L482.0,308.5 L483.0,308.4 L484.0,308.3 L485.0,308.2 L486.0,308.2 L487.0,308.1 L488.0,308.0 L489.0,307.9 L490.0,307.8 L491.0,307.7 L492.0,307.6 L493.0,307.5 L494.0,307.5 L495.0,307.4 L496.0,307.3 L497.0,307.2 L498.0,307.2 L499.0,307.1 L500.0,307.0 L501.0,306.9 L502.0,306.9 L503.0,306.8 L504.0,306.7 L505.0,306.7 L506.0,306.6 L507.0,306.5 L508.0,306.5 L509.0,306.4 L510.0,306.4 L511.0,306.3 L512.0,306.2 L513.0,306.2 L514.0,306.1 L515.0,306.1 L516.0,306.0 L517.0,306.0 L518.0,306.0 L519.0,305.9 L520.0,305.9 L521.0,305.8 L522.0,305.8 L523.0,305.8 L524.0,305.7 L525.0,305.7 L526.0,305.7 L527.0,305.6 L528.0,305.6 L529.0,305.6 L530.0,305.6 L531.0,305.5 L532.0,305.5 L533.0,305.5 L534.0,305.4 L535.0,305.4 L536.0,305.3 L537.0,305.3 L538.0,305.2 L539.0,305.1 L540.0,305.1 L541.0,305.0 L542.0,304.9 L543.0,304.8 L544.0,304.7 L545.0,304.6 L546.0,304.4 L547.0,304.3 L548.0,304.1 L549.0,303.9 L550.0,303.8 L551.0,303.6 L552.0,303.3 L553.0,303.1 L554.0,302.8 L555.0,302.6 L556.0,302.3 L557.0,302.0 L558.0,301.6 L559.0,301.3 L560.0,300.9 L561.0,300.5 L562.0,300.1 L563.0,299.6 L564.0,299.2 L565.0,298.7 L566.0,298.2 L567.0,297.6 L568.0,297.1 L569.0,296.5 L570.0,295.9 L571.0,295.3 L572.0,294.6 L573.0,293.9 L574.0,293.2 L575.0,292.5 L575.5,292.1" fill="none" stroke="#EC0A1E" stroke-width="1.45" stroke-linejoin="round"/>
<path d="M325.0,277.7 L326.0,278.1 L327.0,278.4 L328.0,278.8 L329.0,279.2 L330.0,279.6 L331.0,279.9 L332.0,280.3 L333.0,280.7 L334.0,281.1 L335.0,281.4 L336.0,281.8 L337.0,282.1 L338.0,282.5 L339.0,282.8 L340.0,283.2 L341.0,283.5 L342.0,283.9 L343.0,284.2 L344.0,284.6 L345.0,284.9 L346.0,285.2 L347.0,285.6 L348.0,285.9 L349.0,286.2 L350.0,286.5 L351.0,286.9 L352.0,287.2 L353.0,287.5 L354.0,287.8 L355.0,288.1 L356.0,288.4 L357.0,288.8 L358.0,289.1 L359.0,289.4 L360.0,289.7 L361.0,290.0 L362.0,290.3 L363.0,290.6 L364.0,290.9 L365.0,291.2 L366.0,291.4 L367.0,291.7 L368.0,292.0 L369.0,292.3 L370.0,292.6 L371.0,292.9 L372.0,293.2 L373.0,293.4 L374.0,293.7 L375.0,294.0 L376.0,294.3 L377.0,294.5 L378.0,294.8 L379.0,295.1 L380.0,295.3 L381.0,295.6 L382.0,295.9 L383.0,296.1 L384.0,296.4 L385.0,296.7 L386.0,296.9 L387.0,297.2 L388.0,297.4 L389.0,297.7 L390.0,297.9 L391.0,298.2 L392.0,298.5 L393.0,298.7 L394.0,299.0 L395.0,299.2 L396.0,299.5 L397.0,299.7 L398.0,299.9 L399.0,300.2 L400.0,300.4 L401.0,300.7 L402.0,300.9 L403.0,301.2 L404.0,301.4 L405.0,301.6 L406.0,301.9 L407.0,302.1 L408.0,302.4 L409.0,302.6 L410.0,302.8 L411.0,303.1 L412.0,303.3 L413.0,303.5 L414.0,303.8 L415.0,304.0 L416.0,304.2 L417.0,304.5 L418.0,304.7 L419.0,304.9 L420.0,305.2 L421.0,305.4 L422.0,305.6 L423.0,305.9 L424.0,306.1 L425.0,306.3 L426.0,306.6 L427.0,306.8 L428.0,307.0 L429.0,307.3 L430.0,307.5 L431.0,307.7 L432.0,307.9 L433.0,308.2 L434.0,308.4 L435.0,308.6 L436.0,308.9 L437.0,309.1 L438.0,309.3 L439.0,309.6 L440.0,309.8 L441.0,310.0 L442.0,310.2 L443.0,310.5 L444.0,310.7 L445.0,310.9 L446.0,311.2 L447.0,311.4 L448.0,311.6 L449.0,311.9 L450.0,312.1 L451.0,312.3 L452.0,312.6 L453.0,312.8 L454.0,313.1 L455.0,313.3 L456.0,313.5 L457.0,313.8 L458.0,314.0 L459.0,314.2 L460.0,314.5 L461.0,314.7 L462.0,314.9 L463.0,315.2 L464.0,315.4 L465.0,315.7 L466.0,315.9 L467.0,316.1 L468.0,316.4 L469.0,316.6 L470.0,316.8 L471.0,317.1 L472.0,317.3 L473.0,317.5 L474.0,317.8 L475.0,318.0 L476.0,318.2 L477.0,318.5 L478.0,318.7 L479.0,318.9 L480.0,319.1 L481.0,319.4 L482.0,319.6 L483.0,319.8 L484.0,320.0 L485.0,320.3 L486.0,320.5 L487.0,320.7 L488.0,320.9 L489.0,321.1 L490.0,321.3 L491.0,321.5 L492.0,321.8 L493.0,322.0 L494.0,322.2 L495.0,322.4 L496.0,322.6 L497.0,322.8 L498.0,323.0 L499.0,323.2 L500.0,323.4 L501.0,323.6 L502.0,323.8 L503.0,323.9 L504.0,324.1 L505.0,324.3 L506.0,324.5 L507.0,324.7 L508.0,324.9 L509.0,325.0 L510.0,325.2 L511.0,325.4 L512.0,325.5 L513.0,325.7 L514.0,325.9 L515.0,326.0 L516.0,326.2 L517.0,326.3 L518.0,326.5 L519.0,326.6 L520.0,326.8 L521.0,326.9 L522.0,327.1 L523.0,327.2 L524.0,327.3 L525.0,327.5 L526.0,327.6 L527.0,327.7 L528.0,327.8 L529.0,327.9 L530.0,328.0 L531.0,328.1 L532.0,328.2 L533.0,328.3 L534.0,328.4 L535.0,328.5 L536.0,328.6 L537.0,328.6 L538.0,328.7 L539.0,328.7 L540.0,328.8 L541.0,328.8 L542.0,328.8 L543.0,328.8 L544.0,328.8 L545.0,328.8 L546.0,328.8 L547.0,328.8 L548.0,328.7 L549.0,328.7 L550.0,328.6 L551.0,328.5 L552.0,328.4 L553.0,328.3 L554.0,328.2 L555.0,328.1 L556.0,327.9 L557.0,327.8 L558.0,327.6 L559.0,327.4 L560.0,327.2 L561.0,326.9 L562.0,326.7 L563.0,326.4 L564.0,326.1 L565.0,325.8 L566.0,325.5 L567.0,325.2 L568.0,324.8 L569.0,324.4 L570.0,324.1 L571.0,323.6 L572.0,323.2 L573.0,322.7 L574.0,322.3 L575.0,321.7 L575.5,321.5" fill="none" stroke="#1FA22E" stroke-width="1.45" stroke-linejoin="round"/>
<path d="M325.0,312.1 L326.0,312.3 L327.0,312.4 L328.0,312.5 L329.0,312.7 L330.0,312.8 L331.0,312.8 L332.0,312.9 L333.0,312.9 L334.0,313.0 L335.0,313.0 L336.0,313.0 L337.0,313.0 L338.0,312.9 L339.0,312.9 L340.0,312.9 L341.0,312.8 L342.0,312.8 L343.0,312.7 L344.0,312.7 L345.0,312.6 L346.0,312.6 L347.0,312.5 L348.0,312.4 L349.0,312.4 L350.0,312.3 L351.0,312.3 L352.0,312.2 L353.0,312.2 L354.0,312.1 L355.0,312.1 L356.0,312.0 L357.0,312.0 L358.0,311.9 L359.0,311.9 L360.0,311.8 L361.0,311.8 L362.0,311.7 L363.0,311.7 L364.0,311.7 L365.0,311.6 L366.0,311.6 L367.0,311.6 L368.0,311.5 L369.0,311.5 L370.0,311.5 L371.0,311.5 L372.0,311.4 L373.0,311.4 L374.0,311.4 L375.0,311.4 L376.0,311.3 L377.0,311.3 L378.0,311.3 L379.0,311.3 L380.0,311.3 L381.0,311.3 L382.0,311.2 L383.0,311.2 L384.0,311.2 L385.0,311.2 L386.0,311.2 L387.0,311.2 L388.0,311.2 L389.0,311.2 L390.0,311.2 L391.0,311.2 L392.0,311.2 L393.0,311.2 L394.0,311.2 L395.0,311.2 L396.0,311.2 L397.0,311.2 L398.0,311.2 L399.0,311.2 L400.0,311.2 L401.0,311.2 L402.0,311.2 L403.0,311.2 L404.0,311.2 L405.0,311.2 L406.0,311.2 L407.0,311.2 L408.0,311.3 L409.0,311.3 L410.0,311.3 L411.0,311.3 L412.0,311.3 L413.0,311.3 L414.0,311.3 L415.0,311.4 L416.0,311.4 L417.0,311.4 L418.0,311.4 L419.0,311.4 L420.0,311.5 L421.0,311.5 L422.0,311.5 L423.0,311.5 L424.0,311.5 L425.0,311.6 L426.0,311.6 L427.0,311.6 L428.0,311.6 L429.0,311.7 L430.0,311.7 L431.0,311.7 L432.0,311.8 L433.0,311.8 L434.0,311.8 L435.0,311.8 L436.0,311.9 L437.0,311.9 L438.0,311.9 L439.0,312.0 L440.0,312.0 L441.0,312.0 L442.0,312.1 L443.0,312.1 L444.0,312.1 L445.0,312.2 L446.0,312.2 L447.0,312.2 L448.0,312.3 L449.0,312.3 L450.0,312.3 L451.0,312.4 L452.0,312.4 L453.0,312.4 L454.0,312.5 L455.0,312.5 L456.0,312.5 L457.0,312.6 L458.0,312.6 L459.0,312.7 L460.0,312.7 L461.0,312.7 L462.0,312.8 L463.0,312.8 L464.0,312.9 L465.0,312.9 L466.0,313.0 L467.0,313.0 L468.0,313.1 L469.0,313.1 L470.0,313.2 L471.0,313.2 L472.0,313.3 L473.0,313.3 L474.0,313.4 L475.0,313.5 L476.0,313.5 L477.0,313.6 L478.0,313.7 L479.0,313.7 L480.0,313.8 L481.0,313.9 L482.0,313.9 L483.0,314.0 L484.0,314.1 L485.0,314.2 L486.0,314.3 L487.0,314.4 L488.0,314.4 L489.0,314.5 L490.0,314.6 L491.0,314.7 L492.0,314.8 L493.0,314.9 L494.0,315.0 L495.0,315.1 L496.0,315.2 L497.0,315.4 L498.0,315.5 L499.0,315.6 L500.0,315.7 L501.0,315.8 L502.0,315.9 L503.0,316.0 L504.0,316.1 L505.0,316.2 L506.0,316.3 L507.0,316.4 L508.0,316.5 L509.0,316.6 L510.0,316.7 L511.0,316.8 L512.0,316.9 L513.0,317.0 L514.0,317.1 L515.0,317.2 L516.0,317.3 L517.0,317.4 L518.0,317.5 L519.0,317.5 L520.0,317.6 L521.0,317.7 L522.0,317.8 L523.0,317.9 L524.0,318.0 L525.0,318.0 L526.0,318.1 L527.0,318.2 L528.0,318.3 L529.0,318.4 L530.0,318.5 L531.0,318.6 L532.0,318.7 L533.0,318.8 L534.0,318.9 L535.0,319.0 L536.0,319.2 L537.0,319.3 L538.0,319.4 L539.0,319.6 L540.0,319.7 L541.0,319.8 L542.0,320.0 L543.0,320.1 L544.0,320.1 L545.0,320.1 L546.0,320.0 L547.0,319.9 L548.0,319.6 L549.0,319.2 L550.0,318.8 L551.0,318.2 L552.0,317.6 L553.0,316.8 L554.0,315.9 L555.0,315.0 L556.0,313.9 L557.0,312.7 L558.0,311.5 L559.0,310.1 L560.0,308.7 L561.0,307.2 L562.0,305.6 L563.0,303.9 L564.0,302.2 L565.0,300.5 L566.0,298.7 L567.0,296.8 L568.0,294.9 L569.0,292.9 L570.0,290.9 L571.0,288.9 L572.0,286.8 L573.0,284.8 L574.0,282.7 L575.0,280.8 L575.5,279.9" fill="none" stroke="#000000" stroke-width="1.45" stroke-linejoin="round"/>
</g>
<line x1="325.00" y1="208.0" x2="325.00" y2="370.6" stroke="#000" stroke-width="1.8"/>
<line x1="321.60" y1="233.90" x2="325.00" y2="233.90" stroke="#222" stroke-width="1.3"/>
<text x="319.20" y="238.10" font-size="10.25" fill="#4D4D4D" stroke="#4D4D4D" stroke-width="0.25" text-anchor="end">1.50</text>
<line x1="321.60" y1="268.90" x2="325.00" y2="268.90" stroke="#222" stroke-width="1.3"/>
<text x="319.20" y="273.10" font-size="10.25" fill="#4D4D4D" stroke="#4D4D4D" stroke-width="0.25" text-anchor="end">1.25</text>
<line x1="321.60" y1="312.40" x2="325.00" y2="312.40" stroke="#222" stroke-width="1.3"/>
<text x="319.20" y="316.60" font-size="10.25" fill="#4D4D4D" stroke="#4D4D4D" stroke-width="0.25" text-anchor="end">1.00</text>
<line x1="324.10" y1="369.70" x2="575.50" y2="369.70" stroke="#000" stroke-width="1.7"/>
<line x1="348.74" y1="369.70" x2="348.74" y2="373.00" stroke="#222" stroke-width="1.3"/>
<text x="348.74" y="384.10" font-size="10.25" fill="#4D4D4D" stroke="#4D4D4D" stroke-width="0.25" text-anchor="middle">−8</text>
<line x1="373.98" y1="369.70" x2="373.98" y2="373.00" stroke="#222" stroke-width="1.3"/>
<text x="373.98" y="384.10" font-size="10.25" fill="#4D4D4D" stroke="#4D4D4D" stroke-width="0.25" text-anchor="middle">−6</text>
<line x1="399.22" y1="369.70" x2="399.22" y2="373.00" stroke="#222" stroke-width="1.3"/>
<text x="399.22" y="384.10" font-size="10.25" fill="#4D4D4D" stroke="#4D4D4D" stroke-width="0.25" text-anchor="middle">−4</text>
<line x1="424.46" y1="369.70" x2="424.46" y2="373.00" stroke="#222" stroke-width="1.3"/>
<text x="424.46" y="384.10" font-size="10.25" fill="#4D4D4D" stroke="#4D4D4D" stroke-width="0.25" text-anchor="middle">−2</text>
<line x1="449.70" y1="369.70" x2="449.70" y2="373.00" stroke="#222" stroke-width="1.3"/>
<text x="449.70" y="384.10" font-size="10.25" fill="#4D4D4D" stroke="#4D4D4D" stroke-width="0.25" text-anchor="middle">0</text>
<line x1="474.94" y1="369.70" x2="474.94" y2="373.00" stroke="#222" stroke-width="1.3"/>
<text x="474.94" y="384.10" font-size="10.25" fill="#4D4D4D" stroke="#4D4D4D" stroke-width="0.25" text-anchor="middle">2</text>
<line x1="500.18" y1="369.70" x2="500.18" y2="373.00" stroke="#222" stroke-width="1.3"/>
<text x="500.18" y="384.10" font-size="10.25" fill="#4D4D4D" stroke="#4D4D4D" stroke-width="0.25" text-anchor="middle">4</text>
<line x1="525.42" y1="369.70" x2="525.42" y2="373.00" stroke="#222" stroke-width="1.3"/>
<text x="525.42" y="384.10" font-size="10.25" fill="#4D4D4D" stroke="#4D4D4D" stroke-width="0.25" text-anchor="middle">6</text>
<line x1="550.66" y1="369.70" x2="550.66" y2="373.00" stroke="#222" stroke-width="1.3"/>
<text x="550.66" y="384.10" font-size="10.25" fill="#4D4D4D" stroke="#4D4D4D" stroke-width="0.25" text-anchor="middle">8</text>
<rect x="43.40" y="0.80" width="248.70" height="18.80" fill="#fff" stroke="#000" stroke-width="1.6"/>
<text x="167.75" y="13.80" font-size="10.4" fill="#1A1A1A" stroke="#1A1A1A" stroke-width="0.25" text-anchor="middle">Ischemic stroke</text>
<rect x="325.90" y="0.80" width="248.40" height="19.00" fill="#fff" stroke="#000" stroke-width="1.6"/>
<text x="450.10" y="13.80" font-size="10.4" fill="#1A1A1A" stroke="#1A1A1A" stroke-width="0.25" text-anchor="middle">Hemorrhagic stroke</text>
<rect x="43.40" y="188.80" width="248.70" height="19.00" fill="#fff" stroke="#000" stroke-width="1.6"/>
<text x="167.75" y="201.80" font-size="10.4" fill="#1A1A1A" stroke="#1A1A1A" stroke-width="0.25" text-anchor="middle">Stroke</text>
<rect x="325.90" y="188.80" width="248.40" height="19.00" fill="#fff" stroke="#000" stroke-width="1.6"/>
<text x="450.10" y="201.80" font-size="10.4" fill="#1A1A1A" stroke="#1A1A1A" stroke-width="0.25" text-anchor="middle">Transient ischemic attack</text>
<line x1="115.2" y1="45.5" x2="130.9" y2="45.5" stroke="#EC0A1E" stroke-width="1.5"/>
<text x="135.6" y="49.1" font-size="10.1" fill="#000" stroke="#000" stroke-width="0.2">Lag2</text>
<line x1="115.2" y1="65.7" x2="130.9" y2="65.7" stroke="#1E72A8" stroke-width="1.5"/>
<text x="135.6" y="69.4" font-size="10.1" fill="#000" stroke="#000" stroke-width="0.2">Lag1</text>
<line x1="163.3" y1="45.6" x2="179.3" y2="45.6" stroke="#1FA22E" stroke-width="1.5"/>
<text x="184.8" y="49.1" font-size="10.1" fill="#000" stroke="#000" stroke-width="0.2">Lag0</text>
<line x1="163.3" y1="65.5" x2="179.3" y2="65.5" stroke="#000000" stroke-width="1.5"/>
<text x="184.8" y="69.4" font-size="10.1" fill="#000" stroke="#000" stroke-width="0.2">Lag 0−2</text>
<text x="308.5" y="400.8" font-size="13" fill="#000" stroke="#000" stroke-width="0.2" text-anchor="middle">Temperature anomaly (° C)</text>
<text transform="translate(10.4,195) rotate(-90)" font-size="13" fill="#000" stroke="#000" stroke-width="0.2" text-anchor="middle">Odds Ratio</text>
</svg></div></body></html>
